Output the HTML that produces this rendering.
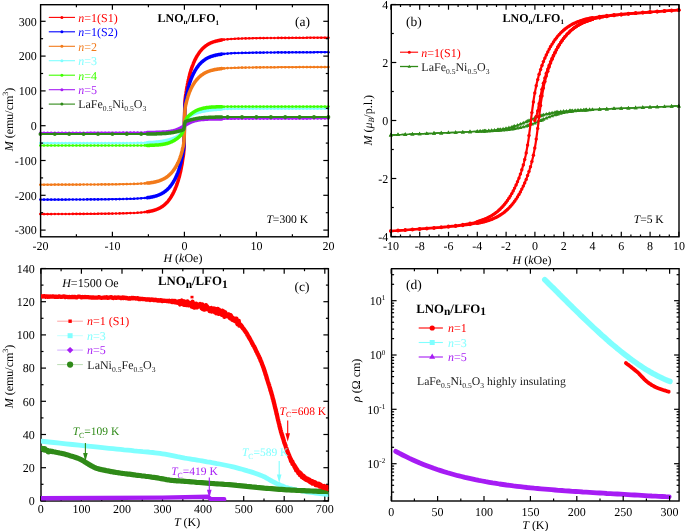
<!DOCTYPE html>
<html><head><meta charset="utf-8"><style>html,body{margin:0;padding:0;background:#fff;}svg text{font-family:"Liberation Serif",serif;text-rendering:geometricPrecision;}svg{display:block;filter:blur(0.3px);}</style></head>
<body>
<svg width="685" height="531" viewBox="0 0 685 531">
<rect width="685" height="531" fill="#fff"/>
<path d="M40.4,214.1 L42.2,214.1 L44,214.1 L45.8,214.1 L47.6,214.1 L49.4,214.1 L51.2,214.1 L53,214 L54.8,214 L56.6,214 L58.4,214 L60.2,214 L62,214 L63.8,214 L65.6,214 L67.4,214 L69.2,214 L71,214 L72.8,213.9 L74.6,213.9 L76.4,213.9 L78.2,213.9 L80,213.9 L81.8,213.9 L83.6,213.9 L85.4,213.9 L87.2,213.8 L89,213.8 L90.8,213.8 L92.6,213.8 L94.4,213.8 L96.2,213.8 L98,213.7 L99.8,213.7 L101.6,213.7 L103.4,213.7 L105.2,213.7 L107,213.6 L108.8,213.6 L110.6,213.6 L112.4,213.6 L114.2,213.5 L116,213.5 L117.8,213.5 L119.6,213.4 L121.4,213.4 L123.2,213.3 L125,213.3 L126.8,213.2 L128.6,213.2 L130.4,213.1 L132.2,213 L134,213 L135.8,212.9 L137.6,212.7 L139.4,212.6 L141.2,212.5 L141.5,212.5 L141.7,212.4 L141.9,212.4 L142.1,212.4 L142.3,212.4 L142.5,212.3 L142.8,212.3 L143,212.3 L143,212.3 L143.2,212.3 L143.4,212.3 L143.6,212.2 L143.8,212.2 L144.1,212.2 L144.3,212.2 L144.5,212.1 L144.7,212.1 L144.8,212.1 L144.9,212.1 L145.1,212.1 L145.4,212 L145.6,212 L145.8,212 L146,211.9 L146.2,211.9 L146.4,211.9 L146.6,211.9 L146.9,211.8 L147.1,211.8 L147.3,211.8 L147.5,211.7 L147.7,211.7 L147.9,211.7 L148.2,211.6 L148.4,211.6 L148.4,211.6 L148.6,211.5 L148.8,211.5 L149,211.5 L149.2,211.4 L149.5,211.4 L149.7,211.3 L149.9,211.3 L150.1,211.3 L150.2,211.2 L150.3,211.2 L150.5,211.2 L150.8,211.1 L151,211.1 L151.2,211 L151.4,211 L151.6,210.9 L151.8,210.9 L152,210.8 L152.3,210.8 L152.5,210.7 L152.7,210.7 L152.9,210.6 L153.1,210.6 L153.3,210.5 L153.6,210.4 L153.8,210.4 L153.8,210.3 L154,210.3 L154.2,210.2 L154.4,210.2 L154.6,210.1 L154.9,210 L155.1,210 L155.3,209.9 L155.5,209.8 L155.6,209.8 L155.7,209.7 L155.9,209.7 L156.2,209.6 L156.4,209.5 L156.6,209.4 L156.8,209.3 L157,209.3 L157.2,209.2 L157.4,209.1 L157.7,209 L157.9,208.9 L158.1,208.8 L158.3,208.7 L158.5,208.6 L158.7,208.5 L159,208.4 L159.2,208.3 L159.2,208.3 L159.4,208.2 L159.6,208.1 L159.8,208 L160,207.8 L160.3,207.7 L160.5,207.6 L160.7,207.5 L160.9,207.3 L161,207.3 L161.1,207.2 L161.3,207.1 L161.6,206.9 L161.8,206.8 L162,206.7 L162.2,206.5 L162.4,206.4 L162.6,206.2 L162.8,206.1 L163.1,205.9 L163.3,205.7 L163.5,205.6 L163.7,205.4 L163.9,205.2 L164.1,205.1 L164.4,204.9 L164.6,204.7 L164.6,204.6 L164.8,204.5 L165,204.3 L165.2,204.1 L165.4,203.9 L165.7,203.7 L165.9,203.5 L166.1,203.3 L166.3,203.1 L166.4,202.9 L166.5,202.9 L166.7,202.6 L167,202.4 L167.2,202.2 L167.4,201.9 L167.6,201.7 L167.8,201.4 L168,201.2 L168.2,200.9 L168.5,200.6 L168.7,200.4 L168.9,200.1 L169.1,199.8 L169.3,199.5 L169.5,199.2 L169.8,198.9 L170,198.6 L170,198.5 L170.2,198.3 L170.4,198 L170.6,197.6 L170.8,197.3 L171.1,197 L171.3,196.6 L171.5,196.3 L171.7,195.9 L171.8,195.6 L171.9,195.5 L172.1,195.1 L172.4,194.8 L172.6,194.4 L172.8,194 L173,193.6 L173.2,193.1 L173.4,192.7 L173.6,192.3 L173.9,191.8 L174.1,191.4 L174.3,190.9 L174.5,190.4 L174.7,190 L174.9,189.5 L175.2,189 L175.4,188.4 L175.4,188.3 L175.6,187.9 L175.8,187.4 L176,186.8 L176.2,186.3 L176.5,185.7 L176.7,185.1 L176.9,184.5 L177.1,183.9 L177.2,183.5 L177.3,183.3 L177.5,182.6 L177.8,181.9 L178,181.3 L178.2,180.6 L178.4,179.8 L178.6,179.1 L178.8,178.4 L179,177.6 L179.3,176.8 L179.5,175.9 L179.7,175.1 L179.9,174.2 L180.1,173.3 L180.3,172.4 L180.6,171.4 L180.8,170.4 L180.8,170 L181,169.3 L181.2,168.3 L181.4,167.2 L181.6,166 L181.9,164.8 L182.1,163.6 L182.3,162.3 L182.5,161 L182.6,160.1 L182.7,159.6 L182.9,158.2 L183.2,156.7 L183.4,155.2 L183.6,153.7 L183.8,151.7 L184,148.6 L184.2,141.1 L184.4,125.7 L184.7,110.3 L184.9,102.9 L185.1,99.8 L185.3,97.9 L185.5,96.3 L185.7,94.8 L186,93.3 L186.2,91.9 L186.2,91.5 L186.4,90.6 L186.6,89.3 L186.8,88 L187,86.8 L187.3,85.6 L187.5,84.4 L187.7,83.3 L187.9,82.2 L188,81.5 L188.1,81.2 L188.3,80.2 L188.6,79.2 L188.8,78.3 L189,77.4 L189.2,76.5 L189.4,75.7 L189.6,74.8 L189.8,74 L190.1,73.3 L190.3,72.5 L190.5,71.8 L190.7,71 L190.9,70.4 L191.1,69.7 L191.4,69 L191.6,68.4 L191.6,68.2 L191.8,67.7 L192,67.1 L192.2,66.5 L192.4,65.9 L192.7,65.4 L192.9,64.8 L193.1,64.3 L193.3,63.7 L193.4,63.4 L193.5,63.2 L193.7,62.7 L194,62.2 L194.2,61.7 L194.4,61.2 L194.6,60.7 L194.8,60.3 L195,59.8 L195.2,59.4 L195.5,59 L195.7,58.5 L195.9,58.1 L196.1,57.7 L196.3,57.3 L196.5,56.9 L196.8,56.5 L197,56.2 L197,56 L197.2,55.8 L197.4,55.4 L197.6,55.1 L197.8,54.7 L198.1,54.4 L198.3,54 L198.5,53.7 L198.7,53.4 L198.8,53.2 L198.9,53.1 L199.1,52.8 L199.4,52.5 L199.6,52.2 L199.8,51.9 L200,51.6 L200.2,51.3 L200.4,51.1 L200.6,50.8 L200.9,50.5 L201.1,50.3 L201.3,50 L201.5,49.8 L201.7,49.5 L201.9,49.3 L202.2,49.1 L202.4,48.8 L202.4,48.8 L202.6,48.6 L202.8,48.4 L203,48.2 L203.2,48 L203.5,47.8 L203.7,47.6 L203.9,47.4 L204.1,47.2 L204.2,47.1 L204.3,47 L204.5,46.8 L204.8,46.7 L205,46.5 L205.2,46.3 L205.4,46.1 L205.6,46 L205.8,45.8 L206,45.7 L206.3,45.5 L206.5,45.3 L206.7,45.2 L206.9,45.1 L207.1,44.9 L207.3,44.8 L207.6,44.6 L207.8,44.5 L207.8,44.5 L208,44.4 L208.2,44.3 L208.4,44.1 L208.6,44 L208.9,43.9 L209.1,43.8 L209.3,43.7 L209.5,43.5 L209.6,43.5 L209.7,43.4 L209.9,43.3 L210.2,43.2 L210.4,43.1 L210.6,43 L210.8,42.9 L211,42.8 L211.2,42.7 L211.4,42.6 L211.7,42.6 L211.9,42.5 L212.1,42.4 L212.3,42.3 L212.5,42.2 L212.7,42.1 L213,42.1 L213.2,42 L213.2,42 L213.4,41.9 L213.6,41.8 L213.8,41.8 L214,41.7 L214.3,41.6 L214.5,41.6 L214.7,41.5 L214.9,41.4 L215,41.4 L215.1,41.4 L215.3,41.3 L215.6,41.2 L215.8,41.2 L216,41.1 L216.2,41.1 L216.4,41 L216.6,41 L216.8,40.9 L217.1,40.9 L217.3,40.8 L217.5,40.8 L217.7,40.7 L217.9,40.7 L218.1,40.6 L218.4,40.6 L218.6,40.5 L218.6,40.5 L218.8,40.5 L219,40.4 L219.2,40.4 L219.4,40.3 L219.7,40.3 L219.9,40.3 L220.1,40.2 L220.3,40.2 L220.4,40.2 L220.5,40.2 L220.7,40.1 L221,40.1 L221.2,40 L221.4,40 L221.6,40 L221.8,39.9 L222,39.9 L222.2,39.9 L222.5,39.9 L222.7,39.8 L222.9,39.8 L223.1,39.8 L223.3,39.7 L223.5,39.7 L223.8,39.7 L224,39.7 L224,39.6 L224.2,39.6 L224.4,39.6 L224.6,39.6 L224.8,39.6 L225.1,39.5 L225.3,39.5 L225.5,39.5 L225.7,39.5 L225.8,39.4 L225.9,39.4 L226.1,39.4 L226.4,39.4 L226.6,39.4 L226.8,39.4 L227,39.3 L227.2,39.3 L227.4,39.3 L227.6,39.3 L229.4,39.1 L231.2,39 L233,38.9 L234.8,38.8 L236.6,38.7 L238.4,38.6 L240.2,38.6 L242,38.5 L243.8,38.4 L245.6,38.4 L247.4,38.4 L249.2,38.3 L251.1,38.3 L252.8,38.2 L254.6,38.2 L256.4,38.2 L258.2,38.2 L260.1,38.1 L261.9,38.1 L263.6,38.1 L265.4,38.1 L267.2,38 L269.1,38 L270.9,38 L272.6,38 L274.4,38 L276.2,38 L278.1,37.9 L279.9,37.9 L281.6,37.9 L283.4,37.9 L285.2,37.9 L287.1,37.9 L288.9,37.9 L290.6,37.8 L292.4,37.8 L294.2,37.8 L296.1,37.8 L297.9,37.8 L299.6,37.8 L301.4,37.8 L303.2,37.8 L305.1,37.8 L306.9,37.7 L308.6,37.7 L310.4,37.7 L312.2,37.7 L314,37.7 L315.9,37.7 L317.6,37.7 L319.4,37.7 L321.2,37.7 L323,37.7 L324.9,37.7 L326.6,37.7 L328.4,37.7" fill="none" stroke="#ff0000" stroke-width="1.7" stroke-linejoin="round" stroke-linecap="round"/>
<path d="M147.1,211.8 L147.3,211.8 L147.5,211.7 L147.7,211.7 L147.9,211.7 L148.2,211.6 L148.4,211.6 L148.4,211.6 L148.6,211.5 L148.8,211.5 L149,211.5 L149.2,211.4 L149.5,211.4 L149.7,211.3 L149.9,211.3 L150.1,211.3 L150.2,211.2 L150.3,211.2 L150.5,211.2 L150.8,211.1 L151,211.1 L151.2,211 L151.4,211 L151.6,210.9 L151.8,210.9 L152,210.8 L152.3,210.8 L152.5,210.7 L152.7,210.7 L152.9,210.6 L153.1,210.6 L153.3,210.5 L153.6,210.4 L153.8,210.4 L153.8,210.3 L154,210.3 L154.2,210.2 L154.4,210.2 L154.6,210.1 L154.9,210 L155.1,210 L155.3,209.9 L155.5,209.8 L155.6,209.8 L155.7,209.7 L155.9,209.7 L156.2,209.6 L156.4,209.5 L156.6,209.4 L156.8,209.3 L157,209.3 L157.2,209.2 L157.4,209.1 L157.7,209 L157.9,208.9 L158.1,208.8 L158.3,208.7 L158.5,208.6 L158.7,208.5 L159,208.4 L159.2,208.3 L159.2,208.3 L159.4,208.2 L159.6,208.1 L159.8,208 L160,207.8 L160.3,207.7 L160.5,207.6 L160.7,207.5 L160.9,207.3 L161,207.3 L161.1,207.2 L161.3,207.1 L161.6,206.9 L161.8,206.8 L162,206.7 L162.2,206.5 L162.4,206.4 L162.6,206.2 L162.8,206.1 L163.1,205.9 L163.3,205.7 L163.5,205.6 L163.7,205.4 L163.9,205.2 L164.1,205.1 L164.4,204.9 L164.6,204.7 L164.6,204.6 L164.8,204.5 L165,204.3 L165.2,204.1 L165.4,203.9 L165.7,203.7 L165.9,203.5 L166.1,203.3 L166.3,203.1 L166.4,202.9 L166.5,202.9 L166.7,202.6 L167,202.4 L167.2,202.2 L167.4,201.9 L167.6,201.7 L167.8,201.4 L168,201.2 L168.2,200.9 L168.5,200.6 L168.7,200.4 L168.9,200.1 L169.1,199.8 L169.3,199.5 L169.5,199.2 L169.8,198.9 L170,198.6 L170,198.5 L170.2,198.3 L170.4,198 L170.6,197.6 L170.8,197.3 L171.1,197 L171.3,196.6 L171.5,196.3 L171.7,195.9 L171.8,195.6 L171.9,195.5 L172.1,195.1 L172.4,194.8 L172.6,194.4 L172.8,194 L173,193.6 L173.2,193.1 L173.4,192.7 L173.6,192.3 L173.9,191.8 L174.1,191.4 L174.3,190.9 L174.5,190.4 L174.7,190 L174.9,189.5 L175.2,189 L175.4,188.4 L175.4,188.3 L175.6,187.9 L175.8,187.4 L176,186.8 L176.2,186.3 L176.5,185.7 L176.7,185.1 L176.9,184.5 L177.1,183.9 L177.2,183.5 L177.3,183.3 L177.5,182.6 L177.8,181.9 L178,181.3 L178.2,180.6 L178.4,179.8 L178.6,179.1 L178.8,178.4 L179,177.6 L179.3,176.8 L179.5,175.9 L179.7,175.1 L179.9,174.2 L180.1,173.3 L180.3,172.4 L180.6,171.4 L180.8,170.4 L180.8,170 L181,169.3 L181.2,168.3 L181.4,167.2 L181.6,166 L181.9,164.8 L182.1,163.6 L182.3,162.3 L182.5,161 L182.6,160.1 L182.7,159.6 L182.9,158.2 L183.2,156.7 L183.4,155.2 L183.6,153.7 L183.8,151.7 L184,148.6 L184.2,141.1 L184.4,125.7 L184.7,110.3 L184.9,102.9 L185.1,99.8 L185.3,97.9 L185.5,96.3 L185.7,94.8 L186,93.3 L186.2,91.9 L186.2,91.5 L186.4,90.6 L186.6,89.3 L186.8,88 L187,86.8 L187.3,85.6 L187.5,84.4 L187.7,83.3 L187.9,82.2 L188,81.5 L188.1,81.2 L188.3,80.2 L188.6,79.2 L188.8,78.3 L189,77.4 L189.2,76.5 L189.4,75.7 L189.6,74.8 L189.8,74 L190.1,73.3 L190.3,72.5 L190.5,71.8 L190.7,71 L190.9,70.4 L191.1,69.7 L191.4,69 L191.6,68.4 L191.6,68.2 L191.8,67.7 L192,67.1 L192.2,66.5 L192.4,65.9 L192.7,65.4 L192.9,64.8 L193.1,64.3 L193.3,63.7 L193.4,63.4 L193.5,63.2 L193.7,62.7 L194,62.2 L194.2,61.7 L194.4,61.2 L194.6,60.7 L194.8,60.3 L195,59.8 L195.2,59.4 L195.5,59 L195.7,58.5 L195.9,58.1 L196.1,57.7 L196.3,57.3 L196.5,56.9 L196.8,56.5 L197,56.2 L197,56 L197.2,55.8 L197.4,55.4 L197.6,55.1 L197.8,54.7 L198.1,54.4 L198.3,54 L198.5,53.7 L198.7,53.4 L198.8,53.2 L198.9,53.1 L199.1,52.8 L199.4,52.5 L199.6,52.2 L199.8,51.9 L200,51.6 L200.2,51.3 L200.4,51.1 L200.6,50.8 L200.9,50.5 L201.1,50.3 L201.3,50 L201.5,49.8 L201.7,49.5 L201.9,49.3 L202.2,49.1 L202.4,48.8 L202.4,48.8 L202.6,48.6 L202.8,48.4 L203,48.2 L203.2,48 L203.5,47.8 L203.7,47.6 L203.9,47.4 L204.1,47.2 L204.2,47.1 L204.3,47 L204.5,46.8 L204.8,46.7 L205,46.5 L205.2,46.3 L205.4,46.1 L205.6,46 L205.8,45.8 L206,45.7 L206.3,45.5 L206.5,45.3 L206.7,45.2 L206.9,45.1 L207.1,44.9 L207.3,44.8 L207.6,44.6 L207.8,44.5 L207.8,44.5 L208,44.4 L208.2,44.3 L208.4,44.1 L208.6,44 L208.9,43.9 L209.1,43.8 L209.3,43.7 L209.5,43.5 L209.6,43.5 L209.7,43.4 L209.9,43.3 L210.2,43.2 L210.4,43.1 L210.6,43 L210.8,42.9 L211,42.8 L211.2,42.7 L211.4,42.6 L211.7,42.6 L211.9,42.5 L212.1,42.4 L212.3,42.3 L212.5,42.2 L212.7,42.1 L213,42.1 L213.2,42 L213.2,42 L213.4,41.9 L213.6,41.8 L213.8,41.8 L214,41.7 L214.3,41.6 L214.5,41.6 L214.7,41.5 L214.9,41.4 L215,41.4 L215.1,41.4 L215.3,41.3 L215.6,41.2 L215.8,41.2 L216,41.1 L216.2,41.1 L216.4,41 L216.6,41 L216.8,40.9 L217.1,40.9 L217.3,40.8 L217.5,40.8 L217.7,40.7 L217.9,40.7 L218.1,40.6 L218.4,40.6 L218.6,40.5 L218.6,40.5 L218.8,40.5 L219,40.4 L219.2,40.4 L219.4,40.3 L219.7,40.3 L219.9,40.3 L220.1,40.2 L220.3,40.2 L220.4,40.2 L220.5,40.2 L220.7,40.1 L221,40.1 L221.2,40 L221.4,40 L221.6,40 L221.8,39.9" fill="none" stroke="#ff0000" stroke-width="3.5" stroke-linejoin="round" stroke-linecap="round"/>
<g fill="#ff0000"><circle cx="40.4" cy="214.1" r="1.3"/><circle cx="44" cy="214.1" r="1.3"/><circle cx="47.6" cy="214.1" r="1.3"/><circle cx="51.2" cy="214.1" r="1.3"/><circle cx="54.8" cy="214" r="1.3"/><circle cx="58.4" cy="214" r="1.3"/><circle cx="62" cy="214" r="1.3"/><circle cx="65.6" cy="214" r="1.3"/><circle cx="69.2" cy="214" r="1.3"/><circle cx="72.8" cy="213.9" r="1.3"/><circle cx="76.4" cy="213.9" r="1.3"/><circle cx="80" cy="213.9" r="1.3"/><circle cx="83.6" cy="213.9" r="1.3"/><circle cx="87.2" cy="213.8" r="1.3"/><circle cx="90.8" cy="213.8" r="1.3"/><circle cx="94.4" cy="213.8" r="1.3"/><circle cx="98" cy="213.7" r="1.3"/><circle cx="101.6" cy="213.7" r="1.3"/><circle cx="105.2" cy="213.7" r="1.3"/><circle cx="108.8" cy="213.6" r="1.3"/><circle cx="112.4" cy="213.6" r="1.3"/><circle cx="116" cy="213.5" r="1.3"/><circle cx="119.6" cy="213.4" r="1.3"/><circle cx="123.2" cy="213.3" r="1.3"/><circle cx="126.8" cy="213.2" r="1.3"/><circle cx="130.4" cy="213.1" r="1.3"/><circle cx="134" cy="213" r="1.3"/><circle cx="137.6" cy="212.7" r="1.3"/><circle cx="141.2" cy="212.5" r="1.3"/><circle cx="144.8" cy="212.1" r="1.3"/><circle cx="148.4" cy="211.6" r="1.3"/><circle cx="220.4" cy="40.2" r="1.3"/><circle cx="224" cy="39.6" r="1.3"/><circle cx="227.6" cy="39.3" r="1.3"/><circle cx="231.2" cy="39" r="1.3"/><circle cx="234.8" cy="38.8" r="1.3"/><circle cx="238.4" cy="38.6" r="1.3"/><circle cx="242" cy="38.5" r="1.3"/><circle cx="245.6" cy="38.4" r="1.3"/><circle cx="249.2" cy="38.3" r="1.3"/><circle cx="252.8" cy="38.2" r="1.3"/><circle cx="256.4" cy="38.2" r="1.3"/><circle cx="260.1" cy="38.1" r="1.3"/><circle cx="263.6" cy="38.1" r="1.3"/><circle cx="267.2" cy="38" r="1.3"/><circle cx="270.9" cy="38" r="1.3"/><circle cx="274.4" cy="38" r="1.3"/><circle cx="278.1" cy="37.9" r="1.3"/><circle cx="281.6" cy="37.9" r="1.3"/><circle cx="285.2" cy="37.9" r="1.3"/><circle cx="288.9" cy="37.9" r="1.3"/><circle cx="292.4" cy="37.8" r="1.3"/><circle cx="296.1" cy="37.8" r="1.3"/><circle cx="299.6" cy="37.8" r="1.3"/><circle cx="303.2" cy="37.8" r="1.3"/><circle cx="306.9" cy="37.7" r="1.3"/><circle cx="310.4" cy="37.7" r="1.3"/><circle cx="314" cy="37.7" r="1.3"/><circle cx="317.6" cy="37.7" r="1.3"/><circle cx="321.2" cy="37.7" r="1.3"/><circle cx="324.9" cy="37.7" r="1.3"/><circle cx="328.4" cy="37.7" r="1.3"/></g>
<path d="M40.4,199.6 L42.2,199.6 L44,199.6 L45.8,199.6 L47.6,199.6 L49.4,199.6 L51.2,199.6 L53,199.6 L54.8,199.6 L56.6,199.6 L58.4,199.6 L60.2,199.6 L62,199.6 L63.8,199.6 L65.6,199.6 L67.4,199.6 L69.2,199.5 L71,199.5 L72.8,199.5 L74.6,199.5 L76.4,199.5 L78.2,199.5 L80,199.5 L81.8,199.5 L83.6,199.5 L85.4,199.5 L87.2,199.4 L89,199.4 L90.8,199.4 L92.6,199.4 L94.4,199.4 L96.2,199.4 L98,199.4 L99.8,199.3 L101.6,199.3 L103.4,199.3 L105.2,199.3 L107,199.3 L108.8,199.3 L110.6,199.2 L112.4,199.2 L114.2,199.2 L116,199.2 L117.8,199.1 L119.6,199.1 L121.4,199.1 L123.2,199 L125,199 L126.8,198.9 L128.6,198.9 L130.4,198.8 L132.2,198.8 L134,198.7 L135.8,198.6 L137.6,198.5 L139.4,198.4 L141.2,198.3 L141.5,198.3 L141.7,198.3 L141.9,198.2 L142.1,198.2 L142.3,198.2 L142.5,198.2 L142.8,198.2 L143,198.2 L143,198.1 L143.2,198.1 L143.4,198.1 L143.6,198.1 L143.8,198.1 L144.1,198.1 L144.3,198 L144.5,198 L144.7,198 L144.8,198 L144.9,198 L145.1,197.9 L145.4,197.9 L145.6,197.9 L145.8,197.9 L146,197.9 L146.2,197.8 L146.4,197.8 L146.6,197.8 L146.9,197.8 L147.1,197.7 L147.3,197.7 L147.5,197.7 L147.7,197.6 L147.9,197.6 L148.2,197.6 L148.4,197.5 L148.4,197.5 L148.6,197.5 L148.8,197.5 L149,197.5 L149.2,197.4 L149.5,197.4 L149.7,197.4 L149.9,197.3 L150.1,197.3 L150.2,197.3 L150.3,197.2 L150.5,197.2 L150.8,197.2 L151,197.1 L151.2,197.1 L151.4,197 L151.6,197 L151.8,197 L152,196.9 L152.3,196.9 L152.5,196.8 L152.7,196.8 L152.9,196.7 L153.1,196.7 L153.3,196.6 L153.6,196.6 L153.8,196.5 L153.8,196.5 L154,196.5 L154.2,196.4 L154.4,196.4 L154.6,196.3 L154.9,196.3 L155.1,196.2 L155.3,196.1 L155.5,196.1 L155.6,196 L155.7,196 L155.9,195.9 L156.2,195.9 L156.4,195.8 L156.6,195.7 L156.8,195.7 L157,195.6 L157.2,195.5 L157.4,195.5 L157.7,195.4 L157.9,195.3 L158.1,195.2 L158.3,195.1 L158.5,195.1 L158.7,195 L159,194.9 L159.2,194.8 L159.2,194.8 L159.4,194.7 L159.6,194.6 L159.8,194.5 L160,194.4 L160.3,194.3 L160.5,194.2 L160.7,194.1 L160.9,194 L161,193.9 L161.1,193.9 L161.3,193.8 L161.6,193.7 L161.8,193.6 L162,193.4 L162.2,193.3 L162.4,193.2 L162.6,193.1 L162.8,192.9 L163.1,192.8 L163.3,192.7 L163.5,192.5 L163.7,192.4 L163.9,192.2 L164.1,192.1 L164.4,191.9 L164.6,191.8 L164.6,191.7 L164.8,191.6 L165,191.5 L165.2,191.3 L165.4,191.1 L165.7,191 L165.9,190.8 L166.1,190.6 L166.3,190.4 L166.4,190.3 L166.5,190.3 L166.7,190.1 L167,189.9 L167.2,189.7 L167.4,189.5 L167.6,189.3 L167.8,189.1 L168,188.8 L168.2,188.6 L168.5,188.4 L168.7,188.2 L168.9,187.9 L169.1,187.7 L169.3,187.5 L169.5,187.2 L169.8,187 L170,186.7 L170,186.6 L170.2,186.4 L170.4,186.2 L170.6,185.9 L170.8,185.6 L171.1,185.3 L171.3,185 L171.5,184.7 L171.7,184.4 L171.8,184.2 L171.9,184.1 L172.1,183.8 L172.4,183.5 L172.6,183.1 L172.8,182.8 L173,182.5 L173.2,182.1 L173.4,181.8 L173.6,181.4 L173.9,181 L174.1,180.6 L174.3,180.3 L174.5,179.9 L174.7,179.5 L174.9,179 L175.2,178.6 L175.4,178.2 L175.4,178 L175.6,177.8 L175.8,177.3 L176,176.8 L176.2,176.4 L176.5,175.9 L176.7,175.4 L176.9,174.9 L177.1,174.4 L177.2,174 L177.3,173.9 L177.5,173.3 L177.8,172.8 L178,172.2 L178.2,171.6 L178.4,171 L178.6,170.4 L178.8,169.8 L179,169.1 L179.3,168.4 L179.5,167.7 L179.7,167 L179.9,166.3 L180.1,165.5 L180.3,164.7 L180.6,163.9 L180.8,163.1 L180.8,162.8 L181,162.2 L181.2,161.3 L181.4,160.4 L181.6,159.4 L181.9,158.4 L182.1,157.4 L182.3,156.3 L182.5,155.2 L182.6,154.4 L182.7,154.1 L182.9,152.9 L183.2,151.7 L183.4,150.4 L183.6,149.1 L183.8,147.5 L184,144.9 L184.2,138.6 L184.4,125.7 L184.7,112.9 L184.9,106.7 L185.1,104 L185.3,102.5 L185.5,101.1 L185.7,99.9 L186,98.7 L186.2,97.5 L186.2,97.1 L186.4,96.4 L186.6,95.3 L186.8,94.2 L187,93.2 L187.3,92.2 L187.5,91.2 L187.7,90.3 L187.9,89.4 L188,88.8 L188.1,88.5 L188.3,87.7 L188.6,86.9 L188.8,86.1 L189,85.4 L189.2,84.6 L189.4,83.9 L189.6,83.2 L189.8,82.6 L190.1,81.9 L190.3,81.3 L190.5,80.7 L190.7,80.1 L190.9,79.5 L191.1,78.9 L191.4,78.4 L191.6,77.8 L191.6,77.7 L191.8,77.3 L192,76.8 L192.2,76.3 L192.4,75.8 L192.7,75.3 L192.9,74.9 L193.1,74.4 L193.3,74 L193.4,73.7 L193.5,73.5 L193.7,73.1 L194,72.7 L194.2,72.3 L194.4,71.9 L194.6,71.5 L194.8,71.1 L195,70.7 L195.2,70.3 L195.5,70 L195.7,69.6 L195.9,69.3 L196.1,68.9 L196.3,68.6 L196.5,68.3 L196.8,68 L197,67.6 L197,67.5 L197.2,67.3 L197.4,67 L197.6,66.7 L197.8,66.4 L198.1,66.2 L198.3,65.9 L198.5,65.6 L198.7,65.3 L198.8,65.2 L198.9,65.1 L199.1,64.8 L199.4,64.6 L199.6,64.3 L199.8,64.1 L200,63.8 L200.2,63.6 L200.4,63.4 L200.6,63.2 L200.9,62.9 L201.1,62.7 L201.3,62.5 L201.5,62.3 L201.7,62.1 L201.9,61.9 L202.2,61.7 L202.4,61.5 L202.4,61.5 L202.6,61.4 L202.8,61.2 L203,61 L203.2,60.8 L203.5,60.7 L203.7,60.5 L203.9,60.3 L204.1,60.2 L204.2,60.1 L204.3,60 L204.5,59.9 L204.8,59.7 L205,59.6 L205.2,59.4 L205.4,59.3 L205.6,59.1 L205.8,59 L206,58.9 L206.3,58.7 L206.5,58.6 L206.7,58.5 L206.9,58.4 L207.1,58.3 L207.3,58.1 L207.6,58 L207.8,57.9 L207.8,57.9 L208,57.8 L208.2,57.7 L208.4,57.6 L208.6,57.5 L208.9,57.4 L209.1,57.3 L209.3,57.2 L209.5,57.1 L209.6,57.1 L209.7,57 L209.9,56.9 L210.2,56.9 L210.4,56.8 L210.6,56.7 L210.8,56.6 L211,56.5 L211.2,56.4 L211.4,56.4 L211.7,56.3 L211.9,56.2 L212.1,56.2 L212.3,56.1 L212.5,56 L212.7,55.9 L213,55.9 L213.2,55.8 L213.2,55.8 L213.4,55.8 L213.6,55.7 L213.8,55.6 L214,55.6 L214.3,55.5 L214.5,55.5 L214.7,55.4 L214.9,55.4 L215,55.3 L215.1,55.3 L215.3,55.2 L215.6,55.2 L215.8,55.1 L216,55.1 L216.2,55.1 L216.4,55 L216.6,55 L216.8,54.9 L217.1,54.9 L217.3,54.8 L217.5,54.8 L217.7,54.7 L217.9,54.7 L218.1,54.7 L218.4,54.6 L218.6,54.6 L218.6,54.6 L218.8,54.6 L219,54.5 L219.2,54.5 L219.4,54.5 L219.7,54.4 L219.9,54.4 L220.1,54.4 L220.3,54.3 L220.4,54.3 L220.5,54.3 L220.7,54.3 L221,54.2 L221.2,54.2 L221.4,54.2 L221.6,54.1 L221.8,54.1 L222,54.1 L222.2,54.1 L222.5,54 L222.7,54 L222.9,54 L223.1,54 L223.3,53.9 L223.5,53.9 L223.8,53.9 L224,53.9 L224,53.9 L224.2,53.8 L224.4,53.8 L224.6,53.8 L224.8,53.8 L225.1,53.8 L225.3,53.7 L225.5,53.7 L225.7,53.7 L225.8,53.7 L225.9,53.7 L226.1,53.7 L226.4,53.7 L226.6,53.6 L226.8,53.6 L227,53.6 L227.2,53.6 L227.4,53.6 L227.6,53.6 L229.4,53.4 L231.2,53.3 L233,53.2 L234.8,53.1 L236.6,53.1 L238.4,53 L240.2,53 L242,52.9 L243.8,52.9 L245.6,52.8 L247.4,52.8 L249.2,52.8 L251.1,52.7 L252.8,52.7 L254.6,52.7 L256.4,52.6 L258.2,52.6 L260.1,52.6 L261.9,52.6 L263.6,52.6 L265.4,52.5 L267.2,52.5 L269.1,52.5 L270.9,52.5 L272.6,52.5 L274.4,52.5 L276.2,52.4 L278.1,52.4 L279.9,52.4 L281.6,52.4 L283.4,52.4 L285.2,52.4 L287.1,52.4 L288.9,52.4 L290.6,52.4 L292.4,52.3 L294.2,52.3 L296.1,52.3 L297.9,52.3 L299.6,52.3 L301.4,52.3 L303.2,52.3 L305.1,52.3 L306.9,52.3 L308.6,52.3 L310.4,52.3 L312.2,52.3 L314,52.3 L315.9,52.2 L317.6,52.2 L319.4,52.2 L321.2,52.2 L323,52.2 L324.9,52.2 L326.6,52.2 L328.4,52.2" fill="none" stroke="#0000ff" stroke-width="1.7" stroke-linejoin="round" stroke-linecap="round"/>
<path d="M147.1,197.7 L147.3,197.7 L147.5,197.7 L147.7,197.6 L147.9,197.6 L148.2,197.6 L148.4,197.5 L148.4,197.5 L148.6,197.5 L148.8,197.5 L149,197.5 L149.2,197.4 L149.5,197.4 L149.7,197.4 L149.9,197.3 L150.1,197.3 L150.2,197.3 L150.3,197.2 L150.5,197.2 L150.8,197.2 L151,197.1 L151.2,197.1 L151.4,197 L151.6,197 L151.8,197 L152,196.9 L152.3,196.9 L152.5,196.8 L152.7,196.8 L152.9,196.7 L153.1,196.7 L153.3,196.6 L153.6,196.6 L153.8,196.5 L153.8,196.5 L154,196.5 L154.2,196.4 L154.4,196.4 L154.6,196.3 L154.9,196.3 L155.1,196.2 L155.3,196.1 L155.5,196.1 L155.6,196 L155.7,196 L155.9,195.9 L156.2,195.9 L156.4,195.8 L156.6,195.7 L156.8,195.7 L157,195.6 L157.2,195.5 L157.4,195.5 L157.7,195.4 L157.9,195.3 L158.1,195.2 L158.3,195.1 L158.5,195.1 L158.7,195 L159,194.9 L159.2,194.8 L159.2,194.8 L159.4,194.7 L159.6,194.6 L159.8,194.5 L160,194.4 L160.3,194.3 L160.5,194.2 L160.7,194.1 L160.9,194 L161,193.9 L161.1,193.9 L161.3,193.8 L161.6,193.7 L161.8,193.6 L162,193.4 L162.2,193.3 L162.4,193.2 L162.6,193.1 L162.8,192.9 L163.1,192.8 L163.3,192.7 L163.5,192.5 L163.7,192.4 L163.9,192.2 L164.1,192.1 L164.4,191.9 L164.6,191.8 L164.6,191.7 L164.8,191.6 L165,191.5 L165.2,191.3 L165.4,191.1 L165.7,191 L165.9,190.8 L166.1,190.6 L166.3,190.4 L166.4,190.3 L166.5,190.3 L166.7,190.1 L167,189.9 L167.2,189.7 L167.4,189.5 L167.6,189.3 L167.8,189.1 L168,188.8 L168.2,188.6 L168.5,188.4 L168.7,188.2 L168.9,187.9 L169.1,187.7 L169.3,187.5 L169.5,187.2 L169.8,187 L170,186.7 L170,186.6 L170.2,186.4 L170.4,186.2 L170.6,185.9 L170.8,185.6 L171.1,185.3 L171.3,185 L171.5,184.7 L171.7,184.4 L171.8,184.2 L171.9,184.1 L172.1,183.8 L172.4,183.5 L172.6,183.1 L172.8,182.8 L173,182.5 L173.2,182.1 L173.4,181.8 L173.6,181.4 L173.9,181 L174.1,180.6 L174.3,180.3 L174.5,179.9 L174.7,179.5 L174.9,179 L175.2,178.6 L175.4,178.2 L175.4,178 L175.6,177.8 L175.8,177.3 L176,176.8 L176.2,176.4 L176.5,175.9 L176.7,175.4 L176.9,174.9 L177.1,174.4 L177.2,174 L177.3,173.9 L177.5,173.3 L177.8,172.8 L178,172.2 L178.2,171.6 L178.4,171 L178.6,170.4 L178.8,169.8 L179,169.1 L179.3,168.4 L179.5,167.7 L179.7,167 L179.9,166.3 L180.1,165.5 L180.3,164.7 L180.6,163.9 L180.8,163.1 L180.8,162.8 L181,162.2 L181.2,161.3 L181.4,160.4 L181.6,159.4 L181.9,158.4 L182.1,157.4 L182.3,156.3 L182.5,155.2 L182.6,154.4 L182.7,154.1 L182.9,152.9 L183.2,151.7 L183.4,150.4 L183.6,149.1 L183.8,147.5 L184,144.9 L184.2,138.6 L184.4,125.7 L184.7,112.9 L184.9,106.7 L185.1,104 L185.3,102.5 L185.5,101.1 L185.7,99.9 L186,98.7 L186.2,97.5 L186.2,97.1 L186.4,96.4 L186.6,95.3 L186.8,94.2 L187,93.2 L187.3,92.2 L187.5,91.2 L187.7,90.3 L187.9,89.4 L188,88.8 L188.1,88.5 L188.3,87.7 L188.6,86.9 L188.8,86.1 L189,85.4 L189.2,84.6 L189.4,83.9 L189.6,83.2 L189.8,82.6 L190.1,81.9 L190.3,81.3 L190.5,80.7 L190.7,80.1 L190.9,79.5 L191.1,78.9 L191.4,78.4 L191.6,77.8 L191.6,77.7 L191.8,77.3 L192,76.8 L192.2,76.3 L192.4,75.8 L192.7,75.3 L192.9,74.9 L193.1,74.4 L193.3,74 L193.4,73.7 L193.5,73.5 L193.7,73.1 L194,72.7 L194.2,72.3 L194.4,71.9 L194.6,71.5 L194.8,71.1 L195,70.7 L195.2,70.3 L195.5,70 L195.7,69.6 L195.9,69.3 L196.1,68.9 L196.3,68.6 L196.5,68.3 L196.8,68 L197,67.6 L197,67.5 L197.2,67.3 L197.4,67 L197.6,66.7 L197.8,66.4 L198.1,66.2 L198.3,65.9 L198.5,65.6 L198.7,65.3 L198.8,65.2 L198.9,65.1 L199.1,64.8 L199.4,64.6 L199.6,64.3 L199.8,64.1 L200,63.8 L200.2,63.6 L200.4,63.4 L200.6,63.2 L200.9,62.9 L201.1,62.7 L201.3,62.5 L201.5,62.3 L201.7,62.1 L201.9,61.9 L202.2,61.7 L202.4,61.5 L202.4,61.5 L202.6,61.4 L202.8,61.2 L203,61 L203.2,60.8 L203.5,60.7 L203.7,60.5 L203.9,60.3 L204.1,60.2 L204.2,60.1 L204.3,60 L204.5,59.9 L204.8,59.7 L205,59.6 L205.2,59.4 L205.4,59.3 L205.6,59.1 L205.8,59 L206,58.9 L206.3,58.7 L206.5,58.6 L206.7,58.5 L206.9,58.4 L207.1,58.3 L207.3,58.1 L207.6,58 L207.8,57.9 L207.8,57.9 L208,57.8 L208.2,57.7 L208.4,57.6 L208.6,57.5 L208.9,57.4 L209.1,57.3 L209.3,57.2 L209.5,57.1 L209.6,57.1 L209.7,57 L209.9,56.9 L210.2,56.9 L210.4,56.8 L210.6,56.7 L210.8,56.6 L211,56.5 L211.2,56.4 L211.4,56.4 L211.7,56.3 L211.9,56.2 L212.1,56.2 L212.3,56.1 L212.5,56 L212.7,55.9 L213,55.9 L213.2,55.8 L213.2,55.8 L213.4,55.8 L213.6,55.7 L213.8,55.6 L214,55.6 L214.3,55.5 L214.5,55.5 L214.7,55.4 L214.9,55.4 L215,55.3 L215.1,55.3 L215.3,55.2 L215.6,55.2 L215.8,55.1 L216,55.1 L216.2,55.1 L216.4,55 L216.6,55 L216.8,54.9 L217.1,54.9 L217.3,54.8 L217.5,54.8 L217.7,54.7 L217.9,54.7 L218.1,54.7 L218.4,54.6 L218.6,54.6 L218.6,54.6 L218.8,54.6 L219,54.5 L219.2,54.5 L219.4,54.5 L219.7,54.4 L219.9,54.4 L220.1,54.4 L220.3,54.3 L220.4,54.3 L220.5,54.3 L220.7,54.3 L221,54.2 L221.2,54.2 L221.4,54.2 L221.6,54.1 L221.8,54.1" fill="none" stroke="#0000ff" stroke-width="3.5" stroke-linejoin="round" stroke-linecap="round"/>
<g fill="#0000ff"><circle cx="40.4" cy="199.6" r="1.3"/><circle cx="44" cy="199.6" r="1.3"/><circle cx="47.6" cy="199.6" r="1.3"/><circle cx="51.2" cy="199.6" r="1.3"/><circle cx="54.8" cy="199.6" r="1.3"/><circle cx="58.4" cy="199.6" r="1.3"/><circle cx="62" cy="199.6" r="1.3"/><circle cx="65.6" cy="199.6" r="1.3"/><circle cx="69.2" cy="199.5" r="1.3"/><circle cx="72.8" cy="199.5" r="1.3"/><circle cx="76.4" cy="199.5" r="1.3"/><circle cx="80" cy="199.5" r="1.3"/><circle cx="83.6" cy="199.5" r="1.3"/><circle cx="87.2" cy="199.4" r="1.3"/><circle cx="90.8" cy="199.4" r="1.3"/><circle cx="94.4" cy="199.4" r="1.3"/><circle cx="98" cy="199.4" r="1.3"/><circle cx="101.6" cy="199.3" r="1.3"/><circle cx="105.2" cy="199.3" r="1.3"/><circle cx="108.8" cy="199.3" r="1.3"/><circle cx="112.4" cy="199.2" r="1.3"/><circle cx="116" cy="199.2" r="1.3"/><circle cx="119.6" cy="199.1" r="1.3"/><circle cx="123.2" cy="199" r="1.3"/><circle cx="126.8" cy="198.9" r="1.3"/><circle cx="130.4" cy="198.8" r="1.3"/><circle cx="134" cy="198.7" r="1.3"/><circle cx="137.6" cy="198.5" r="1.3"/><circle cx="141.2" cy="198.3" r="1.3"/><circle cx="144.8" cy="198" r="1.3"/><circle cx="148.4" cy="197.5" r="1.3"/><circle cx="220.4" cy="54.3" r="1.3"/><circle cx="224" cy="53.9" r="1.3"/><circle cx="227.6" cy="53.6" r="1.3"/><circle cx="231.2" cy="53.3" r="1.3"/><circle cx="234.8" cy="53.1" r="1.3"/><circle cx="238.4" cy="53" r="1.3"/><circle cx="242" cy="52.9" r="1.3"/><circle cx="245.6" cy="52.8" r="1.3"/><circle cx="249.2" cy="52.8" r="1.3"/><circle cx="252.8" cy="52.7" r="1.3"/><circle cx="256.4" cy="52.6" r="1.3"/><circle cx="260.1" cy="52.6" r="1.3"/><circle cx="263.6" cy="52.6" r="1.3"/><circle cx="267.2" cy="52.5" r="1.3"/><circle cx="270.9" cy="52.5" r="1.3"/><circle cx="274.4" cy="52.5" r="1.3"/><circle cx="278.1" cy="52.4" r="1.3"/><circle cx="281.6" cy="52.4" r="1.3"/><circle cx="285.2" cy="52.4" r="1.3"/><circle cx="288.9" cy="52.4" r="1.3"/><circle cx="292.4" cy="52.3" r="1.3"/><circle cx="296.1" cy="52.3" r="1.3"/><circle cx="299.6" cy="52.3" r="1.3"/><circle cx="303.2" cy="52.3" r="1.3"/><circle cx="306.9" cy="52.3" r="1.3"/><circle cx="310.4" cy="52.3" r="1.3"/><circle cx="314" cy="52.3" r="1.3"/><circle cx="317.6" cy="52.2" r="1.3"/><circle cx="321.2" cy="52.2" r="1.3"/><circle cx="324.9" cy="52.2" r="1.3"/><circle cx="328.4" cy="52.2" r="1.3"/></g>
<path d="M40.4,184.7 L42.2,184.7 L44,184.7 L45.8,184.7 L47.6,184.7 L49.4,184.7 L51.2,184.7 L53,184.7 L54.8,184.6 L56.6,184.6 L58.4,184.6 L60.2,184.6 L62,184.6 L63.8,184.6 L65.6,184.6 L67.4,184.6 L69.2,184.6 L71,184.6 L72.8,184.6 L74.6,184.6 L76.4,184.6 L78.2,184.6 L80,184.6 L81.8,184.5 L83.6,184.5 L85.4,184.5 L87.2,184.5 L89,184.5 L90.8,184.5 L92.6,184.5 L94.4,184.5 L96.2,184.5 L98,184.5 L99.8,184.4 L101.6,184.4 L103.4,184.4 L105.2,184.4 L107,184.4 L108.8,184.4 L110.6,184.4 L112.4,184.3 L114.2,184.3 L116,184.3 L117.8,184.3 L119.6,184.2 L121.4,184.2 L123.2,184.2 L125,184.2 L126.8,184.1 L128.6,184.1 L130.4,184 L132.2,184 L134,183.9 L135.8,183.9 L137.6,183.8 L139.4,183.7 L141.2,183.6 L141.5,183.6 L141.7,183.6 L141.9,183.6 L142.1,183.6 L142.3,183.5 L142.5,183.5 L142.8,183.5 L143,183.5 L143,183.5 L143.2,183.5 L143.4,183.5 L143.6,183.4 L143.8,183.4 L144.1,183.4 L144.3,183.4 L144.5,183.4 L144.7,183.4 L144.8,183.4 L144.9,183.3 L145.1,183.3 L145.4,183.3 L145.6,183.3 L145.8,183.3 L146,183.3 L146.2,183.2 L146.4,183.2 L146.6,183.2 L146.9,183.2 L147.1,183.1 L147.3,183.1 L147.5,183.1 L147.7,183.1 L147.9,183.1 L148.2,183 L148.4,183 L148.4,183 L148.6,183 L148.8,183 L149,182.9 L149.2,182.9 L149.5,182.9 L149.7,182.9 L149.9,182.8 L150.1,182.8 L150.2,182.8 L150.3,182.8 L150.5,182.7 L150.8,182.7 L151,182.7 L151.2,182.6 L151.4,182.6 L151.6,182.6 L151.8,182.5 L152,182.5 L152.3,182.5 L152.5,182.4 L152.7,182.4 L152.9,182.4 L153.1,182.3 L153.3,182.3 L153.6,182.2 L153.8,182.2 L153.8,182.2 L154,182.2 L154.2,182.1 L154.4,182.1 L154.6,182 L154.9,182 L155.1,181.9 L155.3,181.9 L155.5,181.8 L155.6,181.8 L155.7,181.8 L155.9,181.7 L156.2,181.7 L156.4,181.6 L156.6,181.6 L156.8,181.5 L157,181.5 L157.2,181.4 L157.4,181.3 L157.7,181.3 L157.9,181.2 L158.1,181.2 L158.3,181.1 L158.5,181 L158.7,181 L159,180.9 L159.2,180.8 L159.2,180.8 L159.4,180.7 L159.6,180.7 L159.8,180.6 L160,180.5 L160.3,180.4 L160.5,180.3 L160.7,180.3 L160.9,180.2 L161,180.1 L161.1,180.1 L161.3,180 L161.6,179.9 L161.8,179.8 L162,179.7 L162.2,179.6 L162.4,179.5 L162.6,179.4 L162.8,179.3 L163.1,179.2 L163.3,179.1 L163.5,179 L163.7,178.9 L163.9,178.8 L164.1,178.7 L164.4,178.5 L164.6,178.4 L164.6,178.4 L164.8,178.3 L165,178.2 L165.2,178 L165.4,177.9 L165.7,177.8 L165.9,177.6 L166.1,177.5 L166.3,177.3 L166.4,177.2 L166.5,177.2 L166.7,177 L167,176.9 L167.2,176.7 L167.4,176.6 L167.6,176.4 L167.8,176.2 L168,176.1 L168.2,175.9 L168.5,175.7 L168.7,175.5 L168.9,175.3 L169.1,175.1 L169.3,175 L169.5,174.8 L169.8,174.6 L170,174.3 L170,174.3 L170.2,174.1 L170.4,173.9 L170.6,173.7 L170.8,173.5 L171.1,173.3 L171.3,173 L171.5,172.8 L171.7,172.5 L171.8,172.4 L171.9,172.3 L172.1,172 L172.4,171.8 L172.6,171.5 L172.8,171.3 L173,171 L173.2,170.7 L173.4,170.4 L173.6,170.1 L173.9,169.8 L174.1,169.5 L174.3,169.2 L174.5,168.9 L174.7,168.6 L174.9,168.3 L175.2,167.9 L175.4,167.6 L175.4,167.5 L175.6,167.2 L175.8,166.9 L176,166.5 L176.2,166.1 L176.5,165.7 L176.7,165.3 L176.9,164.9 L177.1,164.5 L177.2,164.3 L177.3,164.1 L177.5,163.7 L177.8,163.2 L178,162.8 L178.2,162.3 L178.4,161.8 L178.6,161.3 L178.8,160.8 L179,160.3 L179.3,159.8 L179.5,159.2 L179.7,158.7 L179.9,158.1 L180.1,157.5 L180.3,156.8 L180.6,156.2 L180.8,155.5 L180.8,155.3 L181,154.8 L181.2,154.1 L181.4,153.4 L181.6,152.6 L181.9,151.8 L182.1,151 L182.3,150.1 L182.5,149.2 L182.6,148.6 L182.7,148.3 L182.9,147.4 L183.2,146.4 L183.4,145.4 L183.6,144.4 L183.8,143.1 L184,141 L184.2,136 L184.4,125.7 L184.7,115.5 L184.9,110.5 L185.1,108.4 L185.3,107.2 L185.5,106.1 L185.7,105.1 L186,104.1 L186.2,103.2 L186.2,102.9 L186.4,102.3 L186.6,101.4 L186.8,100.6 L187,99.8 L187.3,99 L187.5,98.2 L187.7,97.5 L187.9,96.7 L188,96.3 L188.1,96.1 L188.3,95.4 L188.6,94.7 L188.8,94.1 L189,93.5 L189.2,92.9 L189.4,92.4 L189.6,91.8 L189.8,91.3 L190.1,90.8 L190.3,90.3 L190.5,89.8 L190.7,89.3 L190.9,88.8 L191.1,88.4 L191.4,87.9 L191.6,87.5 L191.6,87.4 L191.8,87.1 L192,86.7 L192.2,86.3 L192.4,85.9 L192.7,85.5 L192.9,85.1 L193.1,84.8 L193.3,84.4 L193.4,84.2 L193.5,84.1 L193.7,83.7 L194,83.4 L194.2,83.1 L194.4,82.8 L194.6,82.4 L194.8,82.1 L195,81.8 L195.2,81.5 L195.5,81.2 L195.7,81 L195.9,80.7 L196.1,80.4 L196.3,80.1 L196.5,79.9 L196.8,79.6 L197,79.4 L197,79.3 L197.2,79.1 L197.4,78.9 L197.6,78.7 L197.8,78.4 L198.1,78.2 L198.3,78 L198.5,77.8 L198.7,77.5 L198.8,77.4 L198.9,77.3 L199.1,77.1 L199.4,76.9 L199.6,76.7 L199.8,76.5 L200,76.4 L200.2,76.2 L200.4,76 L200.6,75.8 L200.9,75.6 L201.1,75.5 L201.3,75.3 L201.5,75.1 L201.7,75 L201.9,74.8 L202.2,74.7 L202.4,74.5 L202.4,74.5 L202.6,74.4 L202.8,74.2 L203,74.1 L203.2,73.9 L203.5,73.8 L203.7,73.7 L203.9,73.5 L204.1,73.4 L204.2,73.3 L204.3,73.3 L204.5,73.2 L204.8,73.1 L205,72.9 L205.2,72.8 L205.4,72.7 L205.6,72.6 L205.8,72.5 L206,72.4 L206.3,72.3 L206.5,72.2 L206.7,72.1 L206.9,72 L207.1,71.9 L207.3,71.8 L207.6,71.7 L207.8,71.6 L207.8,71.6 L208,71.5 L208.2,71.5 L208.4,71.4 L208.6,71.3 L208.9,71.2 L209.1,71.1 L209.3,71.1 L209.5,71 L209.6,70.9 L209.7,70.9 L209.9,70.8 L210.2,70.8 L210.4,70.7 L210.6,70.6 L210.8,70.6 L211,70.5 L211.2,70.4 L211.4,70.4 L211.7,70.3 L211.9,70.3 L212.1,70.2 L212.3,70.2 L212.5,70.1 L212.7,70 L213,70 L213.2,69.9 L213.2,69.9 L213.4,69.9 L213.6,69.8 L213.8,69.8 L214,69.8 L214.3,69.7 L214.5,69.7 L214.7,69.6 L214.9,69.6 L215,69.5 L215.1,69.5 L215.3,69.5 L215.6,69.5 L215.8,69.4 L216,69.4 L216.2,69.3 L216.4,69.3 L216.6,69.3 L216.8,69.2 L217.1,69.2 L217.3,69.2 L217.5,69.1 L217.7,69.1 L217.9,69.1 L218.1,69 L218.4,69 L218.6,69 L218.6,69 L218.8,68.9 L219,68.9 L219.2,68.9 L219.4,68.9 L219.7,68.8 L219.9,68.8 L220.1,68.8 L220.3,68.8 L220.4,68.7 L220.5,68.7 L220.7,68.7 L221,68.7 L221.2,68.7 L221.4,68.6 L221.6,68.6 L221.8,68.6 L222,68.6 L222.2,68.5 L222.5,68.5 L222.7,68.5 L222.9,68.5 L223.1,68.5 L223.3,68.4 L223.5,68.4 L223.8,68.4 L224,68.4 L224,68.4 L224.2,68.4 L224.4,68.4 L224.6,68.3 L224.8,68.3 L225.1,68.3 L225.3,68.3 L225.5,68.3 L225.7,68.3 L225.8,68.3 L225.9,68.2 L226.1,68.2 L226.4,68.2 L226.6,68.2 L226.8,68.2 L227,68.2 L227.2,68.2 L227.4,68.2 L227.6,68.1 L229.4,68 L231.2,68 L233,67.9 L234.8,67.8 L236.6,67.8 L238.4,67.7 L240.2,67.7 L242,67.6 L243.8,67.6 L245.6,67.6 L247.4,67.5 L249.2,67.5 L251.1,67.5 L252.8,67.5 L254.6,67.4 L256.4,67.4 L258.2,67.4 L260.1,67.4 L261.9,67.4 L263.6,67.3 L265.4,67.3 L267.2,67.3 L269.1,67.3 L270.9,67.3 L272.6,67.3 L274.4,67.3 L276.2,67.3 L278.1,67.2 L279.9,67.2 L281.6,67.2 L283.4,67.2 L285.2,67.2 L287.1,67.2 L288.9,67.2 L290.6,67.2 L292.4,67.2 L294.2,67.2 L296.1,67.2 L297.9,67.2 L299.6,67.1 L301.4,67.1 L303.2,67.1 L305.1,67.1 L306.9,67.1 L308.6,67.1 L310.4,67.1 L312.2,67.1 L314,67.1 L315.9,67.1 L317.6,67.1 L319.4,67.1 L321.2,67.1 L323,67.1 L324.9,67.1 L326.6,67.1 L328.4,67.1" fill="none" stroke="#f27a1a" stroke-width="1.7" stroke-linejoin="round" stroke-linecap="round"/>
<path d="M147.1,183.1 L147.3,183.1 L147.5,183.1 L147.7,183.1 L147.9,183.1 L148.2,183 L148.4,183 L148.4,183 L148.6,183 L148.8,183 L149,182.9 L149.2,182.9 L149.5,182.9 L149.7,182.9 L149.9,182.8 L150.1,182.8 L150.2,182.8 L150.3,182.8 L150.5,182.7 L150.8,182.7 L151,182.7 L151.2,182.6 L151.4,182.6 L151.6,182.6 L151.8,182.5 L152,182.5 L152.3,182.5 L152.5,182.4 L152.7,182.4 L152.9,182.4 L153.1,182.3 L153.3,182.3 L153.6,182.2 L153.8,182.2 L153.8,182.2 L154,182.2 L154.2,182.1 L154.4,182.1 L154.6,182 L154.9,182 L155.1,181.9 L155.3,181.9 L155.5,181.8 L155.6,181.8 L155.7,181.8 L155.9,181.7 L156.2,181.7 L156.4,181.6 L156.6,181.6 L156.8,181.5 L157,181.5 L157.2,181.4 L157.4,181.3 L157.7,181.3 L157.9,181.2 L158.1,181.2 L158.3,181.1 L158.5,181 L158.7,181 L159,180.9 L159.2,180.8 L159.2,180.8 L159.4,180.7 L159.6,180.7 L159.8,180.6 L160,180.5 L160.3,180.4 L160.5,180.3 L160.7,180.3 L160.9,180.2 L161,180.1 L161.1,180.1 L161.3,180 L161.6,179.9 L161.8,179.8 L162,179.7 L162.2,179.6 L162.4,179.5 L162.6,179.4 L162.8,179.3 L163.1,179.2 L163.3,179.1 L163.5,179 L163.7,178.9 L163.9,178.8 L164.1,178.7 L164.4,178.5 L164.6,178.4 L164.6,178.4 L164.8,178.3 L165,178.2 L165.2,178 L165.4,177.9 L165.7,177.8 L165.9,177.6 L166.1,177.5 L166.3,177.3 L166.4,177.2 L166.5,177.2 L166.7,177 L167,176.9 L167.2,176.7 L167.4,176.6 L167.6,176.4 L167.8,176.2 L168,176.1 L168.2,175.9 L168.5,175.7 L168.7,175.5 L168.9,175.3 L169.1,175.1 L169.3,175 L169.5,174.8 L169.8,174.6 L170,174.3 L170,174.3 L170.2,174.1 L170.4,173.9 L170.6,173.7 L170.8,173.5 L171.1,173.3 L171.3,173 L171.5,172.8 L171.7,172.5 L171.8,172.4 L171.9,172.3 L172.1,172 L172.4,171.8 L172.6,171.5 L172.8,171.3 L173,171 L173.2,170.7 L173.4,170.4 L173.6,170.1 L173.9,169.8 L174.1,169.5 L174.3,169.2 L174.5,168.9 L174.7,168.6 L174.9,168.3 L175.2,167.9 L175.4,167.6 L175.4,167.5 L175.6,167.2 L175.8,166.9 L176,166.5 L176.2,166.1 L176.5,165.7 L176.7,165.3 L176.9,164.9 L177.1,164.5 L177.2,164.3 L177.3,164.1 L177.5,163.7 L177.8,163.2 L178,162.8 L178.2,162.3 L178.4,161.8 L178.6,161.3 L178.8,160.8 L179,160.3 L179.3,159.8 L179.5,159.2 L179.7,158.7 L179.9,158.1 L180.1,157.5 L180.3,156.8 L180.6,156.2 L180.8,155.5 L180.8,155.3 L181,154.8 L181.2,154.1 L181.4,153.4 L181.6,152.6 L181.9,151.8 L182.1,151 L182.3,150.1 L182.5,149.2 L182.6,148.6 L182.7,148.3 L182.9,147.4 L183.2,146.4 L183.4,145.4 L183.6,144.4 L183.8,143.1 L184,141 L184.2,136 L184.4,125.7 L184.7,115.5 L184.9,110.5 L185.1,108.4 L185.3,107.2 L185.5,106.1 L185.7,105.1 L186,104.1 L186.2,103.2 L186.2,102.9 L186.4,102.3 L186.6,101.4 L186.8,100.6 L187,99.8 L187.3,99 L187.5,98.2 L187.7,97.5 L187.9,96.7 L188,96.3 L188.1,96.1 L188.3,95.4 L188.6,94.7 L188.8,94.1 L189,93.5 L189.2,92.9 L189.4,92.4 L189.6,91.8 L189.8,91.3 L190.1,90.8 L190.3,90.3 L190.5,89.8 L190.7,89.3 L190.9,88.8 L191.1,88.4 L191.4,87.9 L191.6,87.5 L191.6,87.4 L191.8,87.1 L192,86.7 L192.2,86.3 L192.4,85.9 L192.7,85.5 L192.9,85.1 L193.1,84.8 L193.3,84.4 L193.4,84.2 L193.5,84.1 L193.7,83.7 L194,83.4 L194.2,83.1 L194.4,82.8 L194.6,82.4 L194.8,82.1 L195,81.8 L195.2,81.5 L195.5,81.2 L195.7,81 L195.9,80.7 L196.1,80.4 L196.3,80.1 L196.5,79.9 L196.8,79.6 L197,79.4 L197,79.3 L197.2,79.1 L197.4,78.9 L197.6,78.7 L197.8,78.4 L198.1,78.2 L198.3,78 L198.5,77.8 L198.7,77.5 L198.8,77.4 L198.9,77.3 L199.1,77.1 L199.4,76.9 L199.6,76.7 L199.8,76.5 L200,76.4 L200.2,76.2 L200.4,76 L200.6,75.8 L200.9,75.6 L201.1,75.5 L201.3,75.3 L201.5,75.1 L201.7,75 L201.9,74.8 L202.2,74.7 L202.4,74.5 L202.4,74.5 L202.6,74.4 L202.8,74.2 L203,74.1 L203.2,73.9 L203.5,73.8 L203.7,73.7 L203.9,73.5 L204.1,73.4 L204.2,73.3 L204.3,73.3 L204.5,73.2 L204.8,73.1 L205,72.9 L205.2,72.8 L205.4,72.7 L205.6,72.6 L205.8,72.5 L206,72.4 L206.3,72.3 L206.5,72.2 L206.7,72.1 L206.9,72 L207.1,71.9 L207.3,71.8 L207.6,71.7 L207.8,71.6 L207.8,71.6 L208,71.5 L208.2,71.5 L208.4,71.4 L208.6,71.3 L208.9,71.2 L209.1,71.1 L209.3,71.1 L209.5,71 L209.6,70.9 L209.7,70.9 L209.9,70.8 L210.2,70.8 L210.4,70.7 L210.6,70.6 L210.8,70.6 L211,70.5 L211.2,70.4 L211.4,70.4 L211.7,70.3 L211.9,70.3 L212.1,70.2 L212.3,70.2 L212.5,70.1 L212.7,70 L213,70 L213.2,69.9 L213.2,69.9 L213.4,69.9 L213.6,69.8 L213.8,69.8 L214,69.8 L214.3,69.7 L214.5,69.7 L214.7,69.6 L214.9,69.6 L215,69.5 L215.1,69.5 L215.3,69.5 L215.6,69.5 L215.8,69.4 L216,69.4 L216.2,69.3 L216.4,69.3 L216.6,69.3 L216.8,69.2 L217.1,69.2 L217.3,69.2 L217.5,69.1 L217.7,69.1 L217.9,69.1 L218.1,69 L218.4,69 L218.6,69 L218.6,69 L218.8,68.9 L219,68.9 L219.2,68.9 L219.4,68.9 L219.7,68.8 L219.9,68.8 L220.1,68.8 L220.3,68.8 L220.4,68.7 L220.5,68.7 L220.7,68.7 L221,68.7 L221.2,68.7 L221.4,68.6 L221.6,68.6 L221.8,68.6" fill="none" stroke="#f27a1a" stroke-width="3.5" stroke-linejoin="round" stroke-linecap="round"/>
<g fill="#f27a1a"><circle cx="40.4" cy="184.7" r="1.3"/><circle cx="44" cy="184.7" r="1.3"/><circle cx="47.6" cy="184.7" r="1.3"/><circle cx="51.2" cy="184.7" r="1.3"/><circle cx="54.8" cy="184.6" r="1.3"/><circle cx="58.4" cy="184.6" r="1.3"/><circle cx="62" cy="184.6" r="1.3"/><circle cx="65.6" cy="184.6" r="1.3"/><circle cx="69.2" cy="184.6" r="1.3"/><circle cx="72.8" cy="184.6" r="1.3"/><circle cx="76.4" cy="184.6" r="1.3"/><circle cx="80" cy="184.6" r="1.3"/><circle cx="83.6" cy="184.5" r="1.3"/><circle cx="87.2" cy="184.5" r="1.3"/><circle cx="90.8" cy="184.5" r="1.3"/><circle cx="94.4" cy="184.5" r="1.3"/><circle cx="98" cy="184.5" r="1.3"/><circle cx="101.6" cy="184.4" r="1.3"/><circle cx="105.2" cy="184.4" r="1.3"/><circle cx="108.8" cy="184.4" r="1.3"/><circle cx="112.4" cy="184.3" r="1.3"/><circle cx="116" cy="184.3" r="1.3"/><circle cx="119.6" cy="184.2" r="1.3"/><circle cx="123.2" cy="184.2" r="1.3"/><circle cx="126.8" cy="184.1" r="1.3"/><circle cx="130.4" cy="184" r="1.3"/><circle cx="134" cy="183.9" r="1.3"/><circle cx="137.6" cy="183.8" r="1.3"/><circle cx="141.2" cy="183.6" r="1.3"/><circle cx="144.8" cy="183.4" r="1.3"/><circle cx="148.4" cy="183" r="1.3"/><circle cx="220.4" cy="68.7" r="1.3"/><circle cx="224" cy="68.4" r="1.3"/><circle cx="227.6" cy="68.1" r="1.3"/><circle cx="231.2" cy="68" r="1.3"/><circle cx="234.8" cy="67.8" r="1.3"/><circle cx="238.4" cy="67.7" r="1.3"/><circle cx="242" cy="67.6" r="1.3"/><circle cx="245.6" cy="67.6" r="1.3"/><circle cx="249.2" cy="67.5" r="1.3"/><circle cx="252.8" cy="67.5" r="1.3"/><circle cx="256.4" cy="67.4" r="1.3"/><circle cx="260.1" cy="67.4" r="1.3"/><circle cx="263.6" cy="67.3" r="1.3"/><circle cx="267.2" cy="67.3" r="1.3"/><circle cx="270.9" cy="67.3" r="1.3"/><circle cx="274.4" cy="67.3" r="1.3"/><circle cx="278.1" cy="67.2" r="1.3"/><circle cx="281.6" cy="67.2" r="1.3"/><circle cx="285.2" cy="67.2" r="1.3"/><circle cx="288.9" cy="67.2" r="1.3"/><circle cx="292.4" cy="67.2" r="1.3"/><circle cx="296.1" cy="67.2" r="1.3"/><circle cx="299.6" cy="67.1" r="1.3"/><circle cx="303.2" cy="67.1" r="1.3"/><circle cx="306.9" cy="67.1" r="1.3"/><circle cx="310.4" cy="67.1" r="1.3"/><circle cx="314" cy="67.1" r="1.3"/><circle cx="317.6" cy="67.1" r="1.3"/><circle cx="321.2" cy="67.1" r="1.3"/><circle cx="324.9" cy="67.1" r="1.3"/><circle cx="328.4" cy="67.1" r="1.3"/></g>
<path d="M40.4,143.1 L42.2,143.1 L44,143.1 L45.8,143.1 L47.6,143.1 L49.4,143.1 L51.2,143.1 L53,143.1 L54.8,143.1 L56.6,143.1 L58.4,143.1 L60.2,143.1 L62,143.1 L63.8,143.1 L65.6,143.1 L67.4,143.1 L69.2,143.1 L71,143.1 L72.8,143.1 L74.6,143.1 L76.4,143.1 L78.2,143.1 L80,143.1 L81.8,143.1 L83.6,143.1 L85.4,143.1 L87.2,143.1 L89,143.1 L90.8,143.1 L92.6,143.1 L94.4,143.1 L96.2,143.1 L98,143.1 L99.8,143.1 L101.6,143.1 L103.4,143.1 L105.2,143.1 L107,143.1 L108.8,143.1 L110.6,143.1 L112.4,143.1 L114.2,143.1 L116,143.1 L117.8,143.1 L119.6,143.1 L121.4,143.1 L123.2,143.1 L125,143.1 L126.8,143 L128.6,143 L130.4,143 L132.2,143 L134,143 L135.8,143 L137.6,142.9 L139.4,142.9 L141.2,142.9 L141.5,142.9 L141.7,142.9 L141.9,142.9 L142.1,142.9 L142.3,142.9 L142.5,142.8 L142.8,142.8 L143,142.8 L143,142.8 L143.2,142.8 L143.4,142.8 L143.6,142.8 L143.8,142.8 L144.1,142.8 L144.3,142.8 L144.5,142.8 L144.7,142.8 L144.8,142.8 L144.9,142.8 L145.1,142.8 L145.4,142.8 L145.6,142.8 L145.8,142.7 L146,142.7 L146.2,142.7 L146.4,142.7 L146.6,142.7 L146.9,142.7 L147.1,142.7 L147.3,142.7 L147.5,142.7 L147.7,142.7 L147.9,142.7 L148.2,142.7 L148.4,142.6 L148.4,142.6 L148.6,142.6 L148.8,142.6 L149,142.6 L149.2,142.6 L149.5,142.6 L149.7,142.6 L149.9,142.6 L150.1,142.6 L150.2,142.6 L150.3,142.5 L150.5,142.5 L150.8,142.5 L151,142.5 L151.2,142.5 L151.4,142.5 L151.6,142.5 L151.8,142.5 L152,142.4 L152.3,142.4 L152.5,142.4 L152.7,142.4 L152.9,142.4 L153.1,142.4 L153.3,142.4 L153.6,142.3 L153.8,142.3 L153.8,142.3 L154,142.3 L154.2,142.3 L154.4,142.3 L154.6,142.3 L154.9,142.2 L155.1,142.2 L155.3,142.2 L155.5,142.2 L155.6,142.2 L155.7,142.2 L155.9,142.1 L156.2,142.1 L156.4,142.1 L156.6,142.1 L156.8,142.1 L157,142 L157.2,142 L157.4,142 L157.7,142 L157.9,141.9 L158.1,141.9 L158.3,141.9 L158.5,141.9 L158.7,141.8 L159,141.8 L159.2,141.8 L159.2,141.8 L159.4,141.8 L159.6,141.7 L159.8,141.7 L160,141.7 L160.3,141.6 L160.5,141.6 L160.7,141.6 L160.9,141.5 L161,141.5 L161.1,141.5 L161.3,141.5 L161.6,141.4 L161.8,141.4 L162,141.4 L162.2,141.3 L162.4,141.3 L162.6,141.3 L162.8,141.2 L163.1,141.2 L163.3,141.2 L163.5,141.1 L163.7,141.1 L163.9,141 L164.1,141 L164.4,141 L164.6,140.9 L164.6,140.9 L164.8,140.9 L165,140.8 L165.2,140.8 L165.4,140.7 L165.7,140.7 L165.9,140.6 L166.1,140.6 L166.3,140.5 L166.4,140.5 L166.5,140.5 L166.7,140.4 L167,140.4 L167.2,140.3 L167.4,140.3 L167.6,140.2 L167.8,140.2 L168,140.1 L168.2,140.1 L168.5,140 L168.7,139.9 L168.9,139.9 L169.1,139.8 L169.3,139.8 L169.5,139.7 L169.8,139.6 L170,139.6 L170,139.6 L170.2,139.5 L170.4,139.4 L170.6,139.4 L170.8,139.3 L171.1,139.2 L171.3,139.2 L171.5,139.1 L171.7,139 L171.8,139 L171.9,139 L172.1,138.9 L172.4,138.8 L172.6,138.7 L172.8,138.7 L173,138.6 L173.2,138.5 L173.4,138.4 L173.6,138.3 L173.9,138.2 L174.1,138.2 L174.3,138.1 L174.5,138 L174.7,137.9 L174.9,137.8 L175.2,137.7 L175.4,137.6 L175.4,137.6 L175.6,137.5 L175.8,137.4 L176,137.3 L176.2,137.2 L176.5,137.1 L176.7,137 L176.9,136.9 L177.1,136.8 L177.2,136.7 L177.3,136.7 L177.5,136.5 L177.8,136.4 L178,136.3 L178.2,136.1 L178.4,136 L178.6,135.8 L178.8,135.7 L179,135.5 L179.3,135.3 L179.5,135.1 L179.7,134.9 L179.9,134.7 L180.1,134.5 L180.3,134.2 L180.6,134 L180.8,133.7 L180.8,133.6 L181,133.4 L181.2,133.1 L181.4,132.7 L181.6,132.4 L181.9,132 L182.1,131.6 L182.3,131.2 L182.5,130.7 L182.6,130.4 L182.7,130.2 L182.9,129.7 L183.2,129.2 L183.4,128.6 L183.6,128.1 L183.8,127.5 L184,126.9 L184.2,126.3 L184.4,125.7 L184.7,125.1 L184.9,124.5 L185.1,123.9 L185.3,123.4 L185.5,122.8 L185.7,122.3 L186,121.8 L186.2,121.3 L186.2,121.1 L186.4,120.8 L186.6,120.4 L186.8,119.9 L187,119.6 L187.3,119.2 L187.5,118.8 L187.7,118.5 L187.9,118.2 L188,118 L188.1,117.9 L188.3,117.6 L188.6,117.4 L188.8,117.1 L189,116.9 L189.2,116.7 L189.4,116.5 L189.6,116.3 L189.8,116.1 L190.1,116 L190.3,115.8 L190.5,115.7 L190.7,115.5 L190.9,115.4 L191.1,115.3 L191.4,115.1 L191.6,115 L191.6,115 L191.8,114.9 L192,114.8 L192.2,114.7 L192.4,114.6 L192.7,114.5 L192.9,114.4 L193.1,114.3 L193.3,114.2 L193.4,114.1 L193.5,114.1 L193.7,114 L194,113.9 L194.2,113.8 L194.4,113.7 L194.6,113.6 L194.8,113.5 L195,113.5 L195.2,113.4 L195.5,113.3 L195.7,113.2 L195.9,113.1 L196.1,113.1 L196.3,113 L196.5,112.9 L196.8,112.8 L197,112.8 L197,112.7 L197.2,112.7 L197.4,112.6 L197.6,112.6 L197.8,112.5 L198.1,112.4 L198.3,112.4 L198.5,112.3 L198.7,112.2 L198.8,112.2 L198.9,112.2 L199.1,112.1 L199.4,112 L199.6,112 L199.8,111.9 L200,111.9 L200.2,111.8 L200.4,111.7 L200.6,111.7 L200.9,111.6 L201.1,111.6 L201.3,111.5 L201.5,111.5 L201.7,111.4 L201.9,111.4 L202.2,111.3 L202.4,111.3 L202.4,111.3 L202.6,111.2 L202.8,111.2 L203,111.1 L203.2,111.1 L203.5,111 L203.7,111 L203.9,110.9 L204.1,110.9 L204.2,110.9 L204.3,110.9 L204.5,110.8 L204.8,110.8 L205,110.7 L205.2,110.7 L205.4,110.7 L205.6,110.6 L205.8,110.6 L206,110.5 L206.3,110.5 L206.5,110.5 L206.7,110.4 L206.9,110.4 L207.1,110.4 L207.3,110.3 L207.6,110.3 L207.8,110.3 L207.8,110.3 L208,110.2 L208.2,110.2 L208.4,110.2 L208.6,110.1 L208.9,110.1 L209.1,110.1 L209.3,110.1 L209.5,110 L209.6,110 L209.7,110 L209.9,110 L210.2,110 L210.4,109.9 L210.6,109.9 L210.8,109.9 L211,109.9 L211.2,109.8 L211.4,109.8 L211.7,109.8 L211.9,109.8 L212.1,109.7 L212.3,109.7 L212.5,109.7 L212.7,109.7 L213,109.7 L213.2,109.6 L213.2,109.6 L213.4,109.6 L213.6,109.6 L213.8,109.6 L214,109.6 L214.3,109.5 L214.5,109.5 L214.7,109.5 L214.9,109.5 L215,109.5 L215.1,109.5 L215.3,109.5 L215.6,109.4 L215.8,109.4 L216,109.4 L216.2,109.4 L216.4,109.4 L216.6,109.4 L216.8,109.4 L217.1,109.3 L217.3,109.3 L217.5,109.3 L217.7,109.3 L217.9,109.3 L218.1,109.3 L218.4,109.3 L218.6,109.3 L218.6,109.3 L218.8,109.2 L219,109.2 L219.2,109.2 L219.4,109.2 L219.7,109.2 L219.9,109.2 L220.1,109.2 L220.3,109.2 L220.4,109.2 L220.5,109.2 L220.7,109.2 L221,109.1 L221.2,109.1 L221.4,109.1 L221.6,109.1 L221.8,109.1 L222,109.1 L222.2,109.1 L222.5,109.1 L222.7,109.1 L222.9,109.1 L223.1,109.1 L223.3,109.1 L223.5,109 L223.8,109 L224,109 L224,109 L224.2,109 L224.4,109 L224.6,109 L224.8,109 L225.1,109 L225.3,109 L225.5,109 L225.7,109 L225.8,109 L225.9,109 L226.1,109 L226.4,109 L226.6,109 L226.8,109 L227,108.9 L227.2,108.9 L227.4,108.9 L227.6,108.9 L229.4,108.9 L231.2,108.9 L233,108.8 L234.8,108.8 L236.6,108.8 L238.4,108.8 L240.2,108.8 L242,108.8 L243.8,108.8 L245.6,108.8 L247.4,108.7 L249.2,108.7 L251.1,108.7 L252.8,108.7 L254.6,108.7 L256.4,108.7 L258.2,108.7 L260.1,108.7 L261.9,108.7 L263.6,108.7 L265.4,108.7 L267.2,108.7 L269.1,108.7 L270.9,108.7 L272.6,108.7 L274.4,108.7 L276.2,108.7 L278.1,108.7 L279.9,108.7 L281.6,108.7 L283.4,108.7 L285.2,108.7 L287.1,108.7 L288.9,108.7 L290.6,108.7 L292.4,108.7 L294.2,108.7 L296.1,108.7 L297.9,108.7 L299.6,108.7 L301.4,108.7 L303.2,108.7 L305.1,108.7 L306.9,108.7 L308.6,108.7 L310.4,108.7 L312.2,108.7 L314,108.7 L315.9,108.7 L317.6,108.7 L319.4,108.7 L321.2,108.7 L323,108.7 L324.9,108.7 L326.6,108.7 L328.4,108.7" fill="none" stroke="#80ffff" stroke-width="1.7" stroke-linejoin="round" stroke-linecap="round"/>
<path d="M147.1,142.7 L147.3,142.7 L147.5,142.7 L147.7,142.7 L147.9,142.7 L148.2,142.7 L148.4,142.6 L148.4,142.6 L148.6,142.6 L148.8,142.6 L149,142.6 L149.2,142.6 L149.5,142.6 L149.7,142.6 L149.9,142.6 L150.1,142.6 L150.2,142.6 L150.3,142.5 L150.5,142.5 L150.8,142.5 L151,142.5 L151.2,142.5 L151.4,142.5 L151.6,142.5 L151.8,142.5 L152,142.4 L152.3,142.4 L152.5,142.4 L152.7,142.4 L152.9,142.4 L153.1,142.4 L153.3,142.4 L153.6,142.3 L153.8,142.3 L153.8,142.3 L154,142.3 L154.2,142.3 L154.4,142.3 L154.6,142.3 L154.9,142.2 L155.1,142.2 L155.3,142.2 L155.5,142.2 L155.6,142.2 L155.7,142.2 L155.9,142.1 L156.2,142.1 L156.4,142.1 L156.6,142.1 L156.8,142.1 L157,142 L157.2,142 L157.4,142 L157.7,142 L157.9,141.9 L158.1,141.9 L158.3,141.9 L158.5,141.9 L158.7,141.8 L159,141.8 L159.2,141.8 L159.2,141.8 L159.4,141.8 L159.6,141.7 L159.8,141.7 L160,141.7 L160.3,141.6 L160.5,141.6 L160.7,141.6 L160.9,141.5 L161,141.5 L161.1,141.5 L161.3,141.5 L161.6,141.4 L161.8,141.4 L162,141.4 L162.2,141.3 L162.4,141.3 L162.6,141.3 L162.8,141.2 L163.1,141.2 L163.3,141.2 L163.5,141.1 L163.7,141.1 L163.9,141 L164.1,141 L164.4,141 L164.6,140.9 L164.6,140.9 L164.8,140.9 L165,140.8 L165.2,140.8 L165.4,140.7 L165.7,140.7 L165.9,140.6 L166.1,140.6 L166.3,140.5 L166.4,140.5 L166.5,140.5 L166.7,140.4 L167,140.4 L167.2,140.3 L167.4,140.3 L167.6,140.2 L167.8,140.2 L168,140.1 L168.2,140.1 L168.5,140 L168.7,139.9 L168.9,139.9 L169.1,139.8 L169.3,139.8 L169.5,139.7 L169.8,139.6 L170,139.6 L170,139.6 L170.2,139.5 L170.4,139.4 L170.6,139.4 L170.8,139.3 L171.1,139.2 L171.3,139.2 L171.5,139.1 L171.7,139 L171.8,139 L171.9,139 L172.1,138.9 L172.4,138.8 L172.6,138.7 L172.8,138.7 L173,138.6 L173.2,138.5 L173.4,138.4 L173.6,138.3 L173.9,138.2 L174.1,138.2 L174.3,138.1 L174.5,138 L174.7,137.9 L174.9,137.8 L175.2,137.7 L175.4,137.6 L175.4,137.6 L175.6,137.5 L175.8,137.4 L176,137.3 L176.2,137.2 L176.5,137.1 L176.7,137 L176.9,136.9 L177.1,136.8 L177.2,136.7 L177.3,136.7 L177.5,136.5 L177.8,136.4 L178,136.3 L178.2,136.1 L178.4,136 L178.6,135.8 L178.8,135.7 L179,135.5 L179.3,135.3 L179.5,135.1 L179.7,134.9 L179.9,134.7 L180.1,134.5 L180.3,134.2 L180.6,134 L180.8,133.7 L180.8,133.6 L181,133.4 L181.2,133.1 L181.4,132.7 L181.6,132.4 L181.9,132 L182.1,131.6 L182.3,131.2 L182.5,130.7 L182.6,130.4 L182.7,130.2 L182.9,129.7 L183.2,129.2 L183.4,128.6 L183.6,128.1 L183.8,127.5 L184,126.9 L184.2,126.3 L184.4,125.7 L184.7,125.1 L184.9,124.5 L185.1,123.9 L185.3,123.4 L185.5,122.8 L185.7,122.3 L186,121.8 L186.2,121.3 L186.2,121.1 L186.4,120.8 L186.6,120.4 L186.8,119.9 L187,119.6 L187.3,119.2 L187.5,118.8 L187.7,118.5 L187.9,118.2 L188,118 L188.1,117.9 L188.3,117.6 L188.6,117.4 L188.8,117.1 L189,116.9 L189.2,116.7 L189.4,116.5 L189.6,116.3 L189.8,116.1 L190.1,116 L190.3,115.8 L190.5,115.7 L190.7,115.5 L190.9,115.4 L191.1,115.3 L191.4,115.1 L191.6,115 L191.6,115 L191.8,114.9 L192,114.8 L192.2,114.7 L192.4,114.6 L192.7,114.5 L192.9,114.4 L193.1,114.3 L193.3,114.2 L193.4,114.1 L193.5,114.1 L193.7,114 L194,113.9 L194.2,113.8 L194.4,113.7 L194.6,113.6 L194.8,113.5 L195,113.5 L195.2,113.4 L195.5,113.3 L195.7,113.2 L195.9,113.1 L196.1,113.1 L196.3,113 L196.5,112.9 L196.8,112.8 L197,112.8 L197,112.7 L197.2,112.7 L197.4,112.6 L197.6,112.6 L197.8,112.5 L198.1,112.4 L198.3,112.4 L198.5,112.3 L198.7,112.2 L198.8,112.2 L198.9,112.2 L199.1,112.1 L199.4,112 L199.6,112 L199.8,111.9 L200,111.9 L200.2,111.8 L200.4,111.7 L200.6,111.7 L200.9,111.6 L201.1,111.6 L201.3,111.5 L201.5,111.5 L201.7,111.4 L201.9,111.4 L202.2,111.3 L202.4,111.3 L202.4,111.3 L202.6,111.2 L202.8,111.2 L203,111.1 L203.2,111.1 L203.5,111 L203.7,111 L203.9,110.9 L204.1,110.9 L204.2,110.9 L204.3,110.9 L204.5,110.8 L204.8,110.8 L205,110.7 L205.2,110.7 L205.4,110.7 L205.6,110.6 L205.8,110.6 L206,110.5 L206.3,110.5 L206.5,110.5 L206.7,110.4 L206.9,110.4 L207.1,110.4 L207.3,110.3 L207.6,110.3 L207.8,110.3 L207.8,110.3 L208,110.2 L208.2,110.2 L208.4,110.2 L208.6,110.1 L208.9,110.1 L209.1,110.1 L209.3,110.1 L209.5,110 L209.6,110 L209.7,110 L209.9,110 L210.2,110 L210.4,109.9 L210.6,109.9 L210.8,109.9 L211,109.9 L211.2,109.8 L211.4,109.8 L211.7,109.8 L211.9,109.8 L212.1,109.7 L212.3,109.7 L212.5,109.7 L212.7,109.7 L213,109.7 L213.2,109.6 L213.2,109.6 L213.4,109.6 L213.6,109.6 L213.8,109.6 L214,109.6 L214.3,109.5 L214.5,109.5 L214.7,109.5 L214.9,109.5 L215,109.5 L215.1,109.5 L215.3,109.5 L215.6,109.4 L215.8,109.4 L216,109.4 L216.2,109.4 L216.4,109.4 L216.6,109.4 L216.8,109.4 L217.1,109.3 L217.3,109.3 L217.5,109.3 L217.7,109.3 L217.9,109.3 L218.1,109.3 L218.4,109.3 L218.6,109.3 L218.6,109.3 L218.8,109.2 L219,109.2 L219.2,109.2 L219.4,109.2 L219.7,109.2 L219.9,109.2 L220.1,109.2 L220.3,109.2 L220.4,109.2 L220.5,109.2 L220.7,109.2 L221,109.1 L221.2,109.1 L221.4,109.1 L221.6,109.1 L221.8,109.1" fill="none" stroke="#80ffff" stroke-width="3.5" stroke-linejoin="round" stroke-linecap="round"/>
<g fill="#80ffff"><circle cx="40.4" cy="143.1" r="1.3"/><circle cx="44" cy="143.1" r="1.3"/><circle cx="47.6" cy="143.1" r="1.3"/><circle cx="51.2" cy="143.1" r="1.3"/><circle cx="54.8" cy="143.1" r="1.3"/><circle cx="58.4" cy="143.1" r="1.3"/><circle cx="62" cy="143.1" r="1.3"/><circle cx="65.6" cy="143.1" r="1.3"/><circle cx="69.2" cy="143.1" r="1.3"/><circle cx="72.8" cy="143.1" r="1.3"/><circle cx="76.4" cy="143.1" r="1.3"/><circle cx="80" cy="143.1" r="1.3"/><circle cx="83.6" cy="143.1" r="1.3"/><circle cx="87.2" cy="143.1" r="1.3"/><circle cx="90.8" cy="143.1" r="1.3"/><circle cx="94.4" cy="143.1" r="1.3"/><circle cx="98" cy="143.1" r="1.3"/><circle cx="101.6" cy="143.1" r="1.3"/><circle cx="105.2" cy="143.1" r="1.3"/><circle cx="108.8" cy="143.1" r="1.3"/><circle cx="112.4" cy="143.1" r="1.3"/><circle cx="116" cy="143.1" r="1.3"/><circle cx="119.6" cy="143.1" r="1.3"/><circle cx="123.2" cy="143.1" r="1.3"/><circle cx="126.8" cy="143" r="1.3"/><circle cx="130.4" cy="143" r="1.3"/><circle cx="134" cy="143" r="1.3"/><circle cx="137.6" cy="142.9" r="1.3"/><circle cx="141.2" cy="142.9" r="1.3"/><circle cx="144.8" cy="142.8" r="1.3"/><circle cx="148.4" cy="142.6" r="1.3"/><circle cx="220.4" cy="109.2" r="1.3"/><circle cx="224" cy="109" r="1.3"/><circle cx="227.6" cy="108.9" r="1.3"/><circle cx="231.2" cy="108.9" r="1.3"/><circle cx="234.8" cy="108.8" r="1.3"/><circle cx="238.4" cy="108.8" r="1.3"/><circle cx="242" cy="108.8" r="1.3"/><circle cx="245.6" cy="108.8" r="1.3"/><circle cx="249.2" cy="108.7" r="1.3"/><circle cx="252.8" cy="108.7" r="1.3"/><circle cx="256.4" cy="108.7" r="1.3"/><circle cx="260.1" cy="108.7" r="1.3"/><circle cx="263.6" cy="108.7" r="1.3"/><circle cx="267.2" cy="108.7" r="1.3"/><circle cx="270.9" cy="108.7" r="1.3"/><circle cx="274.4" cy="108.7" r="1.3"/><circle cx="278.1" cy="108.7" r="1.3"/><circle cx="281.6" cy="108.7" r="1.3"/><circle cx="285.2" cy="108.7" r="1.3"/><circle cx="288.9" cy="108.7" r="1.3"/><circle cx="292.4" cy="108.7" r="1.3"/><circle cx="296.1" cy="108.7" r="1.3"/><circle cx="299.6" cy="108.7" r="1.3"/><circle cx="303.2" cy="108.7" r="1.3"/><circle cx="306.9" cy="108.7" r="1.3"/><circle cx="310.4" cy="108.7" r="1.3"/><circle cx="314" cy="108.7" r="1.3"/><circle cx="317.6" cy="108.7" r="1.3"/><circle cx="321.2" cy="108.7" r="1.3"/><circle cx="324.9" cy="108.7" r="1.3"/><circle cx="328.4" cy="108.7" r="1.3"/></g>
<path d="M40.4,145.5 L42.2,145.5 L44,145.5 L45.8,145.5 L47.6,145.5 L49.4,145.5 L51.2,145.5 L53,145.5 L54.8,145.5 L56.6,145.5 L58.4,145.5 L60.2,145.5 L62,145.5 L63.8,145.5 L65.6,145.5 L67.4,145.5 L69.2,145.5 L71,145.5 L72.8,145.5 L74.6,145.5 L76.4,145.5 L78.2,145.5 L80,145.5 L81.8,145.5 L83.6,145.5 L85.4,145.5 L87.2,145.5 L89,145.5 L90.8,145.5 L92.6,145.5 L94.4,145.5 L96.2,145.5 L98,145.5 L99.8,145.5 L101.6,145.5 L103.4,145.5 L105.2,145.5 L107,145.5 L108.8,145.5 L110.6,145.5 L112.4,145.5 L114.2,145.5 L116,145.5 L117.8,145.5 L119.6,145.5 L121.4,145.5 L123.2,145.5 L125,145.5 L126.8,145.5 L128.6,145.5 L130.4,145.5 L132.2,145.5 L134,145.5 L135.8,145.5 L137.6,145.5 L139.4,145.5 L141.2,145.5 L141.5,145.5 L141.7,145.5 L141.9,145.5 L142.1,145.5 L142.3,145.5 L142.5,145.5 L142.8,145.5 L143,145.5 L143,145.5 L143.2,145.5 L143.4,145.5 L143.6,145.5 L143.8,145.5 L144.1,145.5 L144.3,145.4 L144.5,145.4 L144.7,145.4 L144.8,145.4 L144.9,145.4 L145.1,145.4 L145.4,145.4 L145.6,145.4 L145.8,145.4 L146,145.4 L146.2,145.4 L146.4,145.4 L146.6,145.4 L146.9,145.4 L147.1,145.4 L147.3,145.4 L147.5,145.4 L147.7,145.4 L147.9,145.4 L148.2,145.4 L148.4,145.4 L148.4,145.4 L148.6,145.4 L148.8,145.4 L149,145.4 L149.2,145.4 L149.5,145.4 L149.7,145.3 L149.9,145.3 L150.1,145.3 L150.2,145.3 L150.3,145.3 L150.5,145.3 L150.8,145.3 L151,145.3 L151.2,145.3 L151.4,145.3 L151.6,145.3 L151.8,145.3 L152,145.3 L152.3,145.3 L152.5,145.3 L152.7,145.2 L152.9,145.2 L153.1,145.2 L153.3,145.2 L153.6,145.2 L153.8,145.2 L153.8,145.2 L154,145.2 L154.2,145.2 L154.4,145.2 L154.6,145.2 L154.9,145.1 L155.1,145.1 L155.3,145.1 L155.5,145.1 L155.6,145.1 L155.7,145.1 L155.9,145.1 L156.2,145.1 L156.4,145.1 L156.6,145 L156.8,145 L157,145 L157.2,145 L157.4,145 L157.7,145 L157.9,144.9 L158.1,144.9 L158.3,144.9 L158.5,144.9 L158.7,144.9 L159,144.8 L159.2,144.8 L159.2,144.8 L159.4,144.8 L159.6,144.8 L159.8,144.8 L160,144.7 L160.3,144.7 L160.5,144.7 L160.7,144.7 L160.9,144.6 L161,144.6 L161.1,144.6 L161.3,144.6 L161.6,144.5 L161.8,144.5 L162,144.5 L162.2,144.4 L162.4,144.4 L162.6,144.4 L162.8,144.3 L163.1,144.3 L163.3,144.3 L163.5,144.2 L163.7,144.2 L163.9,144.2 L164.1,144.1 L164.4,144.1 L164.6,144 L164.6,144 L164.8,144 L165,143.9 L165.2,143.9 L165.4,143.8 L165.7,143.8 L165.9,143.7 L166.1,143.7 L166.3,143.6 L166.4,143.6 L166.5,143.6 L166.7,143.5 L167,143.5 L167.2,143.4 L167.4,143.4 L167.6,143.3 L167.8,143.2 L168,143.2 L168.2,143.1 L168.5,143 L168.7,142.9 L168.9,142.9 L169.1,142.8 L169.3,142.7 L169.5,142.6 L169.8,142.6 L170,142.5 L170,142.5 L170.2,142.4 L170.4,142.3 L170.6,142.2 L170.8,142.1 L171.1,142 L171.3,141.9 L171.5,141.8 L171.7,141.7 L171.8,141.7 L171.9,141.6 L172.1,141.5 L172.4,141.4 L172.6,141.3 L172.8,141.2 L173,141.1 L173.2,141 L173.4,140.9 L173.6,140.7 L173.9,140.6 L174.1,140.5 L174.3,140.4 L174.5,140.2 L174.7,140.1 L174.9,140 L175.2,139.8 L175.4,139.7 L175.4,139.6 L175.6,139.6 L175.8,139.4 L176,139.3 L176.2,139.1 L176.5,139 L176.7,138.8 L176.9,138.6 L177.1,138.5 L177.2,138.4 L177.3,138.3 L177.5,138.2 L177.8,138 L178,137.8 L178.2,137.6 L178.4,137.5 L178.6,137.3 L178.8,137.1 L179,136.9 L179.3,136.7 L179.5,136.5 L179.7,136.3 L179.9,136.1 L180.1,135.9 L180.3,135.7 L180.6,135.4 L180.8,135.2 L180.8,135.1 L181,134.9 L181.2,134.7 L181.4,134.4 L181.6,134.1 L181.9,133.7 L182.1,133.3 L182.3,132.9 L182.5,132.4 L182.6,132.1 L182.7,131.9 L182.9,131.3 L183.2,130.7 L183.4,130 L183.6,129.2 L183.8,128.4 L184,127.5 L184.2,126.6 L184.4,125.7 L184.7,124.8 L184.9,123.9 L185.1,123.1 L185.3,122.3 L185.5,121.5 L185.7,120.9 L186,120.3 L186.2,119.7 L186.2,119.5 L186.4,119.2 L186.6,118.7 L186.8,118.3 L187,118 L187.3,117.6 L187.5,117.3 L187.7,117.1 L187.9,116.8 L188,116.6 L188.1,116.5 L188.3,116.3 L188.6,116.1 L188.8,115.9 L189,115.7 L189.2,115.5 L189.4,115.3 L189.6,115.1 L189.8,114.9 L190.1,114.7 L190.3,114.5 L190.5,114.4 L190.7,114.2 L190.9,114 L191.1,113.8 L191.4,113.7 L191.6,113.5 L191.6,113.5 L191.8,113.4 L192,113.2 L192.2,113.1 L192.4,112.9 L192.7,112.8 L192.9,112.6 L193.1,112.5 L193.3,112.3 L193.4,112.2 L193.5,112.2 L193.7,112.1 L194,111.9 L194.2,111.8 L194.4,111.7 L194.6,111.5 L194.8,111.4 L195,111.3 L195.2,111.2 L195.5,111.1 L195.7,110.9 L195.9,110.8 L196.1,110.7 L196.3,110.6 L196.5,110.5 L196.8,110.4 L197,110.3 L197,110.3 L197.2,110.2 L197.4,110.1 L197.6,110 L197.8,109.9 L198.1,109.8 L198.3,109.8 L198.5,109.7 L198.7,109.6 L198.8,109.5 L198.9,109.5 L199.1,109.4 L199.4,109.3 L199.6,109.3 L199.8,109.2 L200,109.1 L200.2,109.1 L200.4,109 L200.6,108.9 L200.9,108.9 L201.1,108.8 L201.3,108.7 L201.5,108.7 L201.7,108.6 L201.9,108.6 L202.2,108.5 L202.4,108.4 L202.4,108.4 L202.6,108.4 L202.8,108.3 L203,108.3 L203.2,108.2 L203.5,108.2 L203.7,108.1 L203.9,108.1 L204.1,108.1 L204.2,108 L204.3,108 L204.5,108 L204.8,107.9 L205,107.9 L205.2,107.9 L205.4,107.8 L205.6,107.8 L205.8,107.7 L206,107.7 L206.3,107.7 L206.5,107.6 L206.7,107.6 L206.9,107.6 L207.1,107.5 L207.3,107.5 L207.6,107.5 L207.8,107.5 L207.8,107.5 L208,107.4 L208.2,107.4 L208.4,107.4 L208.6,107.4 L208.9,107.3 L209.1,107.3 L209.3,107.3 L209.5,107.3 L209.6,107.3 L209.7,107.3 L209.9,107.2 L210.2,107.2 L210.4,107.2 L210.6,107.2 L210.8,107.2 L211,107.1 L211.2,107.1 L211.4,107.1 L211.7,107.1 L211.9,107.1 L212.1,107.1 L212.3,107 L212.5,107 L212.7,107 L213,107 L213.2,107 L213.2,107 L213.4,107 L213.6,107 L213.8,106.9 L214,106.9 L214.3,106.9 L214.5,106.9 L214.7,106.9 L214.9,106.9 L215,106.9 L215.1,106.9 L215.3,106.9 L215.6,106.9 L215.8,106.9 L216,106.8 L216.2,106.8 L216.4,106.8 L216.6,106.8 L216.8,106.8 L217.1,106.8 L217.3,106.8 L217.5,106.8 L217.7,106.8 L217.9,106.8 L218.1,106.8 L218.4,106.8 L218.6,106.8 L218.6,106.8 L218.8,106.8 L219,106.7 L219.2,106.7 L219.4,106.7 L219.7,106.7 L219.9,106.7 L220.1,106.7 L220.3,106.7 L220.4,106.7 L220.5,106.7 L220.7,106.7 L221,106.7 L221.2,106.7 L221.4,106.7 L221.6,106.7 L221.8,106.7 L222,106.7 L222.2,106.7 L222.5,106.7 L222.7,106.7 L222.9,106.7 L223.1,106.7 L223.3,106.7 L223.5,106.7 L223.8,106.7 L224,106.7 L224,106.7 L224.2,106.6 L224.4,106.6 L224.6,106.6 L224.8,106.6 L225.1,106.6 L225.3,106.6 L225.5,106.6 L225.7,106.6 L225.8,106.6 L225.9,106.6 L226.1,106.6 L226.4,106.6 L226.6,106.6 L226.8,106.6 L227,106.6 L227.2,106.6 L227.4,106.6 L227.6,106.6 L229.4,106.6 L231.2,106.6 L233,106.6 L234.8,106.6 L236.6,106.6 L238.4,106.6 L240.2,106.6 L242,106.6 L243.8,106.6 L245.6,106.6 L247.4,106.6 L249.2,106.6 L251.1,106.6 L252.8,106.6 L254.6,106.6 L256.4,106.6 L258.2,106.6 L260.1,106.6 L261.9,106.6 L263.6,106.6 L265.4,106.6 L267.2,106.6 L269.1,106.6 L270.9,106.6 L272.6,106.6 L274.4,106.6 L276.2,106.6 L278.1,106.6 L279.9,106.6 L281.6,106.6 L283.4,106.6 L285.2,106.6 L287.1,106.6 L288.9,106.6 L290.6,106.6 L292.4,106.6 L294.2,106.6 L296.1,106.6 L297.9,106.6 L299.6,106.6 L301.4,106.6 L303.2,106.6 L305.1,106.6 L306.9,106.6 L308.6,106.6 L310.4,106.6 L312.2,106.6 L314,106.6 L315.9,106.6 L317.6,106.6 L319.4,106.6 L321.2,106.6 L323,106.6 L324.9,106.6 L326.6,106.6 L328.4,106.6" fill="none" stroke="#40ff00" stroke-width="1.7" stroke-linejoin="round" stroke-linecap="round"/>
<path d="M147.1,145.4 L147.3,145.4 L147.5,145.4 L147.7,145.4 L147.9,145.4 L148.2,145.4 L148.4,145.4 L148.4,145.4 L148.6,145.4 L148.8,145.4 L149,145.4 L149.2,145.4 L149.5,145.4 L149.7,145.3 L149.9,145.3 L150.1,145.3 L150.2,145.3 L150.3,145.3 L150.5,145.3 L150.8,145.3 L151,145.3 L151.2,145.3 L151.4,145.3 L151.6,145.3 L151.8,145.3 L152,145.3 L152.3,145.3 L152.5,145.3 L152.7,145.2 L152.9,145.2 L153.1,145.2 L153.3,145.2 L153.6,145.2 L153.8,145.2 L153.8,145.2 L154,145.2 L154.2,145.2 L154.4,145.2 L154.6,145.2 L154.9,145.1 L155.1,145.1 L155.3,145.1 L155.5,145.1 L155.6,145.1 L155.7,145.1 L155.9,145.1 L156.2,145.1 L156.4,145.1 L156.6,145 L156.8,145 L157,145 L157.2,145 L157.4,145 L157.7,145 L157.9,144.9 L158.1,144.9 L158.3,144.9 L158.5,144.9 L158.7,144.9 L159,144.8 L159.2,144.8 L159.2,144.8 L159.4,144.8 L159.6,144.8 L159.8,144.8 L160,144.7 L160.3,144.7 L160.5,144.7 L160.7,144.7 L160.9,144.6 L161,144.6 L161.1,144.6 L161.3,144.6 L161.6,144.5 L161.8,144.5 L162,144.5 L162.2,144.4 L162.4,144.4 L162.6,144.4 L162.8,144.3 L163.1,144.3 L163.3,144.3 L163.5,144.2 L163.7,144.2 L163.9,144.2 L164.1,144.1 L164.4,144.1 L164.6,144 L164.6,144 L164.8,144 L165,143.9 L165.2,143.9 L165.4,143.8 L165.7,143.8 L165.9,143.7 L166.1,143.7 L166.3,143.6 L166.4,143.6 L166.5,143.6 L166.7,143.5 L167,143.5 L167.2,143.4 L167.4,143.4 L167.6,143.3 L167.8,143.2 L168,143.2 L168.2,143.1 L168.5,143 L168.7,142.9 L168.9,142.9 L169.1,142.8 L169.3,142.7 L169.5,142.6 L169.8,142.6 L170,142.5 L170,142.5 L170.2,142.4 L170.4,142.3 L170.6,142.2 L170.8,142.1 L171.1,142 L171.3,141.9 L171.5,141.8 L171.7,141.7 L171.8,141.7 L171.9,141.6 L172.1,141.5 L172.4,141.4 L172.6,141.3 L172.8,141.2 L173,141.1 L173.2,141 L173.4,140.9 L173.6,140.7 L173.9,140.6 L174.1,140.5 L174.3,140.4 L174.5,140.2 L174.7,140.1 L174.9,140 L175.2,139.8 L175.4,139.7 L175.4,139.6 L175.6,139.6 L175.8,139.4 L176,139.3 L176.2,139.1 L176.5,139 L176.7,138.8 L176.9,138.6 L177.1,138.5 L177.2,138.4 L177.3,138.3 L177.5,138.2 L177.8,138 L178,137.8 L178.2,137.6 L178.4,137.5 L178.6,137.3 L178.8,137.1 L179,136.9 L179.3,136.7 L179.5,136.5 L179.7,136.3 L179.9,136.1 L180.1,135.9 L180.3,135.7 L180.6,135.4 L180.8,135.2 L180.8,135.1 L181,134.9 L181.2,134.7 L181.4,134.4 L181.6,134.1 L181.9,133.7 L182.1,133.3 L182.3,132.9 L182.5,132.4 L182.6,132.1 L182.7,131.9 L182.9,131.3 L183.2,130.7 L183.4,130 L183.6,129.2 L183.8,128.4 L184,127.5 L184.2,126.6 L184.4,125.7 L184.7,124.8 L184.9,123.9 L185.1,123.1 L185.3,122.3 L185.5,121.5 L185.7,120.9 L186,120.3 L186.2,119.7 L186.2,119.5 L186.4,119.2 L186.6,118.7 L186.8,118.3 L187,118 L187.3,117.6 L187.5,117.3 L187.7,117.1 L187.9,116.8 L188,116.6 L188.1,116.5 L188.3,116.3 L188.6,116.1 L188.8,115.9 L189,115.7 L189.2,115.5 L189.4,115.3 L189.6,115.1 L189.8,114.9 L190.1,114.7 L190.3,114.5 L190.5,114.4 L190.7,114.2 L190.9,114 L191.1,113.8 L191.4,113.7 L191.6,113.5 L191.6,113.5 L191.8,113.4 L192,113.2 L192.2,113.1 L192.4,112.9 L192.7,112.8 L192.9,112.6 L193.1,112.5 L193.3,112.3 L193.4,112.2 L193.5,112.2 L193.7,112.1 L194,111.9 L194.2,111.8 L194.4,111.7 L194.6,111.5 L194.8,111.4 L195,111.3 L195.2,111.2 L195.5,111.1 L195.7,110.9 L195.9,110.8 L196.1,110.7 L196.3,110.6 L196.5,110.5 L196.8,110.4 L197,110.3 L197,110.3 L197.2,110.2 L197.4,110.1 L197.6,110 L197.8,109.9 L198.1,109.8 L198.3,109.8 L198.5,109.7 L198.7,109.6 L198.8,109.5 L198.9,109.5 L199.1,109.4 L199.4,109.3 L199.6,109.3 L199.8,109.2 L200,109.1 L200.2,109.1 L200.4,109 L200.6,108.9 L200.9,108.9 L201.1,108.8 L201.3,108.7 L201.5,108.7 L201.7,108.6 L201.9,108.6 L202.2,108.5 L202.4,108.4 L202.4,108.4 L202.6,108.4 L202.8,108.3 L203,108.3 L203.2,108.2 L203.5,108.2 L203.7,108.1 L203.9,108.1 L204.1,108.1 L204.2,108 L204.3,108 L204.5,108 L204.8,107.9 L205,107.9 L205.2,107.9 L205.4,107.8 L205.6,107.8 L205.8,107.7 L206,107.7 L206.3,107.7 L206.5,107.6 L206.7,107.6 L206.9,107.6 L207.1,107.5 L207.3,107.5 L207.6,107.5 L207.8,107.5 L207.8,107.5 L208,107.4 L208.2,107.4 L208.4,107.4 L208.6,107.4 L208.9,107.3 L209.1,107.3 L209.3,107.3 L209.5,107.3 L209.6,107.3 L209.7,107.3 L209.9,107.2 L210.2,107.2 L210.4,107.2 L210.6,107.2 L210.8,107.2 L211,107.1 L211.2,107.1 L211.4,107.1 L211.7,107.1 L211.9,107.1 L212.1,107.1 L212.3,107 L212.5,107 L212.7,107 L213,107 L213.2,107 L213.2,107 L213.4,107 L213.6,107 L213.8,106.9 L214,106.9 L214.3,106.9 L214.5,106.9 L214.7,106.9 L214.9,106.9 L215,106.9 L215.1,106.9 L215.3,106.9 L215.6,106.9 L215.8,106.9 L216,106.8 L216.2,106.8 L216.4,106.8 L216.6,106.8 L216.8,106.8 L217.1,106.8 L217.3,106.8 L217.5,106.8 L217.7,106.8 L217.9,106.8 L218.1,106.8 L218.4,106.8 L218.6,106.8 L218.6,106.8 L218.8,106.8 L219,106.7 L219.2,106.7 L219.4,106.7 L219.7,106.7 L219.9,106.7 L220.1,106.7 L220.3,106.7 L220.4,106.7 L220.5,106.7 L220.7,106.7 L221,106.7 L221.2,106.7 L221.4,106.7 L221.6,106.7 L221.8,106.7" fill="none" stroke="#40ff00" stroke-width="3.5" stroke-linejoin="round" stroke-linecap="round"/>
<g fill="#40ff00"><circle cx="40.4" cy="145.5" r="1.3"/><circle cx="44" cy="145.5" r="1.3"/><circle cx="47.6" cy="145.5" r="1.3"/><circle cx="51.2" cy="145.5" r="1.3"/><circle cx="54.8" cy="145.5" r="1.3"/><circle cx="58.4" cy="145.5" r="1.3"/><circle cx="62" cy="145.5" r="1.3"/><circle cx="65.6" cy="145.5" r="1.3"/><circle cx="69.2" cy="145.5" r="1.3"/><circle cx="72.8" cy="145.5" r="1.3"/><circle cx="76.4" cy="145.5" r="1.3"/><circle cx="80" cy="145.5" r="1.3"/><circle cx="83.6" cy="145.5" r="1.3"/><circle cx="87.2" cy="145.5" r="1.3"/><circle cx="90.8" cy="145.5" r="1.3"/><circle cx="94.4" cy="145.5" r="1.3"/><circle cx="98" cy="145.5" r="1.3"/><circle cx="101.6" cy="145.5" r="1.3"/><circle cx="105.2" cy="145.5" r="1.3"/><circle cx="108.8" cy="145.5" r="1.3"/><circle cx="112.4" cy="145.5" r="1.3"/><circle cx="116" cy="145.5" r="1.3"/><circle cx="119.6" cy="145.5" r="1.3"/><circle cx="123.2" cy="145.5" r="1.3"/><circle cx="126.8" cy="145.5" r="1.3"/><circle cx="130.4" cy="145.5" r="1.3"/><circle cx="134" cy="145.5" r="1.3"/><circle cx="137.6" cy="145.5" r="1.3"/><circle cx="141.2" cy="145.5" r="1.3"/><circle cx="144.8" cy="145.4" r="1.3"/><circle cx="148.4" cy="145.4" r="1.3"/><circle cx="220.4" cy="106.7" r="1.3"/><circle cx="224" cy="106.7" r="1.3"/><circle cx="227.6" cy="106.6" r="1.3"/><circle cx="231.2" cy="106.6" r="1.3"/><circle cx="234.8" cy="106.6" r="1.3"/><circle cx="238.4" cy="106.6" r="1.3"/><circle cx="242" cy="106.6" r="1.3"/><circle cx="245.6" cy="106.6" r="1.3"/><circle cx="249.2" cy="106.6" r="1.3"/><circle cx="252.8" cy="106.6" r="1.3"/><circle cx="256.4" cy="106.6" r="1.3"/><circle cx="260.1" cy="106.6" r="1.3"/><circle cx="263.6" cy="106.6" r="1.3"/><circle cx="267.2" cy="106.6" r="1.3"/><circle cx="270.9" cy="106.6" r="1.3"/><circle cx="274.4" cy="106.6" r="1.3"/><circle cx="278.1" cy="106.6" r="1.3"/><circle cx="281.6" cy="106.6" r="1.3"/><circle cx="285.2" cy="106.6" r="1.3"/><circle cx="288.9" cy="106.6" r="1.3"/><circle cx="292.4" cy="106.6" r="1.3"/><circle cx="296.1" cy="106.6" r="1.3"/><circle cx="299.6" cy="106.6" r="1.3"/><circle cx="303.2" cy="106.6" r="1.3"/><circle cx="306.9" cy="106.6" r="1.3"/><circle cx="310.4" cy="106.6" r="1.3"/><circle cx="314" cy="106.6" r="1.3"/><circle cx="317.6" cy="106.6" r="1.3"/><circle cx="321.2" cy="106.6" r="1.3"/><circle cx="324.9" cy="106.6" r="1.3"/><circle cx="328.4" cy="106.6" r="1.3"/></g>
<path d="M40.4,132.8 L42.2,132.8 L44,132.8 L45.8,132.8 L47.6,132.8 L49.4,132.8 L51.2,132.8 L53,132.8 L54.8,132.8 L56.6,132.8 L58.4,132.8 L60.2,132.8 L62,132.8 L63.8,132.8 L65.6,132.8 L67.4,132.8 L69.2,132.8 L71,132.8 L72.8,132.8 L74.6,132.8 L76.4,132.8 L78.2,132.8 L80,132.8 L81.8,132.8 L83.6,132.8 L85.4,132.8 L87.2,132.8 L89,132.7 L90.8,132.7 L92.6,132.7 L94.4,132.7 L96.2,132.7 L98,132.7 L99.8,132.7 L101.6,132.7 L103.4,132.7 L105.2,132.7 L107,132.7 L108.8,132.7 L110.6,132.7 L112.4,132.7 L114.2,132.7 L116,132.7 L117.8,132.7 L119.6,132.7 L121.4,132.7 L123.2,132.6 L125,132.6 L126.8,132.6 L128.6,132.6 L130.4,132.6 L132.2,132.6 L134,132.6 L135.8,132.6 L137.6,132.6 L139.4,132.6 L141.2,132.5 L141.5,132.5 L141.7,132.5 L141.9,132.5 L142.1,132.5 L142.3,132.5 L142.5,132.5 L142.8,132.5 L143,132.5 L143,132.5 L143.2,132.5 L143.4,132.5 L143.6,132.5 L143.8,132.5 L144.1,132.5 L144.3,132.5 L144.5,132.5 L144.7,132.5 L144.8,132.5 L144.9,132.5 L145.1,132.5 L145.4,132.5 L145.6,132.5 L145.8,132.5 L146,132.5 L146.2,132.5 L146.4,132.5 L146.6,132.5 L146.9,132.5 L147.1,132.5 L147.3,132.5 L147.5,132.5 L147.7,132.5 L147.9,132.5 L148.2,132.5 L148.4,132.5 L148.4,132.5 L148.6,132.5 L148.8,132.5 L149,132.5 L149.2,132.5 L149.5,132.5 L149.7,132.5 L149.9,132.4 L150.1,132.4 L150.2,132.4 L150.3,132.4 L150.5,132.4 L150.8,132.4 L151,132.4 L151.2,132.4 L151.4,132.4 L151.6,132.4 L151.8,132.4 L152,132.4 L152.3,132.4 L152.5,132.4 L152.7,132.4 L152.9,132.4 L153.1,132.4 L153.3,132.4 L153.6,132.4 L153.8,132.4 L153.8,132.4 L154,132.4 L154.2,132.4 L154.4,132.4 L154.6,132.4 L154.9,132.4 L155.1,132.4 L155.3,132.4 L155.5,132.4 L155.6,132.4 L155.7,132.4 L155.9,132.3 L156.2,132.3 L156.4,132.3 L156.6,132.3 L156.8,132.3 L157,132.3 L157.2,132.3 L157.4,132.3 L157.7,132.3 L157.9,132.3 L158.1,132.3 L158.3,132.3 L158.5,132.3 L158.7,132.3 L159,132.3 L159.2,132.3 L159.2,132.3 L159.4,132.3 L159.6,132.3 L159.8,132.2 L160,132.2 L160.3,132.2 L160.5,132.2 L160.7,132.2 L160.9,132.2 L161,132.2 L161.1,132.2 L161.3,132.2 L161.6,132.2 L161.8,132.2 L162,132.2 L162.2,132.1 L162.4,132.1 L162.6,132.1 L162.8,132.1 L163.1,132.1 L163.3,132.1 L163.5,132.1 L163.7,132.1 L163.9,132.1 L164.1,132 L164.4,132 L164.6,132 L164.6,132 L164.8,132 L165,132 L165.2,132 L165.4,131.9 L165.7,131.9 L165.9,131.9 L166.1,131.9 L166.3,131.9 L166.4,131.9 L166.5,131.9 L166.7,131.8 L167,131.8 L167.2,131.8 L167.4,131.8 L167.6,131.8 L167.8,131.7 L168,131.7 L168.2,131.7 L168.5,131.7 L168.7,131.6 L168.9,131.6 L169.1,131.6 L169.3,131.5 L169.5,131.5 L169.8,131.5 L170,131.4 L170,131.4 L170.2,131.4 L170.4,131.4 L170.6,131.3 L170.8,131.3 L171.1,131.3 L171.3,131.2 L171.5,131.2 L171.7,131.1 L171.8,131.1 L171.9,131.1 L172.1,131.1 L172.4,131 L172.6,131 L172.8,130.9 L173,130.9 L173.2,130.8 L173.4,130.8 L173.6,130.7 L173.9,130.6 L174.1,130.6 L174.3,130.5 L174.5,130.5 L174.7,130.4 L174.9,130.3 L175.2,130.3 L175.4,130.2 L175.4,130.2 L175.6,130.1 L175.8,130 L176,130 L176.2,129.9 L176.5,129.8 L176.7,129.7 L176.9,129.7 L177.1,129.6 L177.2,129.5 L177.3,129.5 L177.5,129.4 L177.8,129.3 L178,129.2 L178.2,129.1 L178.4,129 L178.6,128.9 L178.8,128.8 L179,128.7 L179.3,128.6 L179.5,128.5 L179.7,128.4 L179.9,128.3 L180.1,128.2 L180.3,128.1 L180.6,128 L180.8,127.8 L180.8,127.8 L181,127.7 L181.2,127.6 L181.4,127.5 L181.6,127.4 L181.9,127.2 L182.1,127.1 L182.3,127 L182.5,126.9 L182.6,126.8 L182.7,126.7 L182.9,126.6 L183.2,126.5 L183.4,126.4 L183.6,126.2 L183.8,126.1 L184,126 L184.2,125.8 L184.4,125.7 L184.7,125.6 L184.9,125.4 L185.1,125.3 L185.3,125.2 L185.5,125 L185.7,124.9 L186,124.8 L186.2,124.7 L186.2,124.6 L186.4,124.5 L186.6,124.4 L186.8,124.3 L187,124.1 L187.3,124 L187.5,123.9 L187.7,123.8 L187.9,123.7 L188,123.6 L188.1,123.5 L188.3,123.4 L188.6,123.3 L188.8,123.2 L189,123.1 L189.2,123 L189.4,122.9 L189.6,122.8 L189.8,122.7 L190.1,122.5 L190.3,122.4 L190.5,122.3 L190.7,122.3 L190.9,122.2 L191.1,122.1 L191.4,122 L191.6,121.9 L191.6,121.9 L191.8,121.8 L192,121.7 L192.2,121.6 L192.4,121.5 L192.7,121.5 L192.9,121.4 L193.1,121.3 L193.3,121.2 L193.4,121.2 L193.5,121.2 L193.7,121.1 L194,121 L194.2,121 L194.4,120.9 L194.6,120.8 L194.8,120.8 L195,120.7 L195.2,120.7 L195.5,120.6 L195.7,120.5 L195.9,120.5 L196.1,120.4 L196.3,120.4 L196.5,120.3 L196.8,120.3 L197,120.2 L197,120.2 L197.2,120.2 L197.4,120.2 L197.6,120.1 L197.8,120.1 L198.1,120 L198.3,120 L198.5,120 L198.7,119.9 L198.8,119.9 L198.9,119.9 L199.1,119.9 L199.4,119.8 L199.6,119.8 L199.8,119.8 L200,119.7 L200.2,119.7 L200.4,119.7 L200.6,119.7 L200.9,119.6 L201.1,119.6 L201.3,119.6 L201.5,119.6 L201.7,119.5 L201.9,119.5 L202.2,119.5 L202.4,119.5 L202.4,119.5 L202.6,119.5 L202.8,119.4 L203,119.4 L203.2,119.4 L203.5,119.4 L203.7,119.4 L203.9,119.4 L204.1,119.3 L204.2,119.3 L204.3,119.3 L204.5,119.3 L204.8,119.3 L205,119.3 L205.2,119.3 L205.4,119.3 L205.6,119.2 L205.8,119.2 L206,119.2 L206.3,119.2 L206.5,119.2 L206.7,119.2 L206.9,119.2 L207.1,119.2 L207.3,119.2 L207.6,119.2 L207.8,119.1 L207.8,119.1 L208,119.1 L208.2,119.1 L208.4,119.1 L208.6,119.1 L208.9,119.1 L209.1,119.1 L209.3,119.1 L209.5,119.1 L209.6,119.1 L209.7,119.1 L209.9,119.1 L210.2,119.1 L210.4,119.1 L210.6,119 L210.8,119 L211,119 L211.2,119 L211.4,119 L211.7,119 L211.9,119 L212.1,119 L212.3,119 L212.5,119 L212.7,119 L213,119 L213.2,119 L213.2,119 L213.4,119 L213.6,119 L213.8,119 L214,119 L214.3,119 L214.5,119 L214.7,119 L214.9,118.9 L215,118.9 L215.1,118.9 L215.3,118.9 L215.6,118.9 L215.8,118.9 L216,118.9 L216.2,118.9 L216.4,118.9 L216.6,118.9 L216.8,118.9 L217.1,118.9 L217.3,118.9 L217.5,118.9 L217.7,118.9 L217.9,118.9 L218.1,118.9 L218.4,118.9 L218.6,118.9 L218.6,118.9 L218.8,118.9 L219,118.9 L219.2,118.9 L219.4,118.9 L219.7,118.9 L219.9,118.9 L220.1,118.9 L220.3,118.9 L220.4,118.9 L220.5,118.9 L220.7,118.9 L221,118.9 L221.2,118.9 L221.4,118.9 L221.6,118.9 L221.8,118.9 L222,118.8 L222.2,118.8 L222.5,118.8 L222.7,118.8 L222.9,118.8 L223.1,118.8 L223.3,118.8 L223.5,118.8 L223.8,118.8 L224,118.8 L224,118.8 L224.2,118.8 L224.4,118.8 L224.6,118.8 L224.8,118.8 L225.1,118.8 L225.3,118.8 L225.5,118.8 L225.7,118.8 L225.8,118.8 L225.9,118.8 L226.1,118.8 L226.4,118.8 L226.6,118.8 L226.8,118.8 L227,118.8 L227.2,118.8 L227.4,118.8 L227.6,118.8 L229.4,118.8 L231.2,118.8 L233,118.8 L234.8,118.7 L236.6,118.7 L238.4,118.7 L240.2,118.7 L242,118.7 L243.8,118.7 L245.6,118.7 L247.4,118.7 L249.2,118.7 L251.1,118.7 L252.8,118.7 L254.6,118.6 L256.4,118.6 L258.2,118.6 L260.1,118.6 L261.9,118.6 L263.6,118.6 L265.4,118.6 L267.2,118.6 L269.1,118.6 L270.9,118.6 L272.6,118.6 L274.4,118.6 L276.2,118.6 L278.1,118.6 L279.9,118.6 L281.6,118.6 L283.4,118.6 L285.2,118.6 L287.1,118.6 L288.9,118.6 L290.6,118.6 L292.4,118.6 L294.2,118.6 L296.1,118.6 L297.9,118.6 L299.6,118.6 L301.4,118.6 L303.2,118.6 L305.1,118.6 L306.9,118.6 L308.6,118.6 L310.4,118.5 L312.2,118.5 L314,118.5 L315.9,118.5 L317.6,118.5 L319.4,118.5 L321.2,118.5 L323,118.5 L324.9,118.5 L326.6,118.5 L328.4,118.5" fill="none" stroke="#a61cf4" stroke-width="1.7" stroke-linejoin="round" stroke-linecap="round"/>
<path d="M147.1,132.5 L147.3,132.5 L147.5,132.5 L147.7,132.5 L147.9,132.5 L148.2,132.5 L148.4,132.5 L148.4,132.5 L148.6,132.5 L148.8,132.5 L149,132.5 L149.2,132.5 L149.5,132.5 L149.7,132.5 L149.9,132.4 L150.1,132.4 L150.2,132.4 L150.3,132.4 L150.5,132.4 L150.8,132.4 L151,132.4 L151.2,132.4 L151.4,132.4 L151.6,132.4 L151.8,132.4 L152,132.4 L152.3,132.4 L152.5,132.4 L152.7,132.4 L152.9,132.4 L153.1,132.4 L153.3,132.4 L153.6,132.4 L153.8,132.4 L153.8,132.4 L154,132.4 L154.2,132.4 L154.4,132.4 L154.6,132.4 L154.9,132.4 L155.1,132.4 L155.3,132.4 L155.5,132.4 L155.6,132.4 L155.7,132.4 L155.9,132.3 L156.2,132.3 L156.4,132.3 L156.6,132.3 L156.8,132.3 L157,132.3 L157.2,132.3 L157.4,132.3 L157.7,132.3 L157.9,132.3 L158.1,132.3 L158.3,132.3 L158.5,132.3 L158.7,132.3 L159,132.3 L159.2,132.3 L159.2,132.3 L159.4,132.3 L159.6,132.3 L159.8,132.2 L160,132.2 L160.3,132.2 L160.5,132.2 L160.7,132.2 L160.9,132.2 L161,132.2 L161.1,132.2 L161.3,132.2 L161.6,132.2 L161.8,132.2 L162,132.2 L162.2,132.1 L162.4,132.1 L162.6,132.1 L162.8,132.1 L163.1,132.1 L163.3,132.1 L163.5,132.1 L163.7,132.1 L163.9,132.1 L164.1,132 L164.4,132 L164.6,132 L164.6,132 L164.8,132 L165,132 L165.2,132 L165.4,131.9 L165.7,131.9 L165.9,131.9 L166.1,131.9 L166.3,131.9 L166.4,131.9 L166.5,131.9 L166.7,131.8 L167,131.8 L167.2,131.8 L167.4,131.8 L167.6,131.8 L167.8,131.7 L168,131.7 L168.2,131.7 L168.5,131.7 L168.7,131.6 L168.9,131.6 L169.1,131.6 L169.3,131.5 L169.5,131.5 L169.8,131.5 L170,131.4 L170,131.4 L170.2,131.4 L170.4,131.4 L170.6,131.3 L170.8,131.3 L171.1,131.3 L171.3,131.2 L171.5,131.2 L171.7,131.1 L171.8,131.1 L171.9,131.1 L172.1,131.1 L172.4,131 L172.6,131 L172.8,130.9 L173,130.9 L173.2,130.8 L173.4,130.8 L173.6,130.7 L173.9,130.6 L174.1,130.6 L174.3,130.5 L174.5,130.5 L174.7,130.4 L174.9,130.3 L175.2,130.3 L175.4,130.2 L175.4,130.2 L175.6,130.1 L175.8,130 L176,130 L176.2,129.9 L176.5,129.8 L176.7,129.7 L176.9,129.7 L177.1,129.6 L177.2,129.5 L177.3,129.5 L177.5,129.4 L177.8,129.3 L178,129.2 L178.2,129.1 L178.4,129 L178.6,128.9 L178.8,128.8 L179,128.7 L179.3,128.6 L179.5,128.5 L179.7,128.4 L179.9,128.3 L180.1,128.2 L180.3,128.1 L180.6,128 L180.8,127.8 L180.8,127.8 L181,127.7 L181.2,127.6 L181.4,127.5 L181.6,127.4 L181.9,127.2 L182.1,127.1 L182.3,127 L182.5,126.9 L182.6,126.8 L182.7,126.7 L182.9,126.6 L183.2,126.5 L183.4,126.4 L183.6,126.2 L183.8,126.1 L184,126 L184.2,125.8 L184.4,125.7 L184.7,125.6 L184.9,125.4 L185.1,125.3 L185.3,125.2 L185.5,125 L185.7,124.9 L186,124.8 L186.2,124.7 L186.2,124.6 L186.4,124.5 L186.6,124.4 L186.8,124.3 L187,124.1 L187.3,124 L187.5,123.9 L187.7,123.8 L187.9,123.7 L188,123.6 L188.1,123.5 L188.3,123.4 L188.6,123.3 L188.8,123.2 L189,123.1 L189.2,123 L189.4,122.9 L189.6,122.8 L189.8,122.7 L190.1,122.5 L190.3,122.4 L190.5,122.3 L190.7,122.3 L190.9,122.2 L191.1,122.1 L191.4,122 L191.6,121.9 L191.6,121.9 L191.8,121.8 L192,121.7 L192.2,121.6 L192.4,121.5 L192.7,121.5 L192.9,121.4 L193.1,121.3 L193.3,121.2 L193.4,121.2 L193.5,121.2 L193.7,121.1 L194,121 L194.2,121 L194.4,120.9 L194.6,120.8 L194.8,120.8 L195,120.7 L195.2,120.7 L195.5,120.6 L195.7,120.5 L195.9,120.5 L196.1,120.4 L196.3,120.4 L196.5,120.3 L196.8,120.3 L197,120.2 L197,120.2 L197.2,120.2 L197.4,120.2 L197.6,120.1 L197.8,120.1 L198.1,120 L198.3,120 L198.5,120 L198.7,119.9 L198.8,119.9 L198.9,119.9 L199.1,119.9 L199.4,119.8 L199.6,119.8 L199.8,119.8 L200,119.7 L200.2,119.7 L200.4,119.7 L200.6,119.7 L200.9,119.6 L201.1,119.6 L201.3,119.6 L201.5,119.6 L201.7,119.5 L201.9,119.5 L202.2,119.5 L202.4,119.5 L202.4,119.5 L202.6,119.5 L202.8,119.4 L203,119.4 L203.2,119.4 L203.5,119.4 L203.7,119.4 L203.9,119.4 L204.1,119.3 L204.2,119.3 L204.3,119.3 L204.5,119.3 L204.8,119.3 L205,119.3 L205.2,119.3 L205.4,119.3 L205.6,119.2 L205.8,119.2 L206,119.2 L206.3,119.2 L206.5,119.2 L206.7,119.2 L206.9,119.2 L207.1,119.2 L207.3,119.2 L207.6,119.2 L207.8,119.1 L207.8,119.1 L208,119.1 L208.2,119.1 L208.4,119.1 L208.6,119.1 L208.9,119.1 L209.1,119.1 L209.3,119.1 L209.5,119.1 L209.6,119.1 L209.7,119.1 L209.9,119.1 L210.2,119.1 L210.4,119.1 L210.6,119 L210.8,119 L211,119 L211.2,119 L211.4,119 L211.7,119 L211.9,119 L212.1,119 L212.3,119 L212.5,119 L212.7,119 L213,119 L213.2,119 L213.2,119 L213.4,119 L213.6,119 L213.8,119 L214,119 L214.3,119 L214.5,119 L214.7,119 L214.9,118.9 L215,118.9 L215.1,118.9 L215.3,118.9 L215.6,118.9 L215.8,118.9 L216,118.9 L216.2,118.9 L216.4,118.9 L216.6,118.9 L216.8,118.9 L217.1,118.9 L217.3,118.9 L217.5,118.9 L217.7,118.9 L217.9,118.9 L218.1,118.9 L218.4,118.9 L218.6,118.9 L218.6,118.9 L218.8,118.9 L219,118.9 L219.2,118.9 L219.4,118.9 L219.7,118.9 L219.9,118.9 L220.1,118.9 L220.3,118.9 L220.4,118.9 L220.5,118.9 L220.7,118.9 L221,118.9 L221.2,118.9 L221.4,118.9 L221.6,118.9 L221.8,118.9" fill="none" stroke="#a61cf4" stroke-width="3.5" stroke-linejoin="round" stroke-linecap="round"/>
<g fill="#a61cf4"><circle cx="40.4" cy="132.8" r="1.3"/><circle cx="44" cy="132.8" r="1.3"/><circle cx="47.6" cy="132.8" r="1.3"/><circle cx="51.2" cy="132.8" r="1.3"/><circle cx="54.8" cy="132.8" r="1.3"/><circle cx="58.4" cy="132.8" r="1.3"/><circle cx="62" cy="132.8" r="1.3"/><circle cx="65.6" cy="132.8" r="1.3"/><circle cx="69.2" cy="132.8" r="1.3"/><circle cx="72.8" cy="132.8" r="1.3"/><circle cx="76.4" cy="132.8" r="1.3"/><circle cx="80" cy="132.8" r="1.3"/><circle cx="83.6" cy="132.8" r="1.3"/><circle cx="87.2" cy="132.8" r="1.3"/><circle cx="90.8" cy="132.7" r="1.3"/><circle cx="94.4" cy="132.7" r="1.3"/><circle cx="98" cy="132.7" r="1.3"/><circle cx="101.6" cy="132.7" r="1.3"/><circle cx="105.2" cy="132.7" r="1.3"/><circle cx="108.8" cy="132.7" r="1.3"/><circle cx="112.4" cy="132.7" r="1.3"/><circle cx="116" cy="132.7" r="1.3"/><circle cx="119.6" cy="132.7" r="1.3"/><circle cx="123.2" cy="132.6" r="1.3"/><circle cx="126.8" cy="132.6" r="1.3"/><circle cx="130.4" cy="132.6" r="1.3"/><circle cx="134" cy="132.6" r="1.3"/><circle cx="137.6" cy="132.6" r="1.3"/><circle cx="141.2" cy="132.5" r="1.3"/><circle cx="144.8" cy="132.5" r="1.3"/><circle cx="148.4" cy="132.5" r="1.3"/><circle cx="220.4" cy="118.9" r="1.3"/><circle cx="224" cy="118.8" r="1.3"/><circle cx="227.6" cy="118.8" r="1.3"/><circle cx="231.2" cy="118.8" r="1.3"/><circle cx="234.8" cy="118.7" r="1.3"/><circle cx="238.4" cy="118.7" r="1.3"/><circle cx="242" cy="118.7" r="1.3"/><circle cx="245.6" cy="118.7" r="1.3"/><circle cx="249.2" cy="118.7" r="1.3"/><circle cx="252.8" cy="118.7" r="1.3"/><circle cx="256.4" cy="118.6" r="1.3"/><circle cx="260.1" cy="118.6" r="1.3"/><circle cx="263.6" cy="118.6" r="1.3"/><circle cx="267.2" cy="118.6" r="1.3"/><circle cx="270.9" cy="118.6" r="1.3"/><circle cx="274.4" cy="118.6" r="1.3"/><circle cx="278.1" cy="118.6" r="1.3"/><circle cx="281.6" cy="118.6" r="1.3"/><circle cx="285.2" cy="118.6" r="1.3"/><circle cx="288.9" cy="118.6" r="1.3"/><circle cx="292.4" cy="118.6" r="1.3"/><circle cx="296.1" cy="118.6" r="1.3"/><circle cx="299.6" cy="118.6" r="1.3"/><circle cx="303.2" cy="118.6" r="1.3"/><circle cx="306.9" cy="118.6" r="1.3"/><circle cx="310.4" cy="118.5" r="1.3"/><circle cx="314" cy="118.5" r="1.3"/><circle cx="317.6" cy="118.5" r="1.3"/><circle cx="321.2" cy="118.5" r="1.3"/><circle cx="324.9" cy="118.5" r="1.3"/><circle cx="328.4" cy="118.5" r="1.3"/></g>
<path d="M40.4,134.1 L42.2,134.1 L44,134.1 L45.8,134.1 L47.6,134.1 L49.4,134.1 L51.2,134.1 L53,134.1 L54.8,134.1 L56.6,134.1 L58.4,134.1 L60.2,134.1 L62,134.1 L63.8,134.1 L65.6,134.1 L67.4,134.1 L69.2,134.1 L71,134.1 L72.8,134.1 L74.6,134.1 L76.4,134.1 L78.2,134.1 L80,134.1 L81.8,134.1 L83.6,134.1 L85.4,134.1 L87.2,134.1 L89,134.1 L90.8,134.1 L92.6,134.1 L94.4,134.1 L96.2,134.1 L98,134.1 L99.8,134.1 L101.6,134.1 L103.4,134.1 L105.2,134.1 L107,134.1 L108.8,134.1 L110.6,134.1 L112.4,134.1 L114.2,134.1 L116,134.1 L117.8,134.1 L119.6,134.1 L121.4,134.1 L123.2,134 L125,134 L126.8,134 L128.6,134 L130.4,134 L132.2,134 L134,134 L135.8,134 L137.6,134 L139.4,134 L141.2,134 L141.5,134 L141.7,134 L141.9,134 L142.1,134 L142.3,134 L142.5,134 L142.8,134 L143,134 L143,134 L143.2,134 L143.4,134 L143.6,134 L143.8,134 L144.1,134 L144.3,134 L144.5,134 L144.7,134 L144.8,134 L144.9,134 L145.1,134 L145.4,134 L145.6,134 L145.8,134 L146,134 L146.2,134 L146.4,134 L146.6,134 L146.9,134 L147.1,134 L147.3,134 L147.5,134 L147.7,134 L147.9,134 L148.2,134 L148.4,134 L148.4,134 L148.6,134 L148.8,134 L149,134 L149.2,134 L149.5,134 L149.7,134 L149.9,134 L150.1,134 L150.2,134 L150.3,134 L150.5,134 L150.8,134 L151,134 L151.2,134 L151.4,133.9 L151.6,133.9 L151.8,133.9 L152,133.9 L152.3,133.9 L152.5,133.9 L152.7,133.9 L152.9,133.9 L153.1,133.9 L153.3,133.9 L153.6,133.9 L153.8,133.9 L153.8,133.9 L154,133.9 L154.2,133.9 L154.4,133.9 L154.6,133.9 L154.9,133.9 L155.1,133.9 L155.3,133.9 L155.5,133.9 L155.6,133.9 L155.7,133.9 L155.9,133.9 L156.2,133.9 L156.4,133.9 L156.6,133.8 L156.8,133.8 L157,133.8 L157.2,133.8 L157.4,133.8 L157.7,133.8 L157.9,133.8 L158.1,133.8 L158.3,133.8 L158.5,133.8 L158.7,133.8 L159,133.8 L159.2,133.8 L159.2,133.8 L159.4,133.8 L159.6,133.7 L159.8,133.7 L160,133.7 L160.3,133.7 L160.5,133.7 L160.7,133.7 L160.9,133.7 L161,133.7 L161.1,133.7 L161.3,133.7 L161.6,133.7 L161.8,133.6 L162,133.6 L162.2,133.6 L162.4,133.6 L162.6,133.6 L162.8,133.6 L163.1,133.6 L163.3,133.6 L163.5,133.5 L163.7,133.5 L163.9,133.5 L164.1,133.5 L164.4,133.5 L164.6,133.5 L164.6,133.5 L164.8,133.5 L165,133.4 L165.2,133.4 L165.4,133.4 L165.7,133.4 L165.9,133.4 L166.1,133.3 L166.3,133.3 L166.4,133.3 L166.5,133.3 L166.7,133.3 L167,133.3 L167.2,133.2 L167.4,133.2 L167.6,133.2 L167.8,133.2 L168,133.2 L168.2,133.1 L168.5,133.1 L168.7,133.1 L168.9,133.1 L169.1,133 L169.3,133 L169.5,133 L169.8,132.9 L170,132.9 L170,132.9 L170.2,132.9 L170.4,132.9 L170.6,132.8 L170.8,132.8 L171.1,132.8 L171.3,132.7 L171.5,132.7 L171.7,132.7 L171.8,132.6 L171.9,132.6 L172.1,132.6 L172.4,132.6 L172.6,132.5 L172.8,132.5 L173,132.5 L173.2,132.4 L173.4,132.4 L173.6,132.3 L173.9,132.3 L174.1,132.3 L174.3,132.2 L174.5,132.2 L174.7,132.1 L174.9,132.1 L175.2,132 L175.4,132 L175.4,132 L175.6,131.9 L175.8,131.9 L176,131.8 L176.2,131.8 L176.5,131.7 L176.7,131.7 L176.9,131.6 L177.1,131.6 L177.2,131.6 L177.3,131.5 L177.5,131.5 L177.8,131.4 L178,131.4 L178.2,131.3 L178.4,131.3 L178.6,131.2 L178.8,131.2 L179,131.1 L179.3,131 L179.5,131 L179.7,130.9 L179.9,130.9 L180.1,130.8 L180.3,130.7 L180.6,130.7 L180.8,130.6 L180.8,130.6 L181,130.5 L181.2,130.5 L181.4,130.4 L181.6,130.4 L181.9,130.3 L182.1,130.2 L182.3,130.2 L182.5,130.1 L182.6,130 L182.7,130 L182.9,129.9 L183.2,129.8 L183.4,129.7 L183.6,129.4 L183.8,129 L184,128.3 L184.2,127.1 L184.4,125.7 L184.7,124.2 L184.9,123 L185.1,122.3 L185.3,121.8 L185.5,121.6 L185.7,121.4 L186,121.3 L186.2,121.2 L186.2,121.2 L186.4,121.1 L186.6,121.1 L186.8,121 L187,120.9 L187.3,120.8 L187.5,120.8 L187.7,120.7 L187.9,120.7 L188,120.6 L188.1,120.6 L188.3,120.5 L188.6,120.5 L188.8,120.4 L189,120.3 L189.2,120.3 L189.4,120.2 L189.6,120.1 L189.8,120.1 L190.1,120 L190.3,120 L190.5,119.9 L190.7,119.8 L190.9,119.8 L191.1,119.7 L191.4,119.7 L191.6,119.6 L191.6,119.6 L191.8,119.6 L192,119.5 L192.2,119.5 L192.4,119.4 L192.7,119.4 L192.9,119.3 L193.1,119.3 L193.3,119.2 L193.4,119.2 L193.5,119.2 L193.7,119.1 L194,119.1 L194.2,119 L194.4,119 L194.6,118.9 L194.8,118.9 L195,118.8 L195.2,118.8 L195.5,118.7 L195.7,118.7 L195.9,118.7 L196.1,118.6 L196.3,118.6 L196.5,118.6 L196.8,118.5 L197,118.5 L197,118.5 L197.2,118.4 L197.4,118.4 L197.6,118.4 L197.8,118.3 L198.1,118.3 L198.3,118.3 L198.5,118.2 L198.7,118.2 L198.8,118.2 L198.9,118.2 L199.1,118.1 L199.4,118.1 L199.6,118.1 L199.8,118.1 L200,118 L200.2,118 L200.4,118 L200.6,118 L200.9,117.9 L201.1,117.9 L201.3,117.9 L201.5,117.9 L201.7,117.8 L201.9,117.8 L202.2,117.8 L202.4,117.8 L202.4,117.8 L202.6,117.8 L202.8,117.7 L203,117.7 L203.2,117.7 L203.5,117.7 L203.7,117.7 L203.9,117.6 L204.1,117.6 L204.2,117.6 L204.3,117.6 L204.5,117.6 L204.8,117.6 L205,117.6 L205.2,117.5 L205.4,117.5 L205.6,117.5 L205.8,117.5 L206,117.5 L206.3,117.5 L206.5,117.5 L206.7,117.4 L206.9,117.4 L207.1,117.4 L207.3,117.4 L207.6,117.4 L207.8,117.4 L207.8,117.4 L208,117.4 L208.2,117.4 L208.4,117.4 L208.6,117.3 L208.9,117.3 L209.1,117.3 L209.3,117.3 L209.5,117.3 L209.6,117.3 L209.7,117.3 L209.9,117.3 L210.2,117.3 L210.4,117.3 L210.6,117.3 L210.8,117.3 L211,117.3 L211.2,117.2 L211.4,117.2 L211.7,117.2 L211.9,117.2 L212.1,117.2 L212.3,117.2 L212.5,117.2 L212.7,117.2 L213,117.2 L213.2,117.2 L213.2,117.2 L213.4,117.2 L213.6,117.2 L213.8,117.2 L214,117.2 L214.3,117.2 L214.5,117.2 L214.7,117.2 L214.9,117.2 L215,117.2 L215.1,117.1 L215.3,117.1 L215.6,117.1 L215.8,117.1 L216,117.1 L216.2,117.1 L216.4,117.1 L216.6,117.1 L216.8,117.1 L217.1,117.1 L217.3,117.1 L217.5,117.1 L217.7,117.1 L217.9,117.1 L218.1,117.1 L218.4,117.1 L218.6,117.1 L218.6,117.1 L218.8,117.1 L219,117.1 L219.2,117.1 L219.4,117.1 L219.7,117.1 L219.9,117.1 L220.1,117.1 L220.3,117.1 L220.4,117.1 L220.5,117.1 L220.7,117.1 L221,117.1 L221.2,117.1 L221.4,117.1 L221.6,117.1 L221.8,117.1 L222,117.1 L222.2,117.1 L222.5,117.1 L222.7,117.1 L222.9,117.1 L223.1,117.1 L223.3,117 L223.5,117 L223.8,117 L224,117 L224,117 L224.2,117 L224.4,117 L224.6,117 L224.8,117 L225.1,117 L225.3,117 L225.5,117 L225.7,117 L225.8,117 L225.9,117 L226.1,117 L226.4,117 L226.6,117 L226.8,117 L227,117 L227.2,117 L227.4,117 L227.6,117 L229.4,117 L231.2,117 L233,117 L234.8,117 L236.6,117 L238.4,117 L240.2,117 L242,117 L243.8,117 L245.6,117 L247.4,117 L249.2,117 L251.1,117 L252.8,117 L254.6,117 L256.4,117 L258.2,117 L260.1,117 L261.9,117 L263.6,117 L265.4,117 L267.2,117 L269.1,117 L270.9,117 L272.6,117 L274.4,117 L276.2,117 L278.1,117 L279.9,117 L281.6,117 L283.4,117 L285.2,117 L287.1,117 L288.9,117 L290.6,117 L292.4,117 L294.2,117 L296.1,117 L297.9,117 L299.6,117 L301.4,117 L303.2,117 L305.1,117 L306.9,117 L308.6,117 L310.4,117 L312.2,117 L314,117 L315.9,117 L317.6,117 L319.4,117 L321.2,117 L323,117 L324.9,117 L326.6,117 L328.4,117" fill="none" stroke="#2f8a18" stroke-width="2.0" stroke-linejoin="round" stroke-linecap="round"/>
<path d="M147.1,134 L147.3,134 L147.5,134 L147.7,134 L147.9,134 L148.2,134 L148.4,134 L148.4,134 L148.6,134 L148.8,134 L149,134 L149.2,134 L149.5,134 L149.7,134 L149.9,134 L150.1,134 L150.2,134 L150.3,134 L150.5,134 L150.8,134 L151,134 L151.2,134 L151.4,133.9 L151.6,133.9 L151.8,133.9 L152,133.9 L152.3,133.9 L152.5,133.9 L152.7,133.9 L152.9,133.9 L153.1,133.9 L153.3,133.9 L153.6,133.9 L153.8,133.9 L153.8,133.9 L154,133.9 L154.2,133.9 L154.4,133.9 L154.6,133.9 L154.9,133.9 L155.1,133.9 L155.3,133.9 L155.5,133.9 L155.6,133.9 L155.7,133.9 L155.9,133.9 L156.2,133.9 L156.4,133.9 L156.6,133.8 L156.8,133.8 L157,133.8 L157.2,133.8 L157.4,133.8 L157.7,133.8 L157.9,133.8 L158.1,133.8 L158.3,133.8 L158.5,133.8 L158.7,133.8 L159,133.8 L159.2,133.8 L159.2,133.8 L159.4,133.8 L159.6,133.7 L159.8,133.7 L160,133.7 L160.3,133.7 L160.5,133.7 L160.7,133.7 L160.9,133.7 L161,133.7 L161.1,133.7 L161.3,133.7 L161.6,133.7 L161.8,133.6 L162,133.6 L162.2,133.6 L162.4,133.6 L162.6,133.6 L162.8,133.6 L163.1,133.6 L163.3,133.6 L163.5,133.5 L163.7,133.5 L163.9,133.5 L164.1,133.5 L164.4,133.5 L164.6,133.5 L164.6,133.5 L164.8,133.5 L165,133.4 L165.2,133.4 L165.4,133.4 L165.7,133.4 L165.9,133.4 L166.1,133.3 L166.3,133.3 L166.4,133.3 L166.5,133.3 L166.7,133.3 L167,133.3 L167.2,133.2 L167.4,133.2 L167.6,133.2 L167.8,133.2 L168,133.2 L168.2,133.1 L168.5,133.1 L168.7,133.1 L168.9,133.1 L169.1,133 L169.3,133 L169.5,133 L169.8,132.9 L170,132.9 L170,132.9 L170.2,132.9 L170.4,132.9 L170.6,132.8 L170.8,132.8 L171.1,132.8 L171.3,132.7 L171.5,132.7 L171.7,132.7 L171.8,132.6 L171.9,132.6 L172.1,132.6 L172.4,132.6 L172.6,132.5 L172.8,132.5 L173,132.5 L173.2,132.4 L173.4,132.4 L173.6,132.3 L173.9,132.3 L174.1,132.3 L174.3,132.2 L174.5,132.2 L174.7,132.1 L174.9,132.1 L175.2,132 L175.4,132 L175.4,132 L175.6,131.9 L175.8,131.9 L176,131.8 L176.2,131.8 L176.5,131.7 L176.7,131.7 L176.9,131.6 L177.1,131.6 L177.2,131.6 L177.3,131.5 L177.5,131.5 L177.8,131.4 L178,131.4 L178.2,131.3 L178.4,131.3 L178.6,131.2 L178.8,131.2 L179,131.1 L179.3,131 L179.5,131 L179.7,130.9 L179.9,130.9 L180.1,130.8 L180.3,130.7 L180.6,130.7 L180.8,130.6 L180.8,130.6 L181,130.5 L181.2,130.5 L181.4,130.4 L181.6,130.4 L181.9,130.3 L182.1,130.2 L182.3,130.2 L182.5,130.1 L182.6,130 L182.7,130 L182.9,129.9 L183.2,129.8 L183.4,129.7 L183.6,129.4 L183.8,129 L184,128.3 L184.2,127.1 L184.4,125.7 L184.7,124.2 L184.9,123 L185.1,122.3 L185.3,121.8 L185.5,121.6 L185.7,121.4 L186,121.3 L186.2,121.2 L186.2,121.2 L186.4,121.1 L186.6,121.1 L186.8,121 L187,120.9 L187.3,120.8 L187.5,120.8 L187.7,120.7 L187.9,120.7 L188,120.6 L188.1,120.6 L188.3,120.5 L188.6,120.5 L188.8,120.4 L189,120.3 L189.2,120.3 L189.4,120.2 L189.6,120.1 L189.8,120.1 L190.1,120 L190.3,120 L190.5,119.9 L190.7,119.8 L190.9,119.8 L191.1,119.7 L191.4,119.7 L191.6,119.6 L191.6,119.6 L191.8,119.6 L192,119.5 L192.2,119.5 L192.4,119.4 L192.7,119.4 L192.9,119.3 L193.1,119.3 L193.3,119.2 L193.4,119.2 L193.5,119.2 L193.7,119.1 L194,119.1 L194.2,119 L194.4,119 L194.6,118.9 L194.8,118.9 L195,118.8 L195.2,118.8 L195.5,118.7 L195.7,118.7 L195.9,118.7 L196.1,118.6 L196.3,118.6 L196.5,118.6 L196.8,118.5 L197,118.5 L197,118.5 L197.2,118.4 L197.4,118.4 L197.6,118.4 L197.8,118.3 L198.1,118.3 L198.3,118.3 L198.5,118.2 L198.7,118.2 L198.8,118.2 L198.9,118.2 L199.1,118.1 L199.4,118.1 L199.6,118.1 L199.8,118.1 L200,118 L200.2,118 L200.4,118 L200.6,118 L200.9,117.9 L201.1,117.9 L201.3,117.9 L201.5,117.9 L201.7,117.8 L201.9,117.8 L202.2,117.8 L202.4,117.8 L202.4,117.8 L202.6,117.8 L202.8,117.7 L203,117.7 L203.2,117.7 L203.5,117.7 L203.7,117.7 L203.9,117.6 L204.1,117.6 L204.2,117.6 L204.3,117.6 L204.5,117.6 L204.8,117.6 L205,117.6 L205.2,117.5 L205.4,117.5 L205.6,117.5 L205.8,117.5 L206,117.5 L206.3,117.5 L206.5,117.5 L206.7,117.4 L206.9,117.4 L207.1,117.4 L207.3,117.4 L207.6,117.4 L207.8,117.4 L207.8,117.4 L208,117.4 L208.2,117.4 L208.4,117.4 L208.6,117.3 L208.9,117.3 L209.1,117.3 L209.3,117.3 L209.5,117.3 L209.6,117.3 L209.7,117.3 L209.9,117.3 L210.2,117.3 L210.4,117.3 L210.6,117.3 L210.8,117.3 L211,117.3 L211.2,117.2 L211.4,117.2 L211.7,117.2 L211.9,117.2 L212.1,117.2 L212.3,117.2 L212.5,117.2 L212.7,117.2 L213,117.2 L213.2,117.2 L213.2,117.2 L213.4,117.2 L213.6,117.2 L213.8,117.2 L214,117.2 L214.3,117.2 L214.5,117.2 L214.7,117.2 L214.9,117.2 L215,117.2 L215.1,117.1 L215.3,117.1 L215.6,117.1 L215.8,117.1 L216,117.1 L216.2,117.1 L216.4,117.1 L216.6,117.1 L216.8,117.1 L217.1,117.1 L217.3,117.1 L217.5,117.1 L217.7,117.1 L217.9,117.1 L218.1,117.1 L218.4,117.1 L218.6,117.1 L218.6,117.1 L218.8,117.1 L219,117.1 L219.2,117.1 L219.4,117.1 L219.7,117.1 L219.9,117.1 L220.1,117.1 L220.3,117.1 L220.4,117.1 L220.5,117.1 L220.7,117.1 L221,117.1 L221.2,117.1 L221.4,117.1 L221.6,117.1 L221.8,117.1" fill="none" stroke="#2f8a18" stroke-width="3.5" stroke-linejoin="round" stroke-linecap="round"/>
<g fill="#2f8a18"><circle cx="40.4" cy="134.1" r="1.9"/><circle cx="54.8" cy="134.1" r="1.9"/><circle cx="69.2" cy="134.1" r="1.9"/><circle cx="83.6" cy="134.1" r="1.9"/><circle cx="98" cy="134.1" r="1.9"/><circle cx="112.4" cy="134.1" r="1.9"/><circle cx="126.8" cy="134" r="1.9"/><circle cx="141.2" cy="134" r="1.9"/><circle cx="227.6" cy="117" r="1.9"/><circle cx="242" cy="117" r="1.9"/><circle cx="256.4" cy="117" r="1.9"/><circle cx="270.9" cy="117" r="1.9"/><circle cx="285.2" cy="117" r="1.9"/><circle cx="299.6" cy="117" r="1.9"/><circle cx="314" cy="117" r="1.9"/><circle cx="328.4" cy="117" r="1.9"/></g>
<rect x="40.6" y="4.7" width="287.7" height="232.1" fill="none" stroke="#000" stroke-width="1.4"/>
<line x1="112.4" y1="236.8" x2="112.4" y2="231.8" stroke="#000" stroke-width="1.2"/>
<line x1="112.4" y1="4.7" x2="112.4" y2="9.7" stroke="#000" stroke-width="1.2"/>
<line x1="184.4" y1="236.8" x2="184.4" y2="231.8" stroke="#000" stroke-width="1.2"/>
<line x1="184.4" y1="4.7" x2="184.4" y2="9.7" stroke="#000" stroke-width="1.2"/>
<line x1="256.4" y1="236.8" x2="256.4" y2="231.8" stroke="#000" stroke-width="1.2"/>
<line x1="256.4" y1="4.7" x2="256.4" y2="9.7" stroke="#000" stroke-width="1.2"/>
<line x1="76.4" y1="236.8" x2="76.4" y2="234.3" stroke="#000" stroke-width="1.2"/>
<line x1="76.4" y1="4.7" x2="76.4" y2="7.2" stroke="#000" stroke-width="1.2"/>
<line x1="148.4" y1="236.8" x2="148.4" y2="234.3" stroke="#000" stroke-width="1.2"/>
<line x1="148.4" y1="4.7" x2="148.4" y2="7.2" stroke="#000" stroke-width="1.2"/>
<line x1="220.4" y1="236.8" x2="220.4" y2="234.3" stroke="#000" stroke-width="1.2"/>
<line x1="220.4" y1="4.7" x2="220.4" y2="7.2" stroke="#000" stroke-width="1.2"/>
<line x1="292.4" y1="236.8" x2="292.4" y2="234.3" stroke="#000" stroke-width="1.2"/>
<line x1="292.4" y1="4.7" x2="292.4" y2="7.2" stroke="#000" stroke-width="1.2"/>
<line x1="40.6" y1="230.1" x2="45.6" y2="230.1" stroke="#000" stroke-width="1.2"/>
<line x1="328.3" y1="230.1" x2="323.3" y2="230.1" stroke="#000" stroke-width="1.2"/>
<line x1="40.6" y1="195.3" x2="45.6" y2="195.3" stroke="#000" stroke-width="1.2"/>
<line x1="328.3" y1="195.3" x2="323.3" y2="195.3" stroke="#000" stroke-width="1.2"/>
<line x1="40.6" y1="160.5" x2="45.6" y2="160.5" stroke="#000" stroke-width="1.2"/>
<line x1="328.3" y1="160.5" x2="323.3" y2="160.5" stroke="#000" stroke-width="1.2"/>
<line x1="40.6" y1="125.7" x2="45.6" y2="125.7" stroke="#000" stroke-width="1.2"/>
<line x1="328.3" y1="125.7" x2="323.3" y2="125.7" stroke="#000" stroke-width="1.2"/>
<line x1="40.6" y1="90.9" x2="45.6" y2="90.9" stroke="#000" stroke-width="1.2"/>
<line x1="328.3" y1="90.9" x2="323.3" y2="90.9" stroke="#000" stroke-width="1.2"/>
<line x1="40.6" y1="56.1" x2="45.6" y2="56.1" stroke="#000" stroke-width="1.2"/>
<line x1="328.3" y1="56.1" x2="323.3" y2="56.1" stroke="#000" stroke-width="1.2"/>
<line x1="40.6" y1="21.3" x2="45.6" y2="21.3" stroke="#000" stroke-width="1.2"/>
<line x1="328.3" y1="21.3" x2="323.3" y2="21.3" stroke="#000" stroke-width="1.2"/>
<line x1="40.6" y1="212.7" x2="43.1" y2="212.7" stroke="#000" stroke-width="1.2"/>
<line x1="328.3" y1="212.7" x2="325.8" y2="212.7" stroke="#000" stroke-width="1.2"/>
<line x1="40.6" y1="177.9" x2="43.1" y2="177.9" stroke="#000" stroke-width="1.2"/>
<line x1="328.3" y1="177.9" x2="325.8" y2="177.9" stroke="#000" stroke-width="1.2"/>
<line x1="40.6" y1="143.1" x2="43.1" y2="143.1" stroke="#000" stroke-width="1.2"/>
<line x1="328.3" y1="143.1" x2="325.8" y2="143.1" stroke="#000" stroke-width="1.2"/>
<line x1="40.6" y1="108.3" x2="43.1" y2="108.3" stroke="#000" stroke-width="1.2"/>
<line x1="328.3" y1="108.3" x2="325.8" y2="108.3" stroke="#000" stroke-width="1.2"/>
<line x1="40.6" y1="73.5" x2="43.1" y2="73.5" stroke="#000" stroke-width="1.2"/>
<line x1="328.3" y1="73.5" x2="325.8" y2="73.5" stroke="#000" stroke-width="1.2"/>
<line x1="40.6" y1="38.7" x2="43.1" y2="38.7" stroke="#000" stroke-width="1.2"/>
<line x1="328.3" y1="38.7" x2="325.8" y2="38.7" stroke="#000" stroke-width="1.2"/>
<text x="40.4" y="249.7" font-size="12" text-anchor="middle">-20</text>
<text x="112.4" y="249.7" font-size="12" text-anchor="middle">-10</text>
<text x="184.4" y="249.7" font-size="12" text-anchor="middle">0</text>
<text x="256.4" y="249.7" font-size="12" text-anchor="middle">10</text>
<text x="328.4" y="249.7" font-size="12" text-anchor="middle">20</text>
<text x="36.8" y="234.3" font-size="12" text-anchor="end">-300</text>
<text x="36.8" y="199.5" font-size="12" text-anchor="end">-200</text>
<text x="36.8" y="164.7" font-size="12" text-anchor="end">-100</text>
<text x="36.8" y="129.9" font-size="12" text-anchor="end">0</text>
<text x="36.8" y="95.1" font-size="12" text-anchor="end">100</text>
<text x="36.8" y="60.3" font-size="12" text-anchor="end">200</text>
<text x="36.8" y="25.5" font-size="12" text-anchor="end">300</text>
<text x="163.4" y="261.6" font-size="12"><tspan font-style="italic">H</tspan> (<tspan font-style="italic">k</tspan>Oe)</text>
<text x="12.7" y="119.5" font-size="12" text-anchor="middle" transform="rotate(-90 12.7 119.5)"><tspan font-style="italic">M</tspan> (emu/cm<tspan font-size="8" dy="-5">3</tspan><tspan dy="5">)</tspan></text>
<line x1="48.8" y1="17.4" x2="75" y2="17.4" stroke="#ff0000" stroke-width="1.1"/>
<circle cx="61.9" cy="17.4" r="1.5" fill="#ff0000"/>
<text x="78.2" y="21.7" font-size="12" fill="#ff0000"><tspan font-style="italic">n</tspan>=1(S1)</text>
<line x1="48.8" y1="31.8" x2="75" y2="31.8" stroke="#0000ff" stroke-width="1.1"/>
<circle cx="61.9" cy="31.8" r="1.5" fill="#0000ff"/>
<text x="78.2" y="36.1" font-size="12" fill="#0000ff"><tspan font-style="italic">n</tspan>=1(S2)</text>
<line x1="48.8" y1="46.3" x2="75" y2="46.3" stroke="#f27a1a" stroke-width="1.1"/>
<circle cx="61.9" cy="46.3" r="1.5" fill="#f27a1a"/>
<text x="78.2" y="50.6" font-size="12" fill="#f27a1a"><tspan font-style="italic">n</tspan>=2</text>
<line x1="48.8" y1="60.7" x2="75" y2="60.7" stroke="#80ffff" stroke-width="1.1"/>
<circle cx="61.9" cy="60.7" r="1.5" fill="#80ffff"/>
<text x="78.2" y="65" font-size="12" fill="#80ffff"><tspan font-style="italic">n</tspan>=3</text>
<line x1="48.8" y1="75.2" x2="75" y2="75.2" stroke="#40ff00" stroke-width="1.1"/>
<circle cx="61.9" cy="75.2" r="1.5" fill="#40ff00"/>
<text x="78.2" y="79.5" font-size="12" fill="#40ff00"><tspan font-style="italic">n</tspan>=4</text>
<line x1="48.8" y1="89.7" x2="75" y2="89.7" stroke="#a61cf4" stroke-width="1.1"/>
<circle cx="61.9" cy="89.7" r="1.5" fill="#a61cf4"/>
<text x="78.2" y="94" font-size="12" fill="#a61cf4"><tspan font-style="italic">n</tspan>=5</text>
<line x1="48.8" y1="104.1" x2="75" y2="104.1" stroke="#2f8a18" stroke-width="1.1"/>
<circle cx="61.9" cy="104.1" r="1.5" fill="#2f8a18"/>
<text x="78.2" y="108.4" font-size="12" fill="#222">LaFe<tspan font-size="7.6" dy="3">0.5</tspan><tspan dy="-3">Ni</tspan><tspan font-size="7.6" dy="3">0.5</tspan><tspan dy="-3">O</tspan><tspan font-size="7.6" dy="3">3</tspan></text>
<text x="157.6" y="22.2" font-size="12" font-weight="bold">LNO<tspan font-size="7" dy="2">n</tspan><tspan dy="-2">/LFO</tspan><tspan font-size="7" dy="2.5">1</tspan></text>
<text x="295.1" y="25.9" font-size="13.5">(a)</text>
<text x="266.4" y="222.5" font-size="11.6"><tspan font-style="italic">T</tspan>=300 K</text>
<path d="M678.8,106 L675.2,106.1 L671.6,106.3 L668,106.4 L664.4,106.6 L660.8,106.7 L657.2,106.9 L653.6,107 L650,107.2 L646.4,107.3 L642.8,107.5 L639.2,107.6 L635.6,107.7 L632,107.9 L628.4,108 L624.8,108.2 L621.2,108.3 L617.6,108.5 L614,108.6 L610.4,108.8 L606.8,108.9 L603.2,109.1 L599.6,109.2 L596,109.4 L592.4,109.5 L592.1,109.5 L591.8,109.6 L591.5,109.6 L591.2,109.6 L591,109.6 L590.7,109.6 L590.4,109.6 L590.1,109.6 L589.8,109.6 L589.5,109.7 L589.2,109.7 L588.9,109.7 L588.8,109.7 L588.7,109.7 L588.4,109.7 L588.1,109.7 L587.8,109.7 L587.5,109.7 L587.2,109.8 L586.9,109.8 L586.6,109.8 L586.4,109.8 L586.1,109.8 L585.8,109.8 L585.5,109.8 L585.2,109.9 L584.9,109.9 L584.6,109.9 L584.3,109.9 L584,109.9 L583.8,109.9 L583.5,109.9 L583.2,110 L582.9,110 L582.6,110 L582.3,110 L582,110 L581.7,110 L581.6,110 L581.5,110 L581.2,110.1 L580.9,110.1 L580.6,110.1 L580.3,110.1 L580,110.1 L579.7,110.1 L579.4,110.2 L579.2,110.2 L578.9,110.2 L578.6,110.2 L578.3,110.2 L578,110.2 L577.7,110.2 L577.4,110.3 L577.1,110.3 L576.8,110.3 L576.6,110.3 L576.3,110.3 L576,110.3 L575.7,110.4 L575.4,110.4 L575.1,110.4 L574.8,110.4 L574.5,110.4 L574.4,110.4 L574.3,110.5 L574,110.5 L573.7,110.5 L573.4,110.5 L573.1,110.5 L572.8,110.5 L572.5,110.6 L572.2,110.6 L572,110.6 L571.7,110.6 L571.4,110.6 L571.1,110.7 L570.8,110.7 L570.5,110.7 L570.2,110.7 L569.9,110.7 L569.6,110.8 L569.4,110.8 L569.1,110.8 L568.8,110.8 L568.5,110.9 L568.2,110.9 L567.9,110.9 L567.6,110.9 L567.3,110.9 L567.2,111 L567.1,111 L566.8,111 L566.5,111 L566.2,111 L565.9,111.1 L565.6,111.1 L565.3,111.1 L565,111.1 L564.8,111.2 L564.5,111.2 L564.2,111.2 L563.9,111.3 L563.6,111.3 L563.3,111.3 L563,111.3 L562.7,111.4 L562.4,111.4 L562.2,111.4 L561.9,111.5 L561.6,111.5 L561.3,111.5 L561,111.5 L560.7,111.6 L560.4,111.6 L560.1,111.6 L560,111.7 L559.9,111.7 L559.6,111.7 L559.3,111.8 L559,111.8 L558.7,111.8 L558.4,111.9 L558.1,111.9 L557.8,111.9 L557.6,112 L557.3,112 L557,112.1 L556.7,112.1 L556.4,112.1 L556.1,112.2 L555.8,112.2 L555.5,112.3 L555.2,112.3 L555,112.3 L554.7,112.4 L554.4,112.4 L554.1,112.5 L553.8,112.5 L553.5,112.6 L553.2,112.6 L552.9,112.7 L552.8,112.7 L552.7,112.7 L552.4,112.8 L552.1,112.8 L551.8,112.9 L551.5,112.9 L551.2,113 L550.9,113.1 L550.6,113.1 L550.4,113.2 L550.1,113.2 L549.8,113.3 L549.5,113.4 L549.2,113.4 L548.9,113.5 L548.6,113.5 L548.3,113.6 L548,113.7 L547.8,113.7 L547.5,113.8 L547.2,113.9 L546.9,114 L546.6,114 L546.3,114.1 L546,114.2 L545.7,114.2 L545.6,114.3 L545.5,114.3 L545.2,114.4 L544.9,114.5 L544.6,114.6 L544.3,114.6 L544,114.7 L543.7,114.8 L543.4,114.9 L543.2,115 L542.9,115.1 L542.6,115.2 L542.3,115.2 L542,115.3 L541.7,115.4 L541.4,115.5 L541.1,115.6 L540.8,115.7 L540.6,115.8 L540.3,115.9 L540,116 L539.7,116.1 L539.4,116.2 L539.1,116.3 L538.8,116.4 L538.5,116.5 L538.4,116.6 L538.3,116.6 L538,116.7 L537.7,116.8 L537.4,116.9 L537.1,117.1 L536.8,117.2 L536.5,117.3 L536.2,117.4 L536,117.5 L535.7,117.6 L535.4,117.7 L535.1,117.8 L534.8,118 L534.5,118.1 L534.2,118.2 L533.9,118.3 L533.6,118.4 L533.4,118.6 L533.1,118.7 L532.8,118.8 L532.5,118.9 L532.2,119.1 L531.9,119.2 L531.6,119.3 L531.3,119.4 L531.2,119.5 L531.1,119.6 L530.8,119.7 L530.5,119.8 L530.2,119.9 L529.9,120.1 L529.6,120.2 L529.3,120.3 L529,120.4 L528.8,120.6 L528.5,120.7 L528.2,120.8 L527.9,121 L527.6,121.1 L527.3,121.2 L527,121.3 L526.7,121.5 L526.4,121.6 L526.2,121.7 L525.9,121.8 L525.6,122 L525.3,122.1 L525,122.2 L524.7,122.3 L524.4,122.5 L524.1,122.6 L524,122.7 L523.9,122.7 L523.6,122.8 L523.3,123 L523,123.1 L522.7,123.2 L522.4,123.3 L522.1,123.4 L521.8,123.6 L521.6,123.7 L521.3,123.8 L521,123.9 L520.7,124 L520.4,124.1 L520.1,124.2 L519.8,124.4 L519.5,124.5 L519.2,124.6 L519,124.7 L518.7,124.8 L518.4,124.9 L518.1,125 L517.8,125.1 L517.5,125.2 L517.2,125.3 L516.9,125.4 L516.8,125.5 L516.7,125.5 L516.4,125.6 L516.1,125.7 L515.8,125.8 L515.5,125.9 L515.2,126 L514.9,126.1 L514.6,126.2 L514.4,126.3 L514.1,126.4 L513.8,126.5 L513.5,126.5 L513.2,126.6 L512.9,126.7 L512.6,126.8 L512.3,126.9 L512,127 L511.8,127 L511.5,127.1 L511.2,127.2 L510.9,127.3 L510.6,127.3 L510.3,127.4 L510,127.5 L509.7,127.6 L509.6,127.6 L509.5,127.6 L509.2,127.7 L508.9,127.8 L508.6,127.8 L508.3,127.9 L508,128 L507.7,128 L507.4,128.1 L507.2,128.2 L506.9,128.2 L506.6,128.3 L506.3,128.3 L506,128.4 L505.7,128.5 L505.4,128.5 L505.1,128.6 L504.8,128.6 L504.6,128.7 L504.3,128.7 L504,128.8 L503.7,128.8 L503.4,128.9 L503.1,128.9 L502.8,129 L502.5,129 L502.4,129.1 L502.3,129.1 L502,129.1 L501.7,129.2 L501.4,129.2 L501.1,129.3 L500.8,129.3 L500.5,129.3 L500.2,129.4 L500,129.4 L499.7,129.5 L499.4,129.5 L499.1,129.5 L498.8,129.6 L498.5,129.6 L498.2,129.7 L497.9,129.7 L497.6,129.7 L497.4,129.8 L497.1,129.8 L496.8,129.8 L496.5,129.9 L496.2,129.9 L495.9,129.9 L495.6,130 L495.3,130 L495.2,130 L495.1,130 L494.8,130.1 L494.5,130.1 L494.2,130.1 L493.9,130.2 L493.6,130.2 L493.3,130.2 L493,130.2 L492.8,130.3 L492.5,130.3 L492.2,130.3 L491.9,130.4 L491.6,130.4 L491.3,130.4 L491,130.4 L490.7,130.5 L490.4,130.5 L490.2,130.5 L489.9,130.5 L489.6,130.6 L489.3,130.6 L489,130.6 L488.7,130.6 L488.4,130.6 L488.1,130.7 L488,130.7 L487.9,130.7 L487.6,130.7 L487.3,130.7 L487,130.8 L486.7,130.8 L486.4,130.8 L486.1,130.8 L485.8,130.8 L485.6,130.9 L485.3,130.9 L485,130.9 L484.7,130.9 L484.4,130.9 L484.1,131 L483.8,131 L483.5,131 L483.2,131 L483,131 L482.7,131 L482.4,131.1 L482.1,131.1 L481.8,131.1 L481.5,131.1 L481.2,131.1 L480.9,131.2 L480.8,131.2 L480.7,131.2 L480.4,131.2 L480.1,131.2 L479.8,131.2 L479.5,131.2 L479.2,131.3 L478.9,131.3 L478.6,131.3 L478.4,131.3 L478.1,131.3 L477.8,131.3 L477.5,131.4 L477.2,131.4 L473.6,131.6 L470,131.7 L466.4,131.9 L462.8,132.1 L459.2,132.2 L455.6,132.4 L452,132.5 L448.4,132.7 L444.8,132.8 L441.2,133 L437.6,133.1 L434,133.3 L430.4,133.4 L426.8,133.5 L423.2,133.7 L419.6,133.8 L416,134 L412.4,134.1 L408.8,134.3 L405.2,134.4 L401.6,134.6 L398,134.7 L394.4,134.9 L390.8,135" fill="none" stroke="#2f8a18" stroke-width="1.5" stroke-linejoin="round" stroke-linecap="round"/>
<g fill="#2f8a18"><path d="M678.8,103.8l2,3.6h-4z"/><path d="M671.6,104.1l2,3.6h-4z"/><path d="M664.4,104.4l2,3.6h-4z"/><path d="M657.2,104.7l2,3.6h-4z"/><path d="M650,105l2,3.6h-4z"/><path d="M642.8,105.3l2,3.6h-4z"/><path d="M635.6,105.6l2,3.6h-4z"/><path d="M628.4,105.9l2,3.6h-4z"/><path d="M621.2,106.2l2,3.6h-4z"/><path d="M614,106.5l2,3.6h-4z"/><path d="M606.8,106.8l2,3.6h-4z"/><path d="M599.6,107.1l2,3.6h-4z"/><path d="M592.4,107.4l2,3.6h-4z"/><path d="M589.5,107.5l2,3.6h-4z"/><path d="M586.6,107.6l2,3.6h-4z"/><path d="M585.2,107.7l2,3.6h-4z"/><path d="M583.8,107.8l2,3.6h-4z"/><path d="M580.9,107.9l2,3.6h-4z"/><path d="M578,108.1l2,3.6h-4z"/><path d="M575.1,108.2l2,3.6h-4z"/><path d="M572.2,108.4l2,3.6h-4z"/><path d="M570.8,108.5l2,3.6h-4z"/><path d="M569.4,108.6l2,3.6h-4z"/><path d="M566.5,108.9l2,3.6h-4z"/><path d="M563.6,109.1l2,3.6h-4z"/><path d="M560.7,109.4l2,3.6h-4z"/><path d="M557.8,109.8l2,3.6h-4z"/><path d="M556.4,110l2,3.6h-4z"/><path d="M555,110.2l2,3.6h-4z"/><path d="M552.1,110.7l2,3.6h-4z"/><path d="M549.2,111.3l2,3.6h-4z"/><path d="M546.3,111.9l2,3.6h-4z"/><path d="M543.4,112.7l2,3.6h-4z"/><path d="M542,113.2l2,3.6h-4z"/><path d="M540.6,113.6l2,3.6h-4z"/><path d="M537.7,114.7l2,3.6h-4z"/><path d="M534.8,115.8l2,3.6h-4z"/><path d="M531.9,117l2,3.6h-4z"/><path d="M529,118.3l2,3.6h-4z"/><path d="M527.6,118.9l2,3.6h-4z"/><path d="M526.2,119.6l2,3.6h-4z"/><path d="M523.3,120.8l2,3.6h-4z"/><path d="M520.4,122l2,3.6h-4z"/><path d="M517.5,123.1l2,3.6h-4z"/><path d="M514.6,124l2,3.6h-4z"/><path d="M513.2,124.5l2,3.6h-4z"/><path d="M511.8,124.9l2,3.6h-4z"/><path d="M508.9,125.6l2,3.6h-4z"/><path d="M506,126.2l2,3.6h-4z"/><path d="M503.1,126.8l2,3.6h-4z"/><path d="M500.2,127.2l2,3.6h-4z"/><path d="M498.8,127.4l2,3.6h-4z"/><path d="M497.4,127.6l2,3.6h-4z"/><path d="M494.5,127.9l2,3.6h-4z"/><path d="M491.6,128.2l2,3.6h-4z"/><path d="M488.7,128.5l2,3.6h-4z"/><path d="M485.8,128.7l2,3.6h-4z"/><path d="M484.4,128.8l2,3.6h-4z"/><path d="M483,128.9l2,3.6h-4z"/><path d="M480.1,129l2,3.6h-4z"/><path d="M477.2,129.2l2,3.6h-4z"/><path d="M470,129.6l2,3.6h-4z"/><path d="M462.8,129.9l2,3.6h-4z"/><path d="M455.6,130.2l2,3.6h-4z"/><path d="M448.4,130.5l2,3.6h-4z"/><path d="M441.2,130.8l2,3.6h-4z"/><path d="M434,131.1l2,3.6h-4z"/><path d="M426.8,131.4l2,3.6h-4z"/><path d="M419.6,131.7l2,3.6h-4z"/><path d="M412.4,132l2,3.6h-4z"/><path d="M405.2,132.3l2,3.6h-4z"/><path d="M398,132.5l2,3.6h-4z"/><path d="M390.8,132.8l2,3.6h-4z"/></g>
<path d="M390.8,135 L394.4,134.9 L398,134.7 L401.6,134.6 L405.2,134.4 L408.8,134.3 L412.4,134.1 L416,134 L419.6,133.8 L423.2,133.7 L426.8,133.5 L430.4,133.4 L434,133.3 L437.6,133.1 L441.2,133 L444.8,132.8 L448.4,132.7 L452,132.5 L455.6,132.4 L459.2,132.2 L462.8,132.1 L466.4,131.9 L470,131.8 L473.6,131.6 L477.2,131.5 L477.5,131.5 L477.8,131.4 L478.1,131.4 L478.4,131.4 L478.6,131.4 L478.9,131.4 L479.2,131.4 L479.5,131.4 L479.8,131.4 L480.1,131.3 L480.4,131.3 L480.7,131.3 L480.8,131.3 L480.9,131.3 L481.2,131.3 L481.5,131.3 L481.8,131.3 L482.1,131.3 L482.4,131.2 L482.7,131.2 L483,131.2 L483.2,131.2 L483.5,131.2 L483.8,131.2 L484.1,131.2 L484.4,131.1 L484.7,131.1 L485,131.1 L485.3,131.1 L485.6,131.1 L485.8,131.1 L486.1,131.1 L486.4,131 L486.7,131 L487,131 L487.3,131 L487.6,131 L487.9,131 L488,131 L488.1,131 L488.4,130.9 L488.7,130.9 L489,130.9 L489.3,130.9 L489.6,130.9 L489.9,130.9 L490.2,130.8 L490.4,130.8 L490.7,130.8 L491,130.8 L491.3,130.8 L491.6,130.8 L491.9,130.8 L492.2,130.7 L492.5,130.7 L492.8,130.7 L493,130.7 L493.3,130.7 L493.6,130.7 L493.9,130.6 L494.2,130.6 L494.5,130.6 L494.8,130.6 L495.1,130.6 L495.2,130.6 L495.3,130.5 L495.6,130.5 L495.9,130.5 L496.2,130.5 L496.5,130.5 L496.8,130.5 L497.1,130.4 L497.4,130.4 L497.6,130.4 L497.9,130.4 L498.2,130.4 L498.5,130.3 L498.8,130.3 L499.1,130.3 L499.4,130.3 L499.7,130.3 L500,130.2 L500.2,130.2 L500.5,130.2 L500.8,130.2 L501.1,130.1 L501.4,130.1 L501.7,130.1 L502,130.1 L502.3,130.1 L502.4,130 L502.5,130 L502.8,130 L503.1,130 L503.4,130 L503.7,129.9 L504,129.9 L504.3,129.9 L504.6,129.9 L504.8,129.8 L505.1,129.8 L505.4,129.8 L505.7,129.7 L506,129.7 L506.3,129.7 L506.6,129.7 L506.9,129.6 L507.2,129.6 L507.4,129.6 L507.7,129.5 L508,129.5 L508.3,129.5 L508.6,129.5 L508.9,129.4 L509.2,129.4 L509.5,129.4 L509.6,129.3 L509.7,129.3 L510,129.3 L510.3,129.2 L510.6,129.2 L510.9,129.2 L511.2,129.1 L511.5,129.1 L511.8,129.1 L512,129 L512.3,129 L512.6,128.9 L512.9,128.9 L513.2,128.9 L513.5,128.8 L513.8,128.8 L514.1,128.7 L514.4,128.7 L514.6,128.7 L514.9,128.6 L515.2,128.6 L515.5,128.5 L515.8,128.5 L516.1,128.4 L516.4,128.4 L516.7,128.3 L516.8,128.3 L516.9,128.3 L517.2,128.2 L517.5,128.2 L517.8,128.1 L518.1,128.1 L518.4,128 L518.7,127.9 L519,127.9 L519.2,127.8 L519.5,127.8 L519.8,127.7 L520.1,127.6 L520.4,127.6 L520.7,127.5 L521,127.5 L521.3,127.4 L521.6,127.3 L521.8,127.3 L522.1,127.2 L522.4,127.1 L522.7,127 L523,127 L523.3,126.9 L523.6,126.8 L523.9,126.8 L524,126.7 L524.1,126.7 L524.4,126.6 L524.7,126.5 L525,126.4 L525.3,126.4 L525.6,126.3 L525.9,126.2 L526.2,126.1 L526.4,126 L526.7,125.9 L527,125.8 L527.3,125.8 L527.6,125.7 L527.9,125.6 L528.2,125.5 L528.5,125.4 L528.8,125.3 L529,125.2 L529.3,125.1 L529.6,125 L529.9,124.9 L530.2,124.8 L530.5,124.7 L530.8,124.6 L531.1,124.5 L531.2,124.4 L531.3,124.4 L531.6,124.3 L531.9,124.2 L532.2,124.1 L532.5,123.9 L532.8,123.8 L533.1,123.7 L533.4,123.6 L533.6,123.5 L533.9,123.4 L534.2,123.3 L534.5,123.2 L534.8,123 L535.1,122.9 L535.4,122.8 L535.7,122.7 L536,122.6 L536.2,122.4 L536.5,122.3 L536.8,122.2 L537.1,122.1 L537.4,121.9 L537.7,121.8 L538,121.7 L538.3,121.6 L538.4,121.5 L538.5,121.4 L538.8,121.3 L539.1,121.2 L539.4,121.1 L539.7,120.9 L540,120.8 L540.3,120.7 L540.6,120.6 L540.8,120.4 L541.1,120.3 L541.4,120.2 L541.7,120 L542,119.9 L542.3,119.8 L542.6,119.7 L542.9,119.5 L543.2,119.4 L543.4,119.3 L543.7,119.2 L544,119 L544.3,118.9 L544.6,118.8 L544.9,118.7 L545.2,118.5 L545.5,118.4 L545.6,118.3 L545.7,118.3 L546,118.2 L546.3,118 L546.6,117.9 L546.9,117.8 L547.2,117.7 L547.5,117.6 L547.8,117.4 L548,117.3 L548.3,117.2 L548.6,117.1 L548.9,117 L549.2,116.9 L549.5,116.8 L549.8,116.6 L550.1,116.5 L550.4,116.4 L550.6,116.3 L550.9,116.2 L551.2,116.1 L551.5,116 L551.8,115.9 L552.1,115.8 L552.4,115.7 L552.7,115.6 L552.8,115.5 L552.9,115.5 L553.2,115.4 L553.5,115.3 L553.8,115.2 L554.1,115.1 L554.4,115 L554.7,114.9 L555,114.8 L555.2,114.7 L555.5,114.6 L555.8,114.5 L556.1,114.5 L556.4,114.4 L556.7,114.3 L557,114.2 L557.3,114.1 L557.6,114 L557.8,114 L558.1,113.9 L558.4,113.8 L558.7,113.7 L559,113.7 L559.3,113.6 L559.6,113.5 L559.9,113.4 L560,113.4 L560.1,113.4 L560.4,113.3 L560.7,113.2 L561,113.2 L561.3,113.1 L561.6,113 L561.9,113 L562.2,112.9 L562.4,112.8 L562.7,112.8 L563,112.7 L563.3,112.7 L563.6,112.6 L563.9,112.5 L564.2,112.5 L564.5,112.4 L564.8,112.4 L565,112.3 L565.3,112.3 L565.6,112.2 L565.9,112.2 L566.2,112.1 L566.5,112.1 L566.8,112 L567.1,112 L567.2,111.9 L567.3,111.9 L567.6,111.9 L567.9,111.8 L568.2,111.8 L568.5,111.7 L568.8,111.7 L569.1,111.7 L569.4,111.6 L569.6,111.6 L569.9,111.5 L570.2,111.5 L570.5,111.5 L570.8,111.4 L571.1,111.4 L571.4,111.3 L571.7,111.3 L572,111.3 L572.2,111.2 L572.5,111.2 L572.8,111.2 L573.1,111.1 L573.4,111.1 L573.7,111.1 L574,111 L574.3,111 L574.4,111 L574.5,111 L574.8,110.9 L575.1,110.9 L575.4,110.9 L575.7,110.8 L576,110.8 L576.3,110.8 L576.6,110.8 L576.8,110.7 L577.1,110.7 L577.4,110.7 L577.7,110.6 L578,110.6 L578.3,110.6 L578.6,110.6 L578.9,110.5 L579.2,110.5 L579.4,110.5 L579.7,110.5 L580,110.4 L580.3,110.4 L580.6,110.4 L580.9,110.4 L581.2,110.4 L581.5,110.3 L581.6,110.3 L581.7,110.3 L582,110.3 L582.3,110.3 L582.6,110.2 L582.9,110.2 L583.2,110.2 L583.5,110.2 L583.8,110.2 L584,110.1 L584.3,110.1 L584.6,110.1 L584.9,110.1 L585.2,110.1 L585.5,110 L585.8,110 L586.1,110 L586.4,110 L586.6,110 L586.9,110 L587.2,109.9 L587.5,109.9 L587.8,109.9 L588.1,109.9 L588.4,109.9 L588.7,109.8 L588.8,109.8 L588.9,109.8 L589.2,109.8 L589.5,109.8 L589.8,109.8 L590.1,109.8 L590.4,109.7 L590.7,109.7 L591,109.7 L591.2,109.7 L591.5,109.7 L591.8,109.7 L592.1,109.6 L592.4,109.6 L596,109.4 L599.6,109.3 L603.2,109.1 L606.8,108.9 L610.4,108.8 L614,108.6 L617.6,108.5 L621.2,108.3 L624.8,108.2 L628.4,108 L632,107.9 L635.6,107.7 L639.2,107.6 L642.8,107.5 L646.4,107.3 L650,107.2 L653.6,107 L657.2,106.9 L660.8,106.7 L664.4,106.6 L668,106.4 L671.6,106.3 L675.2,106.1 L678.8,106" fill="none" stroke="#2f8a18" stroke-width="1.5" stroke-linejoin="round" stroke-linecap="round"/>
<g fill="#2f8a18"><path d="M678.8,103.8l2,3.6h-4z"/><path d="M671.6,104.1l2,3.6h-4z"/><path d="M664.4,104.4l2,3.6h-4z"/><path d="M657.2,104.7l2,3.6h-4z"/><path d="M650,105l2,3.6h-4z"/><path d="M642.8,105.3l2,3.6h-4z"/><path d="M635.6,105.6l2,3.6h-4z"/><path d="M628.4,105.9l2,3.6h-4z"/><path d="M621.2,106.2l2,3.6h-4z"/><path d="M614,106.5l2,3.6h-4z"/><path d="M606.8,106.8l2,3.6h-4z"/><path d="M599.6,107.1l2,3.6h-4z"/><path d="M592.4,107.5l2,3.6h-4z"/><path d="M589.5,107.6l2,3.6h-4z"/><path d="M586.6,107.8l2,3.6h-4z"/><path d="M585.2,107.9l2,3.6h-4z"/><path d="M583.8,108l2,3.6h-4z"/><path d="M580.9,108.2l2,3.6h-4z"/><path d="M578,108.5l2,3.6h-4z"/><path d="M575.1,108.7l2,3.6h-4z"/><path d="M572.2,109.1l2,3.6h-4z"/><path d="M570.8,109.3l2,3.6h-4z"/><path d="M569.4,109.5l2,3.6h-4z"/><path d="M566.5,109.9l2,3.6h-4z"/><path d="M563.6,110.4l2,3.6h-4z"/><path d="M560.7,111.1l2,3.6h-4z"/><path d="M557.8,111.8l2,3.6h-4z"/><path d="M556.4,112.2l2,3.6h-4z"/><path d="M555,112.7l2,3.6h-4z"/><path d="M552.1,113.6l2,3.6h-4z"/><path d="M549.2,114.7l2,3.6h-4z"/><path d="M546.3,115.9l2,3.6h-4z"/><path d="M543.4,117.1l2,3.6h-4z"/><path d="M542,117.8l2,3.6h-4z"/><path d="M540.6,118.4l2,3.6h-4z"/><path d="M537.7,119.7l2,3.6h-4z"/><path d="M534.8,120.9l2,3.6h-4z"/><path d="M531.9,122l2,3.6h-4z"/><path d="M529,123l2,3.6h-4z"/><path d="M527.6,123.5l2,3.6h-4z"/><path d="M526.2,123.9l2,3.6h-4z"/><path d="M523.3,124.7l2,3.6h-4z"/><path d="M520.4,125.4l2,3.6h-4z"/><path d="M517.5,126l2,3.6h-4z"/><path d="M514.6,126.5l2,3.6h-4z"/><path d="M513.2,126.7l2,3.6h-4z"/><path d="M511.8,126.9l2,3.6h-4z"/><path d="M508.9,127.3l2,3.6h-4z"/><path d="M506,127.6l2,3.6h-4z"/><path d="M503.1,127.8l2,3.6h-4z"/><path d="M500.2,128.1l2,3.6h-4z"/><path d="M498.8,128.2l2,3.6h-4z"/><path d="M497.4,128.3l2,3.6h-4z"/><path d="M494.5,128.4l2,3.6h-4z"/><path d="M491.6,128.6l2,3.6h-4z"/><path d="M488.7,128.8l2,3.6h-4z"/><path d="M485.8,128.9l2,3.6h-4z"/><path d="M484.4,129l2,3.6h-4z"/><path d="M483,129l2,3.6h-4z"/><path d="M480.1,129.2l2,3.6h-4z"/><path d="M477.2,129.3l2,3.6h-4z"/><path d="M470,129.6l2,3.6h-4z"/><path d="M462.8,129.9l2,3.6h-4z"/><path d="M455.6,130.2l2,3.6h-4z"/><path d="M448.4,130.5l2,3.6h-4z"/><path d="M441.2,130.8l2,3.6h-4z"/><path d="M434,131.1l2,3.6h-4z"/><path d="M426.8,131.4l2,3.6h-4z"/><path d="M419.6,131.7l2,3.6h-4z"/><path d="M412.4,132l2,3.6h-4z"/><path d="M405.2,132.3l2,3.6h-4z"/><path d="M398,132.5l2,3.6h-4z"/><path d="M390.8,132.8l2,3.6h-4z"/></g>
<path d="M678.8,9.7 L675.2,10 L671.6,10.2 L668,10.4 L664.4,10.7 L660.8,11 L657.2,11.2 L653.6,11.5 L650,11.7 L646.4,12 L642.8,12.3 L639.2,12.5 L635.6,12.8 L632,13.1 L628.4,13.4 L624.8,13.7 L621.2,14 L617.6,14.3 L614,14.7 L610.4,15.1 L606.8,15.5 L603.2,15.9 L599.6,16.4 L596,17 L592.4,17.6 L592.1,17.7 L591.8,17.8 L591.5,17.8 L591.2,17.9 L591,17.9 L590.7,18 L590.4,18.1 L590.1,18.1 L589.8,18.2 L589.5,18.2 L589.2,18.3 L588.9,18.4 L588.8,18.4 L588.7,18.4 L588.4,18.5 L588.1,18.6 L587.8,18.6 L587.5,18.7 L587.2,18.8 L586.9,18.8 L586.6,18.9 L586.4,19 L586.1,19.1 L585.8,19.1 L585.5,19.2 L585.2,19.3 L584.9,19.4 L584.6,19.5 L584.3,19.5 L584,19.6 L583.8,19.7 L583.5,19.8 L583.2,19.9 L582.9,20 L582.6,20 L582.3,20.1 L582,20.2 L581.7,20.3 L581.6,20.4 L581.5,20.4 L581.2,20.5 L580.9,20.6 L580.6,20.7 L580.3,20.8 L580,20.9 L579.7,21 L579.4,21.1 L579.2,21.2 L578.9,21.3 L578.6,21.4 L578.3,21.5 L578,21.6 L577.7,21.8 L577.4,21.9 L577.1,22 L576.8,22.1 L576.6,22.2 L576.3,22.3 L576,22.5 L575.7,22.6 L575.4,22.7 L575.1,22.9 L574.8,23 L574.5,23.1 L574.4,23.2 L574.3,23.3 L574,23.4 L573.7,23.5 L573.4,23.7 L573.1,23.8 L572.8,24 L572.5,24.1 L572.2,24.3 L572,24.4 L571.7,24.6 L571.4,24.8 L571.1,24.9 L570.8,25.1 L570.5,25.3 L570.2,25.4 L569.9,25.6 L569.6,25.8 L569.4,26 L569.1,26.1 L568.8,26.3 L568.5,26.5 L568.2,26.7 L567.9,26.9 L567.6,27.1 L567.3,27.3 L567.2,27.4 L567.1,27.5 L566.8,27.7 L566.5,27.9 L566.2,28.1 L565.9,28.4 L565.6,28.6 L565.3,28.8 L565,29 L564.8,29.3 L564.5,29.5 L564.2,29.7 L563.9,30 L563.6,30.2 L563.3,30.5 L563,30.7 L562.7,31 L562.4,31.3 L562.2,31.5 L561.9,31.8 L561.6,32.1 L561.3,32.4 L561,32.6 L560.7,32.9 L560.4,33.2 L560.1,33.5 L560,33.7 L559.9,33.8 L559.6,34.1 L559.3,34.5 L559,34.8 L558.7,35.1 L558.4,35.4 L558.1,35.8 L557.8,36.1 L557.6,36.5 L557.3,36.8 L557,37.2 L556.7,37.5 L556.4,37.9 L556.1,38.3 L555.8,38.6 L555.5,39 L555.2,39.4 L555,39.8 L554.7,40.2 L554.4,40.6 L554.1,41 L553.8,41.5 L553.5,41.9 L553.2,42.3 L552.9,42.8 L552.8,43 L552.7,43.2 L552.4,43.7 L552.1,44.1 L551.8,44.6 L551.5,45.1 L551.2,45.5 L550.9,46 L550.6,46.5 L550.4,47 L550.1,47.5 L549.8,48.1 L549.5,48.6 L549.2,49.1 L548.9,49.7 L548.6,50.2 L548.3,50.8 L548,51.3 L547.8,51.9 L547.5,52.5 L547.2,53.1 L546.9,53.7 L546.6,54.3 L546.3,54.9 L546,55.5 L545.7,56.2 L545.6,56.5 L545.5,56.8 L545.2,57.5 L544.9,58.1 L544.6,58.8 L544.3,59.5 L544,60.2 L543.7,60.9 L543.4,61.6 L543.2,62.4 L542.9,63.1 L542.6,63.9 L542.3,64.7 L542,65.5 L541.7,66.3 L541.4,67.1 L541.1,67.9 L540.8,68.8 L540.6,69.6 L540.3,70.5 L540,71.4 L539.7,72.4 L539.4,73.3 L539.1,74.3 L538.8,75.3 L538.5,76.3 L538.4,76.8 L538.3,77.4 L538,78.4 L537.7,79.6 L537.4,80.7 L537.1,81.9 L536.8,83.1 L536.5,84.4 L536.2,85.7 L536,87 L535.7,88.4 L535.4,89.9 L535.1,91.4 L534.8,93 L534.5,94.6 L534.2,96.3 L533.9,98.1 L533.6,100 L533.4,101.9 L533.1,103.9 L532.8,106 L532.5,108.1 L532.2,110.3 L531.9,112.6 L531.6,114.9 L531.3,117.2 L531.2,118.4 L531.1,119.6 L530.8,122 L530.5,124.3 L530.2,126.7 L529.9,129 L529.6,131.2 L529.3,133.4 L529,135.5 L528.8,137.6 L528.5,139.6 L528.2,141.5 L527.9,143.3 L527.6,145.1 L527.3,146.8 L527,148.4 L526.7,150 L526.4,151.5 L526.2,152.9 L525.9,154.3 L525.6,155.7 L525.3,156.9 L525,158.2 L524.7,159.4 L524.4,160.6 L524.1,161.7 L524,162.3 L523.9,162.8 L523.6,163.9 L523.3,164.9 L523,166 L522.7,166.9 L522.4,167.9 L522.1,168.9 L521.8,169.8 L521.6,170.7 L521.3,171.6 L521,172.4 L520.7,173.3 L520.4,174.1 L520.1,174.9 L519.8,175.7 L519.5,176.5 L519.2,177.3 L519,178.1 L518.7,178.8 L518.4,179.5 L518.1,180.3 L517.8,181 L517.5,181.7 L517.2,182.3 L516.9,183 L516.8,183.4 L516.7,183.7 L516.4,184.3 L516.1,185 L515.8,185.6 L515.5,186.2 L515.2,186.9 L514.9,187.5 L514.6,188.1 L514.4,188.7 L514.1,189.2 L513.8,189.8 L513.5,190.4 L513.2,190.9 L512.9,191.5 L512.6,192 L512.3,192.5 L512,193.1 L511.8,193.6 L511.5,194.1 L511.2,194.6 L510.9,195.1 L510.6,195.6 L510.3,196.1 L510,196.5 L509.7,197 L509.6,197.2 L509.5,197.5 L509.2,197.9 L508.9,198.3 L508.6,198.8 L508.3,199.2 L508,199.6 L507.7,200.1 L507.4,200.5 L507.2,200.9 L506.9,201.3 L506.6,201.7 L506.3,202.1 L506,202.4 L505.7,202.8 L505.4,203.2 L505.1,203.6 L504.8,203.9 L504.6,204.3 L504.3,204.6 L504,205 L503.7,205.3 L503.4,205.6 L503.1,206 L502.8,206.3 L502.5,206.6 L502.4,206.8 L502.3,206.9 L502,207.2 L501.7,207.5 L501.4,207.8 L501.1,208.1 L500.8,208.4 L500.5,208.7 L500.2,209 L500,209.3 L499.7,209.5 L499.4,209.8 L499.1,210.1 L498.8,210.3 L498.5,210.6 L498.2,210.8 L497.9,211.1 L497.6,211.3 L497.4,211.6 L497.1,211.8 L496.8,212 L496.5,212.3 L496.2,212.5 L495.9,212.7 L495.6,212.9 L495.3,213.1 L495.2,213.2 L495.1,213.3 L494.8,213.5 L494.5,213.8 L494.2,214 L493.9,214.1 L493.6,214.3 L493.3,214.5 L493,214.7 L492.8,214.9 L492.5,215.1 L492.2,215.3 L491.9,215.4 L491.6,215.6 L491.3,215.8 L491,216 L490.7,216.1 L490.4,216.3 L490.2,216.4 L489.9,216.6 L489.6,216.8 L489.3,216.9 L489,217.1 L488.7,217.2 L488.4,217.3 L488.1,217.5 L488,217.6 L487.9,217.6 L487.6,217.8 L487.3,217.9 L487,218 L486.7,218.2 L486.4,218.3 L486.1,218.4 L485.8,218.6 L485.6,218.7 L485.3,218.8 L485,218.9 L484.7,219 L484.4,219.2 L484.1,219.3 L483.8,219.4 L483.5,219.5 L483.2,219.6 L483,219.7 L482.7,219.8 L482.4,219.9 L482.1,220 L481.8,220.1 L481.5,220.2 L481.2,220.3 L480.9,220.4 L480.8,220.5 L480.7,220.5 L480.4,220.6 L480.1,220.7 L479.8,220.8 L479.5,220.9 L479.2,221 L478.9,221.1 L478.6,221.2 L478.4,221.2 L478.1,221.3 L477.8,221.4 L477.5,221.5 L477.2,221.6 L473.6,222.5 L470,223.3 L466.4,223.9 L462.8,224.5 L459.2,225 L455.6,225.5 L452,225.9 L448.4,226.3 L444.8,226.6 L441.2,227 L437.6,227.3 L434,227.6 L430.4,227.9 L426.8,228.2 L423.2,228.4 L419.6,228.7 L416,229 L412.4,229.2 L408.8,229.5 L405.2,229.8 L401.6,230 L398,230.3 L394.4,230.5 L390.8,230.8" fill="none" stroke="#ff0000" stroke-width="2.2" stroke-linejoin="round" stroke-linecap="round"/>
<g fill="#ff0000"><circle cx="678.8" cy="9.7" r="1.7"/><circle cx="671.6" cy="10.2" r="1.7"/><circle cx="664.4" cy="10.7" r="1.7"/><circle cx="657.2" cy="11.2" r="1.7"/><circle cx="650" cy="11.7" r="1.7"/><circle cx="642.8" cy="12.3" r="1.7"/><circle cx="635.6" cy="12.8" r="1.7"/><circle cx="628.4" cy="13.4" r="1.7"/><circle cx="621.2" cy="14" r="1.7"/><circle cx="614" cy="14.7" r="1.7"/><circle cx="606.8" cy="15.5" r="1.7"/><circle cx="599.6" cy="16.4" r="1.7"/><circle cx="592.4" cy="17.6" r="1.7"/><circle cx="591" cy="17.9" r="1.7"/><circle cx="589.5" cy="18.2" r="1.7"/><circle cx="588.1" cy="18.6" r="1.7"/><circle cx="586.6" cy="18.9" r="1.7"/><circle cx="585.2" cy="19.3" r="1.7"/><circle cx="583.8" cy="19.7" r="1.7"/><circle cx="582.3" cy="20.1" r="1.7"/><circle cx="580.9" cy="20.6" r="1.7"/><circle cx="579.4" cy="21.1" r="1.7"/><circle cx="578" cy="21.6" r="1.7"/><circle cx="576.6" cy="22.2" r="1.7"/><circle cx="575.1" cy="22.9" r="1.7"/><circle cx="573.7" cy="23.5" r="1.7"/><circle cx="572.2" cy="24.3" r="1.7"/><circle cx="570.8" cy="25.1" r="1.7"/><circle cx="569.4" cy="26" r="1.7"/><circle cx="567.9" cy="26.9" r="1.7"/><circle cx="566.5" cy="27.9" r="1.7"/><circle cx="565" cy="29" r="1.7"/><circle cx="563.6" cy="30.2" r="1.7"/><circle cx="562.2" cy="31.5" r="1.7"/><circle cx="560.7" cy="32.9" r="1.7"/><circle cx="559.3" cy="34.5" r="1.7"/><circle cx="557.8" cy="36.1" r="1.7"/><circle cx="556.4" cy="37.9" r="1.7"/><circle cx="555" cy="39.8" r="1.7"/><circle cx="553.5" cy="41.9" r="1.7"/><circle cx="552.1" cy="44.1" r="1.7"/><circle cx="550.6" cy="46.5" r="1.7"/><circle cx="549.2" cy="49.1" r="1.7"/><circle cx="547.8" cy="51.9" r="1.7"/><circle cx="546.3" cy="54.9" r="1.7"/><circle cx="544.9" cy="58.1" r="1.7"/><circle cx="543.4" cy="61.6" r="1.7"/><circle cx="542" cy="65.5" r="1.7"/><circle cx="540.6" cy="69.6" r="1.7"/><circle cx="539.1" cy="74.3" r="1.7"/><circle cx="537.7" cy="79.6" r="1.7"/><circle cx="536.2" cy="85.7" r="1.7"/><circle cx="534.8" cy="93" r="1.7"/><circle cx="533.4" cy="101.9" r="1.7"/><circle cx="531.9" cy="112.6" r="1.7"/><circle cx="530.5" cy="124.3" r="1.7"/><circle cx="529" cy="135.5" r="1.7"/><circle cx="527.6" cy="145.1" r="1.7"/><circle cx="526.2" cy="152.9" r="1.7"/><circle cx="524.7" cy="159.4" r="1.7"/><circle cx="523.3" cy="164.9" r="1.7"/><circle cx="521.8" cy="169.8" r="1.7"/><circle cx="520.4" cy="174.1" r="1.7"/><circle cx="519" cy="178.1" r="1.7"/><circle cx="517.5" cy="181.7" r="1.7"/><circle cx="516.1" cy="185" r="1.7"/><circle cx="514.6" cy="188.1" r="1.7"/><circle cx="513.2" cy="190.9" r="1.7"/><circle cx="511.8" cy="193.6" r="1.7"/><circle cx="510.3" cy="196.1" r="1.7"/><circle cx="508.9" cy="198.3" r="1.7"/><circle cx="507.4" cy="200.5" r="1.7"/><circle cx="506" cy="202.4" r="1.7"/><circle cx="504.6" cy="204.3" r="1.7"/><circle cx="503.1" cy="206" r="1.7"/><circle cx="501.7" cy="207.5" r="1.7"/><circle cx="500.2" cy="209" r="1.7"/><circle cx="498.8" cy="210.3" r="1.7"/><circle cx="497.4" cy="211.6" r="1.7"/><circle cx="495.9" cy="212.7" r="1.7"/><circle cx="494.5" cy="213.8" r="1.7"/><circle cx="493" cy="214.7" r="1.7"/><circle cx="491.6" cy="215.6" r="1.7"/><circle cx="490.2" cy="216.4" r="1.7"/><circle cx="488.7" cy="217.2" r="1.7"/><circle cx="487.3" cy="217.9" r="1.7"/><circle cx="485.8" cy="218.6" r="1.7"/><circle cx="484.4" cy="219.2" r="1.7"/><circle cx="483" cy="219.7" r="1.7"/><circle cx="481.5" cy="220.2" r="1.7"/><circle cx="480.1" cy="220.7" r="1.7"/><circle cx="478.6" cy="221.2" r="1.7"/><circle cx="477.2" cy="221.6" r="1.7"/><circle cx="470" cy="223.3" r="1.7"/><circle cx="462.8" cy="224.5" r="1.7"/><circle cx="455.6" cy="225.5" r="1.7"/><circle cx="448.4" cy="226.3" r="1.7"/><circle cx="441.2" cy="227" r="1.7"/><circle cx="434" cy="227.6" r="1.7"/><circle cx="426.8" cy="228.2" r="1.7"/><circle cx="419.6" cy="228.7" r="1.7"/><circle cx="412.4" cy="229.2" r="1.7"/><circle cx="405.2" cy="229.8" r="1.7"/><circle cx="398" cy="230.3" r="1.7"/><circle cx="390.8" cy="230.8" r="1.7"/></g>
<path d="M390.8,231.3 L394.4,231 L398,230.8 L401.6,230.6 L405.2,230.3 L408.8,230 L412.4,229.8 L416,229.5 L419.6,229.3 L423.2,229 L426.8,228.7 L430.4,228.5 L434,228.2 L437.6,227.9 L441.2,227.6 L444.8,227.3 L448.4,227 L452,226.7 L455.6,226.3 L459.2,225.9 L462.8,225.5 L466.4,225.1 L470,224.6 L473.6,224 L477.2,223.4 L477.5,223.3 L477.8,223.2 L478.1,223.2 L478.4,223.1 L478.6,223.1 L478.9,223 L479.2,222.9 L479.5,222.9 L479.8,222.8 L480.1,222.8 L480.4,222.7 L480.7,222.6 L480.8,222.6 L480.9,222.6 L481.2,222.5 L481.5,222.4 L481.8,222.4 L482.1,222.3 L482.4,222.2 L482.7,222.2 L483,222.1 L483.2,222 L483.5,221.9 L483.8,221.9 L484.1,221.8 L484.4,221.7 L484.7,221.6 L485,221.5 L485.3,221.5 L485.6,221.4 L485.8,221.3 L486.1,221.2 L486.4,221.1 L486.7,221 L487,221 L487.3,220.9 L487.6,220.8 L487.9,220.7 L488,220.6 L488.1,220.6 L488.4,220.5 L488.7,220.4 L489,220.3 L489.3,220.2 L489.6,220.1 L489.9,220 L490.2,219.9 L490.4,219.8 L490.7,219.7 L491,219.6 L491.3,219.5 L491.6,219.4 L491.9,219.2 L492.2,219.1 L492.5,219 L492.8,218.9 L493,218.8 L493.3,218.7 L493.6,218.5 L493.9,218.4 L494.2,218.3 L494.5,218.1 L494.8,218 L495.1,217.9 L495.2,217.8 L495.3,217.7 L495.6,217.6 L495.9,217.5 L496.2,217.3 L496.5,217.2 L496.8,217 L497.1,216.9 L497.4,216.7 L497.6,216.6 L497.9,216.4 L498.2,216.2 L498.5,216.1 L498.8,215.9 L499.1,215.7 L499.4,215.6 L499.7,215.4 L500,215.2 L500.2,215 L500.5,214.9 L500.8,214.7 L501.1,214.5 L501.4,214.3 L501.7,214.1 L502,213.9 L502.3,213.7 L502.4,213.6 L502.5,213.5 L502.8,213.3 L503.1,213.1 L503.4,212.9 L503.7,212.6 L504,212.4 L504.3,212.2 L504.6,212 L504.8,211.7 L505.1,211.5 L505.4,211.3 L505.7,211 L506,210.8 L506.3,210.5 L506.6,210.3 L506.9,210 L507.2,209.7 L507.4,209.5 L507.7,209.2 L508,208.9 L508.3,208.6 L508.6,208.4 L508.9,208.1 L509.2,207.8 L509.5,207.5 L509.6,207.3 L509.7,207.2 L510,206.9 L510.3,206.5 L510.6,206.2 L510.9,205.9 L511.2,205.6 L511.5,205.2 L511.8,204.9 L512,204.5 L512.3,204.2 L512.6,203.8 L512.9,203.5 L513.2,203.1 L513.5,202.7 L513.8,202.4 L514.1,202 L514.4,201.6 L514.6,201.2 L514.9,200.8 L515.2,200.4 L515.5,200 L515.8,199.5 L516.1,199.1 L516.4,198.7 L516.7,198.2 L516.8,198 L516.9,197.8 L517.2,197.3 L517.5,196.9 L517.8,196.4 L518.1,195.9 L518.4,195.5 L518.7,195 L519,194.5 L519.2,194 L519.5,193.5 L519.8,192.9 L520.1,192.4 L520.4,191.9 L520.7,191.3 L521,190.8 L521.3,190.2 L521.6,189.7 L521.8,189.1 L522.1,188.5 L522.4,187.9 L522.7,187.3 L523,186.7 L523.3,186.1 L523.6,185.5 L523.9,184.8 L524,184.5 L524.1,184.2 L524.4,183.5 L524.7,182.9 L525,182.2 L525.3,181.5 L525.6,180.8 L525.9,180.1 L526.2,179.4 L526.4,178.6 L526.7,177.9 L527,177.1 L527.3,176.3 L527.6,175.5 L527.9,174.7 L528.2,173.9 L528.5,173.1 L528.8,172.2 L529,171.4 L529.3,170.5 L529.6,169.6 L529.9,168.6 L530.2,167.7 L530.5,166.7 L530.8,165.7 L531.1,164.7 L531.2,164.2 L531.3,163.6 L531.6,162.6 L531.9,161.4 L532.2,160.3 L532.5,159.1 L532.8,157.9 L533.1,156.6 L533.4,155.3 L533.6,154 L533.9,152.6 L534.2,151.1 L534.5,149.6 L534.8,148 L535.1,146.4 L535.4,144.7 L535.7,142.9 L536,141 L536.2,139.1 L536.5,137.1 L536.8,135 L537.1,132.9 L537.4,130.7 L537.7,128.4 L538,126.1 L538.3,123.8 L538.4,122.6 L538.5,121.4 L538.8,119 L539.1,116.7 L539.4,114.3 L539.7,112 L540,109.8 L540.3,107.6 L540.6,105.5 L540.8,103.4 L541.1,101.4 L541.4,99.5 L541.7,97.7 L542,95.9 L542.3,94.2 L542.6,92.6 L542.9,91 L543.2,89.5 L543.4,88.1 L543.7,86.7 L544,85.3 L544.3,84.1 L544.6,82.8 L544.9,81.6 L545.2,80.4 L545.5,79.3 L545.6,78.7 L545.7,78.2 L546,77.1 L546.3,76.1 L546.6,75 L546.9,74.1 L547.2,73.1 L547.5,72.1 L547.8,71.2 L548,70.3 L548.3,69.4 L548.6,68.6 L548.9,67.7 L549.2,66.9 L549.5,66.1 L549.8,65.3 L550.1,64.5 L550.4,63.7 L550.6,62.9 L550.9,62.2 L551.2,61.5 L551.5,60.7 L551.8,60 L552.1,59.3 L552.4,58.7 L552.7,58 L552.8,57.6 L552.9,57.3 L553.2,56.7 L553.5,56 L553.8,55.4 L554.1,54.8 L554.4,54.1 L554.7,53.5 L555,52.9 L555.2,52.3 L555.5,51.8 L555.8,51.2 L556.1,50.6 L556.4,50.1 L556.7,49.5 L557,49 L557.3,48.5 L557.6,47.9 L557.8,47.4 L558.1,46.9 L558.4,46.4 L558.7,45.9 L559,45.4 L559.3,44.9 L559.6,44.5 L559.9,44 L560,43.8 L560.1,43.5 L560.4,43.1 L560.7,42.7 L561,42.2 L561.3,41.8 L561.6,41.4 L561.9,40.9 L562.2,40.5 L562.4,40.1 L562.7,39.7 L563,39.3 L563.3,38.9 L563.6,38.6 L563.9,38.2 L564.2,37.8 L564.5,37.4 L564.8,37.1 L565,36.7 L565.3,36.4 L565.6,36 L565.9,35.7 L566.2,35.4 L566.5,35 L566.8,34.7 L567.1,34.4 L567.2,34.2 L567.3,34.1 L567.6,33.8 L567.9,33.5 L568.2,33.2 L568.5,32.9 L568.8,32.6 L569.1,32.3 L569.4,32 L569.6,31.7 L569.9,31.5 L570.2,31.2 L570.5,30.9 L570.8,30.7 L571.1,30.4 L571.4,30.2 L571.7,29.9 L572,29.7 L572.2,29.4 L572.5,29.2 L572.8,29 L573.1,28.7 L573.4,28.5 L573.7,28.3 L574,28.1 L574.3,27.9 L574.4,27.8 L574.5,27.7 L574.8,27.5 L575.1,27.2 L575.4,27 L575.7,26.9 L576,26.7 L576.3,26.5 L576.6,26.3 L576.8,26.1 L577.1,25.9 L577.4,25.7 L577.7,25.6 L578,25.4 L578.3,25.2 L578.6,25 L578.9,24.9 L579.2,24.7 L579.4,24.6 L579.7,24.4 L580,24.2 L580.3,24.1 L580.6,23.9 L580.9,23.8 L581.2,23.7 L581.5,23.5 L581.6,23.4 L581.7,23.4 L582,23.2 L582.3,23.1 L582.6,23 L582.9,22.8 L583.2,22.7 L583.5,22.6 L583.8,22.4 L584,22.3 L584.3,22.2 L584.6,22.1 L584.9,22 L585.2,21.8 L585.5,21.7 L585.8,21.6 L586.1,21.5 L586.4,21.4 L586.6,21.3 L586.9,21.2 L587.2,21.1 L587.5,21 L587.8,20.9 L588.1,20.8 L588.4,20.7 L588.7,20.6 L588.8,20.5 L588.9,20.5 L589.2,20.4 L589.5,20.3 L589.8,20.2 L590.1,20.1 L590.4,20 L590.7,19.9 L591,19.8 L591.2,19.8 L591.5,19.7 L591.8,19.6 L592.1,19.5 L592.4,19.4 L596,18.5 L599.6,17.7 L603.2,17.1 L606.8,16.5 L610.4,16 L614,15.5 L617.6,15.1 L621.2,14.7 L624.8,14.4 L628.4,14 L632,13.7 L635.6,13.4 L639.2,13.1 L642.8,12.8 L646.4,12.6 L650,12.3 L653.6,12 L657.2,11.8 L660.8,11.5 L664.4,11.2 L668,11 L671.6,10.7 L675.2,10.5 L678.8,10.2" fill="none" stroke="#ff0000" stroke-width="2.2" stroke-linejoin="round" stroke-linecap="round"/>
<g fill="#ff0000"><circle cx="678.8" cy="10.2" r="1.7"/><circle cx="671.6" cy="10.7" r="1.7"/><circle cx="664.4" cy="11.2" r="1.7"/><circle cx="657.2" cy="11.8" r="1.7"/><circle cx="650" cy="12.3" r="1.7"/><circle cx="642.8" cy="12.8" r="1.7"/><circle cx="635.6" cy="13.4" r="1.7"/><circle cx="628.4" cy="14" r="1.7"/><circle cx="621.2" cy="14.7" r="1.7"/><circle cx="614" cy="15.5" r="1.7"/><circle cx="606.8" cy="16.5" r="1.7"/><circle cx="599.6" cy="17.7" r="1.7"/><circle cx="592.4" cy="19.4" r="1.7"/><circle cx="591" cy="19.8" r="1.7"/><circle cx="589.5" cy="20.3" r="1.7"/><circle cx="588.1" cy="20.8" r="1.7"/><circle cx="586.6" cy="21.3" r="1.7"/><circle cx="585.2" cy="21.8" r="1.7"/><circle cx="583.8" cy="22.4" r="1.7"/><circle cx="582.3" cy="23.1" r="1.7"/><circle cx="580.9" cy="23.8" r="1.7"/><circle cx="579.4" cy="24.6" r="1.7"/><circle cx="578" cy="25.4" r="1.7"/><circle cx="576.6" cy="26.3" r="1.7"/><circle cx="575.1" cy="27.2" r="1.7"/><circle cx="573.7" cy="28.3" r="1.7"/><circle cx="572.2" cy="29.4" r="1.7"/><circle cx="570.8" cy="30.7" r="1.7"/><circle cx="569.4" cy="32" r="1.7"/><circle cx="567.9" cy="33.5" r="1.7"/><circle cx="566.5" cy="35" r="1.7"/><circle cx="565" cy="36.7" r="1.7"/><circle cx="563.6" cy="38.6" r="1.7"/><circle cx="562.2" cy="40.5" r="1.7"/><circle cx="560.7" cy="42.7" r="1.7"/><circle cx="559.3" cy="44.9" r="1.7"/><circle cx="557.8" cy="47.4" r="1.7"/><circle cx="556.4" cy="50.1" r="1.7"/><circle cx="555" cy="52.9" r="1.7"/><circle cx="553.5" cy="56" r="1.7"/><circle cx="552.1" cy="59.3" r="1.7"/><circle cx="550.6" cy="62.9" r="1.7"/><circle cx="549.2" cy="66.9" r="1.7"/><circle cx="547.8" cy="71.2" r="1.7"/><circle cx="546.3" cy="76.1" r="1.7"/><circle cx="544.9" cy="81.6" r="1.7"/><circle cx="543.4" cy="88.1" r="1.7"/><circle cx="542" cy="95.9" r="1.7"/><circle cx="540.6" cy="105.5" r="1.7"/><circle cx="539.1" cy="116.7" r="1.7"/><circle cx="537.7" cy="128.4" r="1.7"/><circle cx="536.2" cy="139.1" r="1.7"/><circle cx="534.8" cy="148" r="1.7"/><circle cx="533.4" cy="155.3" r="1.7"/><circle cx="531.9" cy="161.4" r="1.7"/><circle cx="530.5" cy="166.7" r="1.7"/><circle cx="529" cy="171.4" r="1.7"/><circle cx="527.6" cy="175.5" r="1.7"/><circle cx="526.2" cy="179.4" r="1.7"/><circle cx="524.7" cy="182.9" r="1.7"/><circle cx="523.3" cy="186.1" r="1.7"/><circle cx="521.8" cy="189.1" r="1.7"/><circle cx="520.4" cy="191.9" r="1.7"/><circle cx="519" cy="194.5" r="1.7"/><circle cx="517.5" cy="196.9" r="1.7"/><circle cx="516.1" cy="199.1" r="1.7"/><circle cx="514.6" cy="201.2" r="1.7"/><circle cx="513.2" cy="203.1" r="1.7"/><circle cx="511.8" cy="204.9" r="1.7"/><circle cx="510.3" cy="206.5" r="1.7"/><circle cx="508.9" cy="208.1" r="1.7"/><circle cx="507.4" cy="209.5" r="1.7"/><circle cx="506" cy="210.8" r="1.7"/><circle cx="504.6" cy="212" r="1.7"/><circle cx="503.1" cy="213.1" r="1.7"/><circle cx="501.7" cy="214.1" r="1.7"/><circle cx="500.2" cy="215" r="1.7"/><circle cx="498.8" cy="215.9" r="1.7"/><circle cx="497.4" cy="216.7" r="1.7"/><circle cx="495.9" cy="217.5" r="1.7"/><circle cx="494.5" cy="218.1" r="1.7"/><circle cx="493" cy="218.8" r="1.7"/><circle cx="491.6" cy="219.4" r="1.7"/><circle cx="490.2" cy="219.9" r="1.7"/><circle cx="488.7" cy="220.4" r="1.7"/><circle cx="487.3" cy="220.9" r="1.7"/><circle cx="485.8" cy="221.3" r="1.7"/><circle cx="484.4" cy="221.7" r="1.7"/><circle cx="483" cy="222.1" r="1.7"/><circle cx="481.5" cy="222.4" r="1.7"/><circle cx="480.1" cy="222.8" r="1.7"/><circle cx="478.6" cy="223.1" r="1.7"/><circle cx="477.2" cy="223.4" r="1.7"/><circle cx="470" cy="224.6" r="1.7"/><circle cx="462.8" cy="225.5" r="1.7"/><circle cx="455.6" cy="226.3" r="1.7"/><circle cx="448.4" cy="227" r="1.7"/><circle cx="441.2" cy="227.6" r="1.7"/><circle cx="434" cy="228.2" r="1.7"/><circle cx="426.8" cy="228.7" r="1.7"/><circle cx="419.6" cy="229.3" r="1.7"/><circle cx="412.4" cy="229.8" r="1.7"/><circle cx="405.2" cy="230.3" r="1.7"/><circle cx="398" cy="230.8" r="1.7"/><circle cx="390.8" cy="231.3" r="1.7"/></g>
<path d="M534.8,120.5 L535.1,119.8 L535.4,119 L535.7,118.3 L536,117.4 L536.2,116.5 L536.5,115.5 L536.8,114.5 L537.1,113.4 L537.4,112.2 L537.7,110.9 L538,109.6 L538.3,108.2 L538.4,107.5 L538.5,106.8 L538.8,105.3 L539.1,103.8 L539.4,102.3 L539.7,100.8 L540,99.3 L540.3,97.7 L540.6,96.3 L540.8,94.8 L541.1,93.4 L541.4,92 L541.7,90.6 L542,89.3 L542.3,88 L542.6,86.8 L542.9,85.5 L543.2,84.4 L543.4,83.2 L543.7,82.1 L544,81 L544.3,80 L544.6,78.9 L544.9,77.9 L545.2,77 L545.5,76 L545.6,75.5 L545.7,75.1 L546,74.2 L546.3,73.3 L546.6,72.4 L546.9,71.5 L547.2,70.7 L547.5,69.9 L547.8,69.1 L548,68.3 L548.3,67.5 L548.6,66.7 L548.9,66 L549.2,65.2 L549.5,64.5 L549.8,63.7 L550.1,63 L550.4,62.3 L550.6,61.6 L550.9,61 L551.2,60.3 L551.5,59.6 L551.8,59 L552.1,58.3 L552.4,57.7 L552.7,57 L552.8,56.7 L552.9,56.4 L553.2,55.8 L553.5,55.2 L553.8,54.6 L554.1,54 L554.4,53.4 L554.7,52.9 L555,52.3 L555.2,51.7 L555.5,51.2 L555.8,50.6 L556.1,50.1 L556.4,49.6 L556.7,49 L557,48.5 L557.3,48 L557.6,47.5 L557.8,47 L558.1,46.5 L558.4,46 L558.7,45.6 L559,45.1 L559.3,44.6 L559.6,44.2 L559.9,43.7 L560,43.5 L560.1,43.3 L560.4,42.8 L560.7,42.4 L561,42 L561.3,41.6 L561.6,41.1 L561.9,40.7 L562.2,40.3 L562.4,39.9 L562.7,39.5 L563,39.2 L563.3,38.8 L563.6,38.4 L563.9,38 L564.2,37.7 L564.5,37.3 L564.8,37 L565,36.6 L565.3,36.3 L565.6,35.9 L565.9,35.6 L566.2,35.3 L566.5,34.9 L566.8,34.6 L567.1,34.3 L567.2,34.1 L567.3,34 L567.6,33.7 L567.9,33.4 L568.2,33.1 L568.5,32.8 L568.8,32.5 L569.1,32.2 L569.4,32 L569.6,31.7 L569.9,31.4 L570.2,31.1 L570.5,30.9 L570.8,30.6 L571.1,30.4 L571.4,30.1 L571.7,29.9 L572,29.6 L572.2,29.4 L572.5,29.2 L572.8,28.9 L573.1,28.7 L573.4,28.5 L573.7,28.3 L574,28.1 L574.3,27.8 L574.4,27.7 L574.5,27.6 L574.8,27.4 L575.1,27.2 L575.4,27 L575.7,26.8 L576,26.6 L576.3,26.4 L576.6,26.3 L576.8,26.1 L577.1,25.9 L577.4,25.7 L577.7,25.5 L578,25.4 L578.3,25.2 L578.6,25 L578.9,24.9 L579.2,24.7 L579.4,24.5 L579.7,24.4 L580,24.2 L580.3,24.1 L580.6,23.9 L580.9,23.8 L581.2,23.6 L581.5,23.5 L581.6,23.4 L581.7,23.4 L582,23.2 L582.3,23.1 L582.6,23 L582.9,22.8 L583.2,22.7 L583.5,22.6 L583.8,22.4 L584,22.3 L584.3,22.2 L584.6,22.1 L584.9,22 L585.2,21.8 L585.5,21.7 L585.8,21.6 L586.1,21.5 L586.4,21.4 L586.6,21.3 L586.9,21.2 L587.2,21.1 L587.5,21 L587.8,20.9 L588.1,20.8 L588.4,20.7 L588.7,20.6 L588.8,20.5 L588.9,20.5 L589.2,20.4 L589.5,20.3 L589.8,20.2 L590.1,20.1 L590.4,20 L590.7,19.9 L591,19.8 L591.2,19.8 L591.5,19.7 L591.8,19.6 L592.1,19.5 L592.4,19.4 L596,18.5 L599.6,17.7 L603.2,17.1 L606.8,16.5 L610.4,16 L614,15.5 L617.6,15.1 L621.2,14.7 L624.8,14.4 L628.4,14 L632,13.7 L635.6,13.4 L639.2,13.1 L642.8,12.8 L646.4,12.6 L650,12.3 L653.6,12 L657.2,11.8 L660.8,11.5 L664.4,11.2 L668,11 L671.6,10.7 L675.2,10.5 L678.8,10.2" fill="none" stroke="#ff0000" stroke-width="2.2" stroke-linejoin="round" stroke-linecap="round"/>
<g fill="#ff0000"><circle cx="678.8" cy="10.2" r="1.7"/><circle cx="671.6" cy="10.7" r="1.7"/><circle cx="664.4" cy="11.2" r="1.7"/><circle cx="657.2" cy="11.8" r="1.7"/><circle cx="650" cy="12.3" r="1.7"/><circle cx="642.8" cy="12.8" r="1.7"/><circle cx="635.6" cy="13.4" r="1.7"/><circle cx="628.4" cy="14" r="1.7"/><circle cx="621.2" cy="14.7" r="1.7"/><circle cx="614" cy="15.5" r="1.7"/><circle cx="606.8" cy="16.5" r="1.7"/><circle cx="599.6" cy="17.7" r="1.7"/><circle cx="592.4" cy="19.4" r="1.7"/><circle cx="591" cy="19.8" r="1.7"/><circle cx="589.5" cy="20.3" r="1.7"/><circle cx="588.1" cy="20.8" r="1.7"/><circle cx="586.6" cy="21.3" r="1.7"/><circle cx="585.2" cy="21.8" r="1.7"/><circle cx="583.8" cy="22.4" r="1.7"/><circle cx="582.3" cy="23.1" r="1.7"/><circle cx="580.9" cy="23.8" r="1.7"/><circle cx="579.4" cy="24.5" r="1.7"/><circle cx="578" cy="25.4" r="1.7"/><circle cx="576.6" cy="26.3" r="1.7"/><circle cx="575.1" cy="27.2" r="1.7"/><circle cx="573.7" cy="28.3" r="1.7"/><circle cx="572.2" cy="29.4" r="1.7"/><circle cx="570.8" cy="30.6" r="1.7"/><circle cx="569.4" cy="32" r="1.7"/><circle cx="567.9" cy="33.4" r="1.7"/><circle cx="566.5" cy="34.9" r="1.7"/><circle cx="565" cy="36.6" r="1.7"/><circle cx="563.6" cy="38.4" r="1.7"/><circle cx="562.2" cy="40.3" r="1.7"/><circle cx="560.7" cy="42.4" r="1.7"/><circle cx="559.3" cy="44.6" r="1.7"/><circle cx="557.8" cy="47" r="1.7"/><circle cx="556.4" cy="49.6" r="1.7"/><circle cx="555" cy="52.3" r="1.7"/><circle cx="553.5" cy="55.2" r="1.7"/><circle cx="552.1" cy="58.3" r="1.7"/><circle cx="550.6" cy="61.6" r="1.7"/><circle cx="549.2" cy="65.2" r="1.7"/><circle cx="547.8" cy="69.1" r="1.7"/><circle cx="546.3" cy="73.3" r="1.7"/><circle cx="544.9" cy="77.9" r="1.7"/><circle cx="543.4" cy="83.2" r="1.7"/><circle cx="542" cy="89.3" r="1.7"/><circle cx="540.6" cy="96.3" r="1.7"/><circle cx="539.1" cy="103.8" r="1.7"/><circle cx="537.7" cy="110.9" r="1.7"/><circle cx="536.2" cy="116.5" r="1.7"/><circle cx="534.8" cy="120.5" r="1.7"/></g>
<rect x="391.3" y="4.7" width="287.7" height="232.1" fill="none" stroke="#000" stroke-width="1.4"/>
<line x1="390.9" y1="236.8" x2="390.9" y2="231.8" stroke="#000" stroke-width="1.2"/>
<line x1="390.9" y1="4.7" x2="390.9" y2="9.7" stroke="#000" stroke-width="1.2"/>
<line x1="419.7" y1="236.8" x2="419.7" y2="231.8" stroke="#000" stroke-width="1.2"/>
<line x1="419.7" y1="4.7" x2="419.7" y2="9.7" stroke="#000" stroke-width="1.2"/>
<line x1="448.5" y1="236.8" x2="448.5" y2="231.8" stroke="#000" stroke-width="1.2"/>
<line x1="448.5" y1="4.7" x2="448.5" y2="9.7" stroke="#000" stroke-width="1.2"/>
<line x1="477.3" y1="236.8" x2="477.3" y2="231.8" stroke="#000" stroke-width="1.2"/>
<line x1="477.3" y1="4.7" x2="477.3" y2="9.7" stroke="#000" stroke-width="1.2"/>
<line x1="506.1" y1="236.8" x2="506.1" y2="231.8" stroke="#000" stroke-width="1.2"/>
<line x1="506.1" y1="4.7" x2="506.1" y2="9.7" stroke="#000" stroke-width="1.2"/>
<line x1="534.9" y1="236.8" x2="534.9" y2="231.8" stroke="#000" stroke-width="1.2"/>
<line x1="534.9" y1="4.7" x2="534.9" y2="9.7" stroke="#000" stroke-width="1.2"/>
<line x1="563.7" y1="236.8" x2="563.7" y2="231.8" stroke="#000" stroke-width="1.2"/>
<line x1="563.7" y1="4.7" x2="563.7" y2="9.7" stroke="#000" stroke-width="1.2"/>
<line x1="592.5" y1="236.8" x2="592.5" y2="231.8" stroke="#000" stroke-width="1.2"/>
<line x1="592.5" y1="4.7" x2="592.5" y2="9.7" stroke="#000" stroke-width="1.2"/>
<line x1="621.3" y1="236.8" x2="621.3" y2="231.8" stroke="#000" stroke-width="1.2"/>
<line x1="621.3" y1="4.7" x2="621.3" y2="9.7" stroke="#000" stroke-width="1.2"/>
<line x1="650.1" y1="236.8" x2="650.1" y2="231.8" stroke="#000" stroke-width="1.2"/>
<line x1="650.1" y1="4.7" x2="650.1" y2="9.7" stroke="#000" stroke-width="1.2"/>
<line x1="678.9" y1="236.8" x2="678.9" y2="231.8" stroke="#000" stroke-width="1.2"/>
<line x1="678.9" y1="4.7" x2="678.9" y2="9.7" stroke="#000" stroke-width="1.2"/>
<line x1="400.5" y1="236.8" x2="400.5" y2="234.5" stroke="#000" stroke-width="1.2"/>
<line x1="400.5" y1="4.7" x2="400.5" y2="7" stroke="#000" stroke-width="1.2"/>
<line x1="410.1" y1="236.8" x2="410.1" y2="234.5" stroke="#000" stroke-width="1.2"/>
<line x1="410.1" y1="4.7" x2="410.1" y2="7" stroke="#000" stroke-width="1.2"/>
<line x1="429.3" y1="236.8" x2="429.3" y2="234.5" stroke="#000" stroke-width="1.2"/>
<line x1="429.3" y1="4.7" x2="429.3" y2="7" stroke="#000" stroke-width="1.2"/>
<line x1="438.9" y1="236.8" x2="438.9" y2="234.5" stroke="#000" stroke-width="1.2"/>
<line x1="438.9" y1="4.7" x2="438.9" y2="7" stroke="#000" stroke-width="1.2"/>
<line x1="458.1" y1="236.8" x2="458.1" y2="234.5" stroke="#000" stroke-width="1.2"/>
<line x1="458.1" y1="4.7" x2="458.1" y2="7" stroke="#000" stroke-width="1.2"/>
<line x1="467.7" y1="236.8" x2="467.7" y2="234.5" stroke="#000" stroke-width="1.2"/>
<line x1="467.7" y1="4.7" x2="467.7" y2="7" stroke="#000" stroke-width="1.2"/>
<line x1="486.9" y1="236.8" x2="486.9" y2="234.5" stroke="#000" stroke-width="1.2"/>
<line x1="486.9" y1="4.7" x2="486.9" y2="7" stroke="#000" stroke-width="1.2"/>
<line x1="496.5" y1="236.8" x2="496.5" y2="234.5" stroke="#000" stroke-width="1.2"/>
<line x1="496.5" y1="4.7" x2="496.5" y2="7" stroke="#000" stroke-width="1.2"/>
<line x1="515.7" y1="236.8" x2="515.7" y2="234.5" stroke="#000" stroke-width="1.2"/>
<line x1="515.7" y1="4.7" x2="515.7" y2="7" stroke="#000" stroke-width="1.2"/>
<line x1="525.3" y1="236.8" x2="525.3" y2="234.5" stroke="#000" stroke-width="1.2"/>
<line x1="525.3" y1="4.7" x2="525.3" y2="7" stroke="#000" stroke-width="1.2"/>
<line x1="544.5" y1="236.8" x2="544.5" y2="234.5" stroke="#000" stroke-width="1.2"/>
<line x1="544.5" y1="4.7" x2="544.5" y2="7" stroke="#000" stroke-width="1.2"/>
<line x1="554.1" y1="236.8" x2="554.1" y2="234.5" stroke="#000" stroke-width="1.2"/>
<line x1="554.1" y1="4.7" x2="554.1" y2="7" stroke="#000" stroke-width="1.2"/>
<line x1="573.3" y1="236.8" x2="573.3" y2="234.5" stroke="#000" stroke-width="1.2"/>
<line x1="573.3" y1="4.7" x2="573.3" y2="7" stroke="#000" stroke-width="1.2"/>
<line x1="582.9" y1="236.8" x2="582.9" y2="234.5" stroke="#000" stroke-width="1.2"/>
<line x1="582.9" y1="4.7" x2="582.9" y2="7" stroke="#000" stroke-width="1.2"/>
<line x1="602.1" y1="236.8" x2="602.1" y2="234.5" stroke="#000" stroke-width="1.2"/>
<line x1="602.1" y1="4.7" x2="602.1" y2="7" stroke="#000" stroke-width="1.2"/>
<line x1="611.7" y1="236.8" x2="611.7" y2="234.5" stroke="#000" stroke-width="1.2"/>
<line x1="611.7" y1="4.7" x2="611.7" y2="7" stroke="#000" stroke-width="1.2"/>
<line x1="630.9" y1="236.8" x2="630.9" y2="234.5" stroke="#000" stroke-width="1.2"/>
<line x1="630.9" y1="4.7" x2="630.9" y2="7" stroke="#000" stroke-width="1.2"/>
<line x1="640.5" y1="236.8" x2="640.5" y2="234.5" stroke="#000" stroke-width="1.2"/>
<line x1="640.5" y1="4.7" x2="640.5" y2="7" stroke="#000" stroke-width="1.2"/>
<line x1="659.7" y1="236.8" x2="659.7" y2="234.5" stroke="#000" stroke-width="1.2"/>
<line x1="659.7" y1="4.7" x2="659.7" y2="7" stroke="#000" stroke-width="1.2"/>
<line x1="669.3" y1="236.8" x2="669.3" y2="234.5" stroke="#000" stroke-width="1.2"/>
<line x1="669.3" y1="4.7" x2="669.3" y2="7" stroke="#000" stroke-width="1.2"/>
<line x1="391.3" y1="236.5" x2="396.3" y2="236.5" stroke="#000" stroke-width="1.2"/>
<line x1="391.3" y1="178.5" x2="396.3" y2="178.5" stroke="#000" stroke-width="1.2"/>
<line x1="391.3" y1="120.5" x2="396.3" y2="120.5" stroke="#000" stroke-width="1.2"/>
<line x1="391.3" y1="62.5" x2="396.3" y2="62.5" stroke="#000" stroke-width="1.2"/>
<line x1="391.3" y1="4.5" x2="396.3" y2="4.5" stroke="#000" stroke-width="1.2"/>
<line x1="391.3" y1="207.5" x2="393.8" y2="207.5" stroke="#000" stroke-width="1.2"/>
<line x1="391.3" y1="149.5" x2="393.8" y2="149.5" stroke="#000" stroke-width="1.2"/>
<line x1="391.3" y1="91.5" x2="393.8" y2="91.5" stroke="#000" stroke-width="1.2"/>
<line x1="391.3" y1="33.5" x2="393.8" y2="33.5" stroke="#000" stroke-width="1.2"/>
<text x="390.9" y="250.2" font-size="12" text-anchor="middle">-10</text>
<text x="419.7" y="250.2" font-size="12" text-anchor="middle">-8</text>
<text x="448.5" y="250.2" font-size="12" text-anchor="middle">-6</text>
<text x="477.3" y="250.2" font-size="12" text-anchor="middle">-4</text>
<text x="506.1" y="250.2" font-size="12" text-anchor="middle">-2</text>
<text x="534.9" y="250.2" font-size="12" text-anchor="middle">0</text>
<text x="563.7" y="250.2" font-size="12" text-anchor="middle">2</text>
<text x="592.5" y="250.2" font-size="12" text-anchor="middle">4</text>
<text x="621.3" y="250.2" font-size="12" text-anchor="middle">6</text>
<text x="650.1" y="250.2" font-size="12" text-anchor="middle">8</text>
<text x="678.9" y="250.2" font-size="12" text-anchor="middle">10</text>
<text x="388.2" y="240.7" font-size="12" text-anchor="end">-4</text>
<text x="388.2" y="182.7" font-size="12" text-anchor="end">-2</text>
<text x="388.2" y="124.7" font-size="12" text-anchor="end">0</text>
<text x="388.2" y="66.7" font-size="12" text-anchor="end">2</text>
<text x="388.2" y="8.7" font-size="12" text-anchor="end">4</text>
<text x="512.6" y="263.6" font-size="12"><tspan font-style="italic">H</tspan> (<tspan font-style="italic">k</tspan>Oe)</text>
<text x="371.7" y="120.3" font-size="12" text-anchor="middle" transform="rotate(-90 371.7 120.3)"><tspan font-style="italic">M</tspan> (<tspan font-style="italic">μ</tspan><tspan font-size="8" dy="2.5" font-style="italic">B</tspan><tspan dy="-2.5">/p.l.)</tspan></text>
<line x1="400" y1="52.2" x2="418.1" y2="52.2" stroke="#ff0000" stroke-width="1.1"/>
<circle cx="409.3" cy="52.2" r="1.5" fill="#ff0000"/>
<text x="421.3" y="56.5" font-size="12" fill="#ff0000"><tspan font-style="italic">n</tspan>=1(S1)</text>
<line x1="400" y1="66.5" x2="418.1" y2="66.5" stroke="#2f8a18" stroke-width="1.3"/>
<g fill="#2f8a18"><path d="M409.3,64.7l1.7,3.1h-3.4z"/></g>
<text x="421.3" y="70.8" font-size="12" fill="#222">LaFe<tspan font-size="7.6" dy="3">0.5</tspan><tspan dy="-3">Ni</tspan><tspan font-size="7.6" dy="3">0.5</tspan><tspan dy="-3">O</tspan><tspan font-size="7.6" dy="3">3</tspan></text>
<text x="502.5" y="21.9" font-size="12" font-weight="bold">LNO<tspan font-size="7" dy="2">n</tspan><tspan dy="-2">/LFO</tspan><tspan font-size="7" dy="2.5">1</tspan></text>
<text x="406.1" y="25.8" font-size="13.5">(b)</text>
<text x="633.7" y="222.6" font-size="11.6"><tspan font-style="italic">T</tspan>=5 K</text>
<rect x="41" y="268.7" width="287.4" height="232.3" fill="none" stroke="#000" stroke-width="1.4"/>
<line x1="40.8" y1="501" x2="40.8" y2="496" stroke="#000" stroke-width="1.2"/>
<line x1="40.8" y1="268.7" x2="40.8" y2="273.7" stroke="#000" stroke-width="1.2"/>
<line x1="81.4" y1="501" x2="81.4" y2="496" stroke="#000" stroke-width="1.2"/>
<line x1="81.4" y1="268.7" x2="81.4" y2="273.7" stroke="#000" stroke-width="1.2"/>
<line x1="122" y1="501" x2="122" y2="496" stroke="#000" stroke-width="1.2"/>
<line x1="122" y1="268.7" x2="122" y2="273.7" stroke="#000" stroke-width="1.2"/>
<line x1="162.5" y1="501" x2="162.5" y2="496" stroke="#000" stroke-width="1.2"/>
<line x1="162.5" y1="268.7" x2="162.5" y2="273.7" stroke="#000" stroke-width="1.2"/>
<line x1="203.1" y1="501" x2="203.1" y2="496" stroke="#000" stroke-width="1.2"/>
<line x1="203.1" y1="268.7" x2="203.1" y2="273.7" stroke="#000" stroke-width="1.2"/>
<line x1="243.7" y1="501" x2="243.7" y2="496" stroke="#000" stroke-width="1.2"/>
<line x1="243.7" y1="268.7" x2="243.7" y2="273.7" stroke="#000" stroke-width="1.2"/>
<line x1="284.2" y1="501" x2="284.2" y2="496" stroke="#000" stroke-width="1.2"/>
<line x1="284.2" y1="268.7" x2="284.2" y2="273.7" stroke="#000" stroke-width="1.2"/>
<line x1="324.8" y1="501" x2="324.8" y2="496" stroke="#000" stroke-width="1.2"/>
<line x1="324.8" y1="268.7" x2="324.8" y2="273.7" stroke="#000" stroke-width="1.2"/>
<line x1="61.1" y1="501" x2="61.1" y2="498.5" stroke="#000" stroke-width="1.2"/>
<line x1="61.1" y1="268.7" x2="61.1" y2="271.2" stroke="#000" stroke-width="1.2"/>
<line x1="101.7" y1="501" x2="101.7" y2="498.5" stroke="#000" stroke-width="1.2"/>
<line x1="101.7" y1="268.7" x2="101.7" y2="271.2" stroke="#000" stroke-width="1.2"/>
<line x1="142.3" y1="501" x2="142.3" y2="498.5" stroke="#000" stroke-width="1.2"/>
<line x1="142.3" y1="268.7" x2="142.3" y2="271.2" stroke="#000" stroke-width="1.2"/>
<line x1="182.8" y1="501" x2="182.8" y2="498.5" stroke="#000" stroke-width="1.2"/>
<line x1="182.8" y1="268.7" x2="182.8" y2="271.2" stroke="#000" stroke-width="1.2"/>
<line x1="223.4" y1="501" x2="223.4" y2="498.5" stroke="#000" stroke-width="1.2"/>
<line x1="223.4" y1="268.7" x2="223.4" y2="271.2" stroke="#000" stroke-width="1.2"/>
<line x1="264" y1="501" x2="264" y2="498.5" stroke="#000" stroke-width="1.2"/>
<line x1="264" y1="268.7" x2="264" y2="271.2" stroke="#000" stroke-width="1.2"/>
<line x1="304.5" y1="501" x2="304.5" y2="498.5" stroke="#000" stroke-width="1.2"/>
<line x1="304.5" y1="268.7" x2="304.5" y2="271.2" stroke="#000" stroke-width="1.2"/>
<line x1="41" y1="500.9" x2="46" y2="500.9" stroke="#000" stroke-width="1.2"/>
<line x1="328.4" y1="500.9" x2="323.4" y2="500.9" stroke="#000" stroke-width="1.2"/>
<line x1="41" y1="467.7" x2="46" y2="467.7" stroke="#000" stroke-width="1.2"/>
<line x1="328.4" y1="467.7" x2="323.4" y2="467.7" stroke="#000" stroke-width="1.2"/>
<line x1="41" y1="434.5" x2="46" y2="434.5" stroke="#000" stroke-width="1.2"/>
<line x1="328.4" y1="434.5" x2="323.4" y2="434.5" stroke="#000" stroke-width="1.2"/>
<line x1="41" y1="401.3" x2="46" y2="401.3" stroke="#000" stroke-width="1.2"/>
<line x1="328.4" y1="401.3" x2="323.4" y2="401.3" stroke="#000" stroke-width="1.2"/>
<line x1="41" y1="368.1" x2="46" y2="368.1" stroke="#000" stroke-width="1.2"/>
<line x1="328.4" y1="368.1" x2="323.4" y2="368.1" stroke="#000" stroke-width="1.2"/>
<line x1="41" y1="334.9" x2="46" y2="334.9" stroke="#000" stroke-width="1.2"/>
<line x1="328.4" y1="334.9" x2="323.4" y2="334.9" stroke="#000" stroke-width="1.2"/>
<line x1="41" y1="301.7" x2="46" y2="301.7" stroke="#000" stroke-width="1.2"/>
<line x1="328.4" y1="301.7" x2="323.4" y2="301.7" stroke="#000" stroke-width="1.2"/>
<line x1="41" y1="268.5" x2="46" y2="268.5" stroke="#000" stroke-width="1.2"/>
<line x1="328.4" y1="268.5" x2="323.4" y2="268.5" stroke="#000" stroke-width="1.2"/>
<line x1="41" y1="484.3" x2="43.5" y2="484.3" stroke="#000" stroke-width="1.2"/>
<line x1="328.4" y1="484.3" x2="325.9" y2="484.3" stroke="#000" stroke-width="1.2"/>
<line x1="41" y1="451.1" x2="43.5" y2="451.1" stroke="#000" stroke-width="1.2"/>
<line x1="328.4" y1="451.1" x2="325.9" y2="451.1" stroke="#000" stroke-width="1.2"/>
<line x1="41" y1="417.9" x2="43.5" y2="417.9" stroke="#000" stroke-width="1.2"/>
<line x1="328.4" y1="417.9" x2="325.9" y2="417.9" stroke="#000" stroke-width="1.2"/>
<line x1="41" y1="384.7" x2="43.5" y2="384.7" stroke="#000" stroke-width="1.2"/>
<line x1="328.4" y1="384.7" x2="325.9" y2="384.7" stroke="#000" stroke-width="1.2"/>
<line x1="41" y1="351.5" x2="43.5" y2="351.5" stroke="#000" stroke-width="1.2"/>
<line x1="328.4" y1="351.5" x2="325.9" y2="351.5" stroke="#000" stroke-width="1.2"/>
<line x1="41" y1="318.3" x2="43.5" y2="318.3" stroke="#000" stroke-width="1.2"/>
<line x1="328.4" y1="318.3" x2="325.9" y2="318.3" stroke="#000" stroke-width="1.2"/>
<line x1="41" y1="285.1" x2="43.5" y2="285.1" stroke="#000" stroke-width="1.2"/>
<line x1="328.4" y1="285.1" x2="325.9" y2="285.1" stroke="#000" stroke-width="1.2"/>
<defs><clipPath id="cc"><rect x="41" y="268.7" width="287.4" height="232.3"/></clipPath></defs><g clip-path="url(#cc)">
<path d="M40.8,441.1 L44.2,441.5 L48.6,442 L53.8,442.5 L59.7,443.1 L65.9,443.8 L72.4,444.5 L78.8,445.2 L85,445.8 L90.7,446.4 L95.8,446.9 L100.4,447.4 L104.7,447.9 L108.9,448.3 L112.9,448.7 L116.8,449.1 L120.5,449.4 L124.1,449.8 L127.5,450.1 L130.9,450.4 L134.1,450.8 L137.2,451.1 L140.1,451.3 L142.8,451.6 L145.4,451.8 L147.9,452 L150.3,452.3 L152.7,452.5 L155.1,452.8 L157.5,453.1 L160,453.4 L162.5,453.8 L165,454.2 L167.5,454.7 L170,455.2 L172.5,455.7 L174.9,456.2 L177.4,456.7 L179.9,457.1 L182.3,457.6 L184.8,458.1 L187.3,458.5 L189.8,458.9 L192.3,459.3 L194.7,459.7 L197.2,460.1 L199.7,460.5 L202.2,460.9 L204.6,461.3 L207.1,461.8 L209.6,462.2 L212.1,462.7 L214.6,463.1 L217,463.6 L219.5,464 L222,464.5 L224.4,465 L226.9,465.5 L229.4,466 L231.9,466.6 L234.3,467.2 L236.9,467.9 L239.5,468.6 L242.2,469.3 L244.9,470.1 L247.6,470.9 L250.2,471.6 L252.7,472.4 L255.1,473.2 L257.3,474 L259.3,474.7 L261.1,475.4 L262.7,476.1 L264.1,476.7 L265.4,477.4 L266.6,478.1 L267.7,478.7 L268.7,479.3 L269.7,479.9 L270.7,480.5 L271.7,481 L272.6,481.5 L273.4,481.9 L274.2,482.3 L274.9,482.6 L275.5,483 L276.2,483.3 L276.8,483.6 L277.5,483.9 L278.3,484.3 L279.1,484.6 L279.9,485 L280.8,485.4 L281.6,485.7 L282.4,486.1 L283.3,486.4 L284.2,486.8 L285.2,487.2 L286.3,487.5 L287.6,487.9 L289,488.3 L290.6,488.7 L292.3,489.1 L294.2,489.5 L296.2,489.9 L298.3,490.3 L300.5,490.7 L302.6,491 L304.8,491.4 L306.9,491.8 L308.9,492.1 L311,492.4 L313.2,492.7 L315.5,493 L317.9,493.3 L320.1,493.6 L322.3,493.8 L324.4,494.1 L326.2,494.3 L327.7,494.4 L328.9,494.6" fill="none" stroke="#80ffff" stroke-width="4.8" stroke-linejoin="round" stroke-linecap="round"/>
<path d="M42,448.4 L42.2,448.5 L42.3,448.6 L42.5,448.7 L42.7,448.9 L42.9,449 L43.2,449.2 L43.5,449.3 L43.8,449.5 L44.2,449.6 L44.7,449.8 L45.2,449.9 L45.7,450.1 L46.3,450.2 L47,450.4 L47.6,450.5 L48.3,450.7 L49.1,450.9 L49.9,451.1 L50.8,451.2 L51.7,451.4 L52.7,451.6 L53.7,451.8 L54.9,452 L56,452.3 L57.3,452.5 L58.5,452.7 L59.7,453 L61,453.2 L62.2,453.5 L63.4,453.8 L64.6,454.1 L65.8,454.4 L67.1,454.8 L68.3,455.1 L69.5,455.5 L70.8,455.9 L71.9,456.2 L73,456.6 L74.1,456.9 L75,457.2 L75.8,457.5 L76.5,457.8 L77.2,458 L77.8,458.2 L78.3,458.4 L78.8,458.6 L79.3,458.8 L79.8,459 L80.4,459.3 L80.9,459.6 L81.5,459.9 L82.1,460.2 L82.6,460.5 L83.2,460.9 L83.8,461.2 L84.4,461.6 L84.9,462 L85.5,462.3 L86.1,462.7 L86.7,463.1 L87.3,463.4 L87.9,463.8 L88.4,464.1 L89,464.5 L89.6,464.9 L90.2,465.2 L90.8,465.6 L91.4,465.9 L92,466.2 L92.6,466.5 L93.2,466.8 L93.7,467.1 L94.2,467.3 L94.6,467.5 L95.1,467.8 L95.7,468 L96.2,468.2 L96.9,468.4 L97.6,468.6 L98.4,468.9 L99.3,469.1 L100.4,469.4 L101.5,469.6 L102.7,469.9 L104,470.1 L105.3,470.4 L106.5,470.7 L107.8,470.9 L109,471.1 L110.1,471.4 L111.1,471.6 L112.1,471.7 L113,471.9 L114,472.1 L114.9,472.2 L115.8,472.4 L116.8,472.5 L117.8,472.7 L118.8,472.8 L120,473 L121.2,473.2 L122.5,473.4 L123.7,473.5 L125.1,473.7 L126.5,473.9 L127.9,474.1 L129.4,474.2 L130.9,474.4 L132.5,474.6 L134.1,474.8 L135.9,475.1 L137.7,475.3 L139.6,475.5 L141.6,475.8 L143.6,476 L145.7,476.3 L147.7,476.5 L149.7,476.8 L151.7,477.1 L153.6,477.3 L155.5,477.6 L157.4,477.9 L159.2,478.3 L161.1,478.6 L162.9,478.9 L164.7,479.2 L166.5,479.6 L168.2,479.8 L169.9,480.1 L171.5,480.3 L172.9,480.5 L174.2,480.6 L175.4,480.7 L176.6,480.8 L177.7,480.9 L178.9,480.9 L180.1,481 L181.5,481.1 L183,481.2 L184.8,481.3 L186.8,481.5 L189,481.6 L191.4,481.8 L193.9,482 L196.5,482.3 L199.1,482.5 L201.8,482.7 L204.5,482.9 L207.1,483.1 L209.6,483.3 L212.1,483.5 L214.6,483.7 L217,483.8 L219.5,484 L222,484.2 L224.4,484.4 L226.9,484.5 L229.4,484.7 L231.9,484.9 L234.3,485.1 L236.8,485.4 L239.3,485.6 L241.8,485.8 L244.3,486.1 L246.8,486.4 L249.3,486.6 L251.8,486.9 L254.3,487.1 L256.8,487.4 L259.3,487.6 L261.8,487.8 L264.3,488.1 L266.7,488.3 L269.2,488.5 L271.7,488.7 L274.1,488.9 L276.6,489.1 L279.1,489.3 L281.5,489.4 L284,489.6 L286.5,489.8 L289.1,489.9 L291.6,490.1 L294.2,490.2 L296.8,490.4 L299.3,490.5 L301.8,490.6 L304.2,490.7 L306.6,490.8 L308.9,490.9 L311.2,491 L313.5,491.1 L315.9,491.2 L318.2,491.3 L320.5,491.4 L322.6,491.4 L324.5,491.5 L326.2,491.5 L327.7,491.6 L328.9,491.6" fill="none" stroke="#2f8a18" stroke-width="5.2" stroke-linejoin="round" stroke-linecap="round"/>
<circle cx="44.2" cy="449.3" r="3.2" fill="#2f8a18"/><circle cx="48.5" cy="451.6" r="2.9" fill="#2f8a18"/>
<path d="M40.8,296.2 L41.4,296.4 L41.9,296.3 L42.6,296.5 L43.2,296.5 L43.9,296.1 L44.7,296.1 L45.4,296.7 L46.3,296.3 L47.1,296.3 L48,296.9 L48.9,296.5 L49.8,296.8 L50.8,296.5 L51.8,296.7 L52.8,296.3 L53.9,296.7 L54.9,296.9 L56,296.6 L57.1,296.8 L58.2,296.8 L59.4,296.3 L60.5,296.9 L61.7,296.8 L62.8,296.6 L64,296.4 L65.2,297.1 L66.3,296.8 L67.5,297 L68.7,297.1 L69.9,297 L71.1,297.2 L72.3,296.8 L73.4,297.1 L74.6,296.9 L75.8,297.3 L76.9,297.3 L78.1,296.7 L79.2,296.7 L80.3,296.8 L81.4,297.4 L82.5,297 L83.6,297.2 L84.7,297 L85.9,297.1 L87,297.1 L88.2,297.1 L89.4,297.3 L90.6,297.3 L91.8,297.6 L93,297.4 L94.2,297.6 L95.4,297.6 L96.6,297.7 L97.9,297.5 L99.1,297.1 L100.3,297.7 L101.6,297.8 L102.8,297.7 L104,297.5 L105.3,297.6 L106.5,297.2 L107.7,297.8 L108.9,297.6 L110.1,297.4 L111.3,297.2 L112.5,297.9 L113.7,298 L114.9,297.3 L116,297.9 L117.2,297.6 L118.3,297.5 L119.4,297.6 L120.5,298 L121.6,298.1 L122.7,297.5 L123.7,298 L124.7,297.6 L125.7,298.1 L126.7,297.9 L127.6,298.4 L128.6,298.5 L129.5,298.1 L130.4,298.6 L131.3,298.1 L132.1,297.9 L133,298.4 L133.8,298 L134.6,298.2 L135.4,298.4 L136.2,298.6 L137,298.3 L137.7,298.2 L138.5,299 L139.2,298.6 L140,299.1 L140.7,299.1 L141.4,298.8 L142.1,298.9 L142.8,299 L143.5,299.2 L144.2,299.2 L144.8,299.2 L145.5,299.3 L146.1,299.6 L146.8,299.4 L147.5,299.3 L148.1,299.6 L148.8,299.3 L149.4,299.4 L150,300 L150.7,299.7 L151.3,299.8 L151.9,299.4 L152.6,299.8 L153.2,300 L153.9,299.6 L154.5,300.1 L155.2,300.2 L155.8,299.8 L156.5,300.3 L157.1,300.2 L157.8,300.5 L158.4,300.2 L159,300.6 L159.7,300.7 L160.3,300.1 L160.9,300.2 L161.5,300.7 L162.2,301 L162.8,300.5 L163.4,300.7 L164,300.9 L164.6,300.7 L165.2,300.8 L165.8,300.8 L166.4,300.9 L167,301.1 L167.6,300.9 L168.1,301 L168.7,301.4 L169.3,300.8 L169.9,301.3 L170.5,301.5 L171,301 L171.6,300.9 L172.2,302.1 L172.7,301 L173.3,301 L173.9,301.5 L174.4,302.1 L175,301 L175.5,301.5 L176.1,301.5 L176.7,302.6 L177.2,301.9 L177.8,302.8 L178.3,301.5 L178.9,301.3 L179.4,303.1 L180,304.4 L180.5,302.2 L181.1,301 L181.6,300.6 L182.2,302.8 L182.7,301.1 L183.2,304.5 L183.8,304.7 L184.3,301.3 L184.8,301.9 L185.4,304.8 L185.9,304 L186.4,305 L186.9,302.6 L187.5,301.5 L188,302.5 L188.5,305.3 L189,302.6 L189.5,303.1 L190,303.5 L190.5,303.7 L191,303.7 L191.6,306.6 L192.1,302.5 L192.6,301.8 L193.1,307 L193.6,306.7 L194.1,307.4 L194.6,304.6 L195.1,307.5 L195.6,307.4 L196.1,303.7 L196.6,306.7 L197.1,307.3 L197.6,306.5 L198.1,305.8 L198.6,304.7 L199.1,305.1 L199.7,304.6 L200.2,303.9 L200.7,306.8 L201.2,305.3 L201.7,308.3 L202.2,304.3 L202.7,309.1 L203.3,308.1 L203.8,309.5 L204.3,309.5 L204.8,309.6 L205.4,308 L205.9,305.1 L206.4,309.2 L207,306.3 L207.5,307.1 L208,309.3 L208.5,308.7 L209.1,308.2 L209.6,311.2 L210.1,309.6 L210.7,308.3 L211.2,308 L211.7,311.5 L212.2,309.6 L212.7,311.4 L213.2,309.2 L213.8,308.6 L214.3,310.5 L214.8,312.2 L215.3,308.9 L215.8,312.5 L216.3,313.3 L216.8,312.9 L217.2,313.1 L217.7,308.9 L218.2,312.4 L218.7,313.9 L219.1,309.7 L219.6,311.1 L220.1,311.2 L220.5,312.8 L221,312.4 L221.4,312.9 L221.8,314.7 L222.3,310.7 L222.7,311.1 L223.1,311.7 L223.6,311.9 L224,311.8 L224.4,316.9 L224.8,316.4 L225.3,312.4 L225.7,314.9 L226.1,314 L226.5,314.2 L226.9,314.6 L227.3,316.4 L227.7,316.3 L228.1,315.3 L228.5,314.5 L228.9,315.5 L229.3,314.6 L229.6,317.1 L230,318.2 L230.4,316.5 L230.7,315.1 L231.1,315.9 L231.5,317.1 L231.8,318.6 L232.2,319.7 L232.5,317.7 L232.9,320.2 L233.2,319.5 L233.5,318.6 L233.8,318.5 L234.2,319.4 L234.5,320.7 L234.8,319.4 L235.1,321.1 L235.4,320 L235.7,319 L236,320.8 L236.3,321.9 L236.5,318.7 L236.8,320.8 L237,321 L237.3,323.7 L237.5,324.2 L237.8,321.4 L238,324.4 L238.2,324 L238.4,321.4 L238.6,322.6 L238.8,321 L239,324.9 L239.2,324.3 L239.4,325.7 L239.6,324.1 L239.8,324.2 L240,324.4 L240.2,324.5 L240.3,324.3 L240.5,324.9 L240.7,324.7 L240.8,325 L241,325.7 L241.2,325.3 L241.3,325.6 L241.5,325.8 L241.7,326.7 L241.8,326.3 L242,326.4 L242.1,327.3 L242.3,326.9 L242.5,327.7 L242.6,327.8 L242.8,328.2 L243,328.5 L243.1,328.4 L243.3,328.8 L243.5,328.5 L243.7,329.3 L243.9,329.3 L244,329.7 L244.2,329.5 L244.4,330.2 L244.6,330.6 L244.7,330.2 L244.9,330.6 L245,331 L245.2,331.5 L245.4,331.2 L245.5,331.4 L245.7,331.7 L245.8,332.2 L246,332.6 L246.2,332.5 L246.3,332.8 L246.5,333 L246.6,333.2 L246.8,333.5 L246.9,333.5 L247.1,334.1 L247.3,334.7 L247.4,334.6 L247.6,335.1 L247.7,334.9 L247.9,335.6 L248.1,335.9 L248.2,336.2 L248.4,336.3 L248.6,336.6 L248.8,337 L248.9,337.6 L249.1,337.3 L249.3,337.6 L249.5,338.4 L249.7,338.9 L249.9,338.9 L250.1,339.2 L250.3,339.8 L250.5,339.8 L250.7,340.3 L250.9,340.6 L251.2,341.3 L251.4,341.5 L251.6,341.9 L251.9,342.7 L252.1,343.4 L252.3,343.3 L252.6,344.1 L252.8,344.3 L253.1,345.2 L253.4,345.4 L253.6,345.7 L253.9,346.1 L254.2,346.5 L254.4,347.3 L254.7,347.8 L255,348.1 L255.2,348.8 L255.5,349.3 L255.8,350.2 L256,350.2 L256.3,351.4 L256.6,351.5 L256.8,352.2 L257.1,352.6 L257.4,353.4 L257.6,354 L257.9,354.3 L258.2,354.7 L258.4,355.5 L258.7,356.1 L258.9,356.3 L259.2,357.1 L259.4,357.8 L259.6,357.9 L259.9,358.2 L260.1,358.7 L260.3,359.6 L260.5,360.1 L260.7,360.8 L260.9,361.2 L261.1,361.3 L261.3,361.7 L261.5,362.3 L261.7,362.7 L261.9,363.6 L262.1,364.3 L262.3,364.8 L262.5,364.8 L262.7,365.8 L262.8,365.8 L263,366.4 L263.2,367.2 L263.4,367.2 L263.6,367.7 L263.7,368.8 L263.9,368.8 L264.1,369.4 L264.2,370.1 L264.4,370.7 L264.6,370.6 L264.7,371.4 L264.9,372 L265,372.5 L265.2,372.8 L265.4,373.6 L265.5,374.4 L265.7,374.4 L265.8,375.1 L266,375.2 L266.2,375.9 L266.3,376.7 L266.5,376.7 L266.6,377.9 L266.8,378.4 L266.9,378.2 L267.1,379.4 L267.3,379.5 L267.4,380.3 L267.6,380.8 L267.7,380.9 L267.9,381.7 L268,382.1 L268.2,382.7 L268.3,382.8 L268.5,383.6 L268.6,384.3 L268.8,384.5 L268.9,384.8 L269.1,385 L269.2,385.7 L269.3,386.1 L269.5,386.8 L269.6,387.2 L269.8,387.6 L269.9,387.7 L270,388.6 L270.2,389 L270.3,389.1 L270.4,390.2 L270.6,390.5 L270.7,390.5 L270.9,391.6 L271,391.5 L271.1,392.1 L271.3,392.9 L271.4,393.3 L271.6,393.8 L271.7,394.4 L271.9,394.8 L272,395.2 L272.2,395.6 L272.3,396.1 L272.5,397.2 L272.6,397.8 L272.8,398.2 L272.9,398.9 L273.1,399.2 L273.3,399.8 L273.4,400.5 L273.6,401.6 L273.8,401.6 L273.9,402.6 L274.1,403.1 L274.3,404.2 L274.5,404.6 L274.6,405.4 L274.8,406.2 L275,407 L275.2,408 L275.4,408.4 L275.6,409.6 L275.8,409.8 L275.9,410.8 L276.1,411.4 L276.3,412.2 L276.5,413.6 L276.7,414.4 L276.9,414.7 L277.1,415.6 L277.3,416.6 L277.5,417.6 L277.7,418.5 L277.9,419.2 L278,419.9 L278.2,420.4 L278.4,421.3 L278.6,422 L278.8,423 L279,423.8 L279.2,424.3 L279.4,425 L279.5,426.2 L279.7,426.3 L279.9,427.6 L280.1,428.4 L280.3,429.1 L280.4,429.3 L280.6,430.1 L280.8,430.7 L280.9,431.4 L281.1,432.2 L281.3,432.6 L281.4,432.9 L281.6,433.9 L281.8,434.2 L281.9,434.8 L282.1,435.5 L282.3,435.4 L282.4,436.6 L282.6,437 L282.7,437.4 L282.9,437.9 L283.1,438.4 L283.2,438.7 L283.4,439.5 L283.5,439.6 L283.7,440.4 L283.8,441 L284,441.3 L284.1,441.9 L284.3,442.7 L284.5,443.1 L284.6,443 L284.8,444 L284.9,444.3 L285.1,444.3 L285.2,445 L285.4,445.3 L285.5,445.6 L285.7,446.5 L285.9,447.2 L286,447.2 L286.2,448 L286.3,448.3 L286.5,448.3 L286.6,449.3 L286.8,449.6 L287,450.3 L287.1,450.5 L287.3,451 L287.5,451.1 L287.6,451.9 L287.8,452.4 L287.9,452.8 L288.1,452.9 L288.3,453.6 L288.4,453.8 L288.6,453.9 L288.7,454.2 L288.9,454.7 L289.1,455.2 L289.2,455.5 L289.4,456.2 L289.5,456.8 L289.7,457 L289.9,457.3 L290,457.9 L290.2,458 L290.4,458.4 L290.5,459.6 L290.7,459 L290.8,458.8 L291,461.1 L291.2,460.9 L291.3,460.4 L291.5,460.8 L291.7,461.5 L291.8,462 L292,461.4 L292.2,461.2 L292.3,462.1 L292.5,463.9 L292.7,462.5 L292.8,463.7 L293,463.3 L293.2,463.7 L293.3,463.9 L293.5,464.8 L293.7,464.5 L293.8,464.4 L294,464.9 L294.2,465.4 L294.3,466.5 L294.5,465.6 L294.7,465.8 L294.9,467.2 L295,467.4 L295.2,468.4 L295.4,467 L295.5,468.1 L295.7,468.4 L295.9,467.6 L296.1,470.3 L296.2,468.6 L296.4,468.5 L296.6,469.8 L296.8,469.2 L296.9,470.6 L297.1,470.1 L297.3,469.8 L297.4,469.8 L297.6,471.8 L297.8,470.8 L298,472.3 L298.2,471.7 L298.3,473.1 L298.5,471.7 L298.7,471.8 L298.9,472 L299,473.6 L299.2,473.3 L299.4,472.8 L299.6,472.3 L299.8,474.1 L299.9,475 L300.1,474.2 L300.3,472.9 L300.5,473.1 L300.7,473.5 L300.8,473.8 L301,473.7 L301.2,473.9 L301.4,475.6 L301.6,476.4 L301.7,474.8 L301.9,477 L302.1,475.8 L302.3,476.8 L302.5,477.3 L302.7,477.5 L302.8,475.3 L303,476.1 L303.2,477.1 L303.4,478.1 L303.6,476 L303.8,476.7 L303.9,478.2 L304.1,476.5 L304.3,477.3 L304.5,477.3 L304.7,478.3 L304.9,479.1 L305.1,477.3 L305.3,478.9 L305.5,479 L305.6,479.4 L305.8,478.8 L306,479.9 L306.2,478.5 L306.4,478.8 L306.6,478.4 L306.8,480 L307,479.3 L307.2,478.9 L307.4,478.8 L307.6,480.3 L307.8,480.1 L308,480.5 L308.2,479.8 L308.4,480.2 L308.6,479.5 L308.8,481 L309,479.3 L309.3,480.6 L309.5,481.5 L309.7,481.4 L309.9,480 L310.1,480.5 L310.3,482.2 L310.5,481.7 L310.7,482.5 L310.9,482.6 L311.1,481.6 L311.3,482.8 L311.5,482.5 L311.8,481.6 L312,481.8 L312.2,481.1 L312.4,482.1 L312.6,483.6 L312.8,481.5 L313.1,482.8 L313.3,481.7 L313.5,481.8 L313.7,483.3 L314,482.4 L314.2,482 L314.4,482.3 L314.7,483.7 L314.9,483.7 L315.2,482.3 L315.4,483 L315.6,485 L315.9,483.1 L316.1,484.1 L316.4,483.9 L316.6,484.9 L316.9,484.6 L317.2,485.2 L317.5,484.6 L317.7,483.8 L318,483.9 L318.3,483.8 L318.7,485.8 L319,484.1 L319.3,484 L319.6,486.6 L320,484.7 L320.3,486.6 L320.6,484.7 L321,485.8 L321.3,485.3 L321.7,487 L322,486.5 L322.4,486.7 L322.8,487.2 L323.1,487.6 L323.4,486.3 L323.8,487.1 L324.1,486.8 L324.5,486.1 L324.8,488.1 L325.1,487.6 L325.5,488.2 L325.8,486.8 L326.1,487.7 L326.4,487.6 L326.7,488.4 L326.9,486.8 L327.2,487.6 L327.5,488.1 L327.7,487.1 L327.9,488.4 L328.2,489 L328.4,488.2 L328.5,488.9 L328.7,488.8 L328.9,487.9" fill="none" stroke="#ff0000" stroke-width="4.3" stroke-linejoin="round" stroke-linecap="round"/>
<rect x="190.5" y="295.8" width="3" height="2.6" fill="#ff0000"/>
<path d="M40.8,498.2 L162.5,497.6 L208,496.8 L210.8,499.2 L224.2,499.2" fill="none" stroke="#a61cf4" stroke-width="4.4" stroke-linejoin="round" stroke-linecap="round"/>
</g>
<text x="40.8" y="513" font-size="12" text-anchor="middle">0</text>
<text x="81.4" y="513" font-size="12" text-anchor="middle">100</text>
<text x="122" y="513" font-size="12" text-anchor="middle">200</text>
<text x="162.5" y="513" font-size="12" text-anchor="middle">300</text>
<text x="203.1" y="513" font-size="12" text-anchor="middle">400</text>
<text x="243.7" y="513" font-size="12" text-anchor="middle">500</text>
<text x="284.2" y="513" font-size="12" text-anchor="middle">600</text>
<text x="324.8" y="513" font-size="12" text-anchor="middle">700</text>
<text x="34.8" y="505.1" font-size="12" text-anchor="end">0</text>
<text x="34.8" y="471.9" font-size="12" text-anchor="end">20</text>
<text x="34.8" y="438.7" font-size="12" text-anchor="end">40</text>
<text x="34.8" y="405.5" font-size="12" text-anchor="end">60</text>
<text x="34.8" y="372.3" font-size="12" text-anchor="end">80</text>
<text x="34.8" y="339.1" font-size="12" text-anchor="end">100</text>
<text x="34.8" y="305.9" font-size="12" text-anchor="end">120</text>
<text x="34.8" y="272.7" font-size="12" text-anchor="end">140</text>
<text x="173.9" y="525.7" font-size="12"><tspan font-style="italic">T</tspan> (K)</text>
<text x="13.2" y="376.5" font-size="12" text-anchor="middle" transform="rotate(-90 13.2 376.5)"><tspan font-style="italic">M</tspan> (emu/cm<tspan font-size="8" dy="-5">3</tspan><tspan dy="5">)</tspan></text>
<text x="62.2" y="287.2" font-size="12"><tspan font-style="italic">H</tspan>=1500 Oe</text>
<text x="157.9" y="285.1" font-size="12.8" font-weight="bold">LNO<tspan font-size="11.5" dy="2.8">n</tspan><tspan dy="-2.8">/LFO</tspan><tspan font-size="11.5" dy="2.8">1</tspan></text>
<text x="294.5" y="290.5" font-size="13.5">(c)</text>
<line x1="57.2" y1="321.2" x2="82.9" y2="321.2" stroke="#ff8a8a" stroke-width="0.8"/>
<line x1="57.2" y1="335.7" x2="82.9" y2="335.7" stroke="#b8ffff" stroke-width="0.8"/>
<line x1="57.2" y1="350.1" x2="82.9" y2="350.1" stroke="#c89cff" stroke-width="0.8"/>
<line x1="57.2" y1="364.6" x2="82.9" y2="364.6" stroke="#a8d2a0" stroke-width="0.8"/>
<rect x="68.4" y="319.5" width="3.4" height="3.4" fill="#ff0000"/>
<rect x="67.6" y="333.2" width="5" height="5" fill="#80ffff"/>
<path d="M70.1,346.9 l3.2,3.2 l-3.2,3.2 l-3.2,-3.2z" fill="#a61cf4"/>
<circle cx="70.1" cy="364.6" r="3.1" fill="#2f8a18"/>
<text x="86.9" y="325.4" font-size="12" fill="#ff0000"><tspan font-style="italic">n</tspan>=1 (S1)</text>
<text x="86.9" y="339.9" font-size="12" fill="#80ffff"><tspan font-style="italic">n</tspan>=3</text>
<text x="86.9" y="354.3" font-size="12" fill="#a61cf4"><tspan font-style="italic">n</tspan>=5</text>
<text x="87.3" y="368.8" font-size="12" fill="#222">LaNi<tspan font-size="7.6" dy="3">0.5</tspan><tspan dy="-3">Fe</tspan><tspan font-size="7.6" dy="3">0.5</tspan><tspan dy="-3">O</tspan><tspan font-size="7.6" dy="3">3</tspan></text>
<text x="72.7" y="435.3" font-size="11.5" fill="#2f8a18"><tspan font-style="italic">T</tspan><tspan font-size="7.8" dy="2.5">C</tspan><tspan dy="-2.5">=109 K</tspan></text>
<line x1="85.4" y1="443" x2="85.4" y2="457.6" stroke="#2f8a18" stroke-width="1.1"/>
<path d="M83.1,453.1 L85.4,461.6 L87.7,453.1 Z" fill="#2f8a18"/>
<text x="171.2" y="475" font-size="11.5" fill="#a61cf4"><tspan font-style="italic">T</tspan><tspan font-size="7.8" dy="2.5">C</tspan><tspan dy="-2.5">=419 K</tspan></text>
<line x1="209.3" y1="477.5" x2="209.3" y2="494.3" stroke="#a61cf4" stroke-width="1.1"/>
<path d="M207,489.8 L209.3,498.3 L211.6,489.8 Z" fill="#a61cf4"/>
<text x="241.9" y="456.2" font-size="11.5" fill="#80ffff"><tspan font-style="italic">T</tspan><tspan font-size="7.8" dy="2.5">C</tspan><tspan dy="-2.5">=589 K</tspan></text>
<line x1="279.2" y1="461" x2="279.2" y2="479" stroke="#80ffff" stroke-width="1.1"/>
<path d="M276.9,474.5 L279.2,483 L281.5,474.5 Z" fill="#80ffff"/>
<text x="279.6" y="414.6" font-size="11.5" fill="#ff0000"><tspan font-style="italic">T</tspan><tspan font-size="7.8" dy="2.5">C</tspan><tspan dy="-2.5">=608 K</tspan></text>
<line x1="287.7" y1="420.4" x2="287.7" y2="437.8" stroke="#ff0000" stroke-width="1.1"/>
<path d="M285.4,433.3 L287.7,441.8 L290,433.3 Z" fill="#ff0000"/>
<path d="M544.8,279.8 L546.9,281.8 L549,283.9 L551.1,286 L553.3,288.1 L555.4,290.2 L557.5,292.3 L559.6,294.5 L561.7,296.6 L563.9,298.7 L566,300.8 L568.1,302.9 L570.2,305 L572.3,307.1 L574.5,309.2 L576.6,311.2 L578.7,313.3 L580.8,315.4 L582.9,317.4 L585.1,319.5 L587.2,321.5 L589.3,323.5 L591.4,325.5 L593.5,327.5 L595.7,329.5 L597.8,331.4 L599.9,333.4 L602,335.3 L604.2,337.2 L606.3,339.1 L608.4,341 L610.5,342.8 L612.6,344.6 L614.8,346.4 L616.9,348.2 L619,349.9 L621.1,351.6 L623.2,353.3 L625.4,355 L627.5,356.6 L629.6,358.2 L631.7,359.8 L633.8,361.3 L636,362.8 L638.1,364.3 L640.2,365.7 L642.3,367.1 L644.4,368.5 L646.6,369.8 L648.7,371 L650.8,372.3 L652.9,373.5 L655,374.6 L657.2,375.7 L659.3,376.8 L661.4,377.8 L663.5,378.8 L665.6,379.7 L667.8,380.6 L669.9,381.4" fill="none" stroke="#80ffff" stroke-width="5.6" stroke-linejoin="round" stroke-linecap="round" stroke-linecap="square"/>
<path d="M625.9,363 L626.5,363.5 L627.4,364.2 L628.4,364.9 L629.5,365.8 L630.8,366.7 L632,367.7 L633.3,368.7 L634.5,369.7 L635.7,370.7 L636.8,371.6 L637.9,372.5 L638.9,373.5 L639.9,374.6 L640.9,375.6 L641.8,376.7 L642.8,377.7 L643.8,378.7 L644.7,379.7 L645.7,380.6 L646.7,381.4 L647.6,382.2 L648.6,382.9 L649.5,383.6 L650.5,384.2 L651.4,384.8 L652.3,385.4 L653.3,385.9 L654.3,386.5 L655.3,387 L656.4,387.5 L657.6,388 L658.9,388.5 L660.3,389 L661.7,389.5 L663.2,390 L664.5,390.4 L665.8,390.8 L667,391.2 L667.9,391.5 L668.7,391.7" fill="none" stroke="#ff0000" stroke-width="3.8" stroke-linejoin="round" stroke-linecap="round"/>
<path d="M395.7,451.3 L399.1,453.2 L402.6,455 L406,456.7 L409.5,458.4 L413,460 L416.4,461.5 L419.9,463 L423.4,464.4 L426.8,465.7 L430.3,467 L433.7,468.3 L437.2,469.5 L440.7,470.6 L444.1,471.7 L447.6,472.8 L451.1,473.8 L454.5,474.7 L458,475.7 L461.5,476.5 L464.9,477.4 L468.4,478.2 L471.8,478.9 L475.3,479.7 L478.8,480.4 L482.2,481 L485.7,481.7 L489.2,482.3 L492.6,482.9 L496.1,483.4 L499.5,484 L503,484.5 L506.5,485 L509.9,485.4 L513.4,485.9 L516.9,486.3 L520.3,486.7 L523.8,487.1 L527.2,487.5 L530.7,487.8 L534.2,488.2 L537.6,488.5 L541.1,488.8 L544.6,489.1 L548,489.4 L551.5,489.7 L555,490 L558.4,490.3 L561.9,490.5 L565.3,490.8 L568.8,491 L572.3,491.3 L575.7,491.5 L579.2,491.7 L582.7,492 L586.1,492.2 L589.6,492.4 L593,492.6 L596.5,492.8 L600,493 L603.4,493.2 L606.9,493.5 L610.4,493.7 L613.8,493.9 L617.3,494 L620.7,494.2 L624.2,494.4 L627.7,494.6 L631.1,494.8 L634.6,495 L638.1,495.2 L641.5,495.4 L645,495.6 L648.5,495.8 L651.9,496 L655.4,496.1 L658.8,496.3 L662.3,496.5 L665.8,496.7 L669.2,496.8" fill="none" stroke="#a61cf4" stroke-width="4.8" stroke-linejoin="round" stroke-linecap="round" stroke-linecap="butt"/>
<rect x="391.6" y="268.7" width="287.5" height="232.3" fill="none" stroke="#000" stroke-width="1.4"/>
<line x1="391.2" y1="501" x2="391.2" y2="496" stroke="#000" stroke-width="1.2"/>
<line x1="391.2" y1="268.7" x2="391.2" y2="273.7" stroke="#000" stroke-width="1.2"/>
<line x1="437.6" y1="501" x2="437.6" y2="496" stroke="#000" stroke-width="1.2"/>
<line x1="437.6" y1="268.7" x2="437.6" y2="273.7" stroke="#000" stroke-width="1.2"/>
<line x1="484" y1="501" x2="484" y2="496" stroke="#000" stroke-width="1.2"/>
<line x1="484" y1="268.7" x2="484" y2="273.7" stroke="#000" stroke-width="1.2"/>
<line x1="530.4" y1="501" x2="530.4" y2="496" stroke="#000" stroke-width="1.2"/>
<line x1="530.4" y1="268.7" x2="530.4" y2="273.7" stroke="#000" stroke-width="1.2"/>
<line x1="576.8" y1="501" x2="576.8" y2="496" stroke="#000" stroke-width="1.2"/>
<line x1="576.8" y1="268.7" x2="576.8" y2="273.7" stroke="#000" stroke-width="1.2"/>
<line x1="623.2" y1="501" x2="623.2" y2="496" stroke="#000" stroke-width="1.2"/>
<line x1="623.2" y1="268.7" x2="623.2" y2="273.7" stroke="#000" stroke-width="1.2"/>
<line x1="669.6" y1="501" x2="669.6" y2="496" stroke="#000" stroke-width="1.2"/>
<line x1="669.6" y1="268.7" x2="669.6" y2="273.7" stroke="#000" stroke-width="1.2"/>
<line x1="414.4" y1="501" x2="414.4" y2="498.5" stroke="#000" stroke-width="1.2"/>
<line x1="414.4" y1="268.7" x2="414.4" y2="271.2" stroke="#000" stroke-width="1.2"/>
<line x1="460.8" y1="501" x2="460.8" y2="498.5" stroke="#000" stroke-width="1.2"/>
<line x1="460.8" y1="268.7" x2="460.8" y2="271.2" stroke="#000" stroke-width="1.2"/>
<line x1="507.2" y1="501" x2="507.2" y2="498.5" stroke="#000" stroke-width="1.2"/>
<line x1="507.2" y1="268.7" x2="507.2" y2="271.2" stroke="#000" stroke-width="1.2"/>
<line x1="553.6" y1="501" x2="553.6" y2="498.5" stroke="#000" stroke-width="1.2"/>
<line x1="553.6" y1="268.7" x2="553.6" y2="271.2" stroke="#000" stroke-width="1.2"/>
<line x1="600" y1="501" x2="600" y2="498.5" stroke="#000" stroke-width="1.2"/>
<line x1="600" y1="268.7" x2="600" y2="271.2" stroke="#000" stroke-width="1.2"/>
<line x1="646.4" y1="501" x2="646.4" y2="498.5" stroke="#000" stroke-width="1.2"/>
<line x1="646.4" y1="268.7" x2="646.4" y2="271.2" stroke="#000" stroke-width="1.2"/>
<line x1="391.6" y1="463.7" x2="396.6" y2="463.7" stroke="#000" stroke-width="1.2"/>
<line x1="679.1" y1="463.7" x2="674.1" y2="463.7" stroke="#000" stroke-width="1.2"/>
<line x1="391.6" y1="409.3" x2="396.6" y2="409.3" stroke="#000" stroke-width="1.2"/>
<line x1="679.1" y1="409.3" x2="674.1" y2="409.3" stroke="#000" stroke-width="1.2"/>
<line x1="391.6" y1="355" x2="396.6" y2="355" stroke="#000" stroke-width="1.2"/>
<line x1="679.1" y1="355" x2="674.1" y2="355" stroke="#000" stroke-width="1.2"/>
<line x1="391.6" y1="300.7" x2="396.6" y2="300.7" stroke="#000" stroke-width="1.2"/>
<line x1="679.1" y1="300.7" x2="674.1" y2="300.7" stroke="#000" stroke-width="1.2"/>
<line x1="391.6" y1="492.1" x2="394.1" y2="492.1" stroke="#000" stroke-width="1.2"/>
<line x1="679.1" y1="492.1" x2="676.6" y2="492.1" stroke="#000" stroke-width="1.2"/>
<line x1="391.6" y1="485.3" x2="394.1" y2="485.3" stroke="#000" stroke-width="1.2"/>
<line x1="679.1" y1="485.3" x2="676.6" y2="485.3" stroke="#000" stroke-width="1.2"/>
<line x1="391.6" y1="480" x2="394.1" y2="480" stroke="#000" stroke-width="1.2"/>
<line x1="679.1" y1="480" x2="676.6" y2="480" stroke="#000" stroke-width="1.2"/>
<line x1="391.6" y1="475.7" x2="394.1" y2="475.7" stroke="#000" stroke-width="1.2"/>
<line x1="679.1" y1="475.7" x2="676.6" y2="475.7" stroke="#000" stroke-width="1.2"/>
<line x1="391.6" y1="472.1" x2="394.1" y2="472.1" stroke="#000" stroke-width="1.2"/>
<line x1="679.1" y1="472.1" x2="676.6" y2="472.1" stroke="#000" stroke-width="1.2"/>
<line x1="391.6" y1="468.9" x2="394.1" y2="468.9" stroke="#000" stroke-width="1.2"/>
<line x1="679.1" y1="468.9" x2="676.6" y2="468.9" stroke="#000" stroke-width="1.2"/>
<line x1="391.6" y1="466.1" x2="394.1" y2="466.1" stroke="#000" stroke-width="1.2"/>
<line x1="679.1" y1="466.1" x2="676.6" y2="466.1" stroke="#000" stroke-width="1.2"/>
<line x1="391.6" y1="447.3" x2="394.1" y2="447.3" stroke="#000" stroke-width="1.2"/>
<line x1="679.1" y1="447.3" x2="676.6" y2="447.3" stroke="#000" stroke-width="1.2"/>
<line x1="391.6" y1="437.7" x2="394.1" y2="437.7" stroke="#000" stroke-width="1.2"/>
<line x1="679.1" y1="437.7" x2="676.6" y2="437.7" stroke="#000" stroke-width="1.2"/>
<line x1="391.6" y1="431" x2="394.1" y2="431" stroke="#000" stroke-width="1.2"/>
<line x1="679.1" y1="431" x2="676.6" y2="431" stroke="#000" stroke-width="1.2"/>
<line x1="391.6" y1="425.7" x2="394.1" y2="425.7" stroke="#000" stroke-width="1.2"/>
<line x1="679.1" y1="425.7" x2="676.6" y2="425.7" stroke="#000" stroke-width="1.2"/>
<line x1="391.6" y1="421.4" x2="394.1" y2="421.4" stroke="#000" stroke-width="1.2"/>
<line x1="679.1" y1="421.4" x2="676.6" y2="421.4" stroke="#000" stroke-width="1.2"/>
<line x1="391.6" y1="417.7" x2="394.1" y2="417.7" stroke="#000" stroke-width="1.2"/>
<line x1="679.1" y1="417.7" x2="676.6" y2="417.7" stroke="#000" stroke-width="1.2"/>
<line x1="391.6" y1="414.6" x2="394.1" y2="414.6" stroke="#000" stroke-width="1.2"/>
<line x1="679.1" y1="414.6" x2="676.6" y2="414.6" stroke="#000" stroke-width="1.2"/>
<line x1="391.6" y1="411.8" x2="394.1" y2="411.8" stroke="#000" stroke-width="1.2"/>
<line x1="679.1" y1="411.8" x2="676.6" y2="411.8" stroke="#000" stroke-width="1.2"/>
<line x1="391.6" y1="393" x2="394.1" y2="393" stroke="#000" stroke-width="1.2"/>
<line x1="679.1" y1="393" x2="676.6" y2="393" stroke="#000" stroke-width="1.2"/>
<line x1="391.6" y1="383.4" x2="394.1" y2="383.4" stroke="#000" stroke-width="1.2"/>
<line x1="679.1" y1="383.4" x2="676.6" y2="383.4" stroke="#000" stroke-width="1.2"/>
<line x1="391.6" y1="376.6" x2="394.1" y2="376.6" stroke="#000" stroke-width="1.2"/>
<line x1="679.1" y1="376.6" x2="676.6" y2="376.6" stroke="#000" stroke-width="1.2"/>
<line x1="391.6" y1="371.4" x2="394.1" y2="371.4" stroke="#000" stroke-width="1.2"/>
<line x1="679.1" y1="371.4" x2="676.6" y2="371.4" stroke="#000" stroke-width="1.2"/>
<line x1="391.6" y1="367.1" x2="394.1" y2="367.1" stroke="#000" stroke-width="1.2"/>
<line x1="679.1" y1="367.1" x2="676.6" y2="367.1" stroke="#000" stroke-width="1.2"/>
<line x1="391.6" y1="363.4" x2="394.1" y2="363.4" stroke="#000" stroke-width="1.2"/>
<line x1="679.1" y1="363.4" x2="676.6" y2="363.4" stroke="#000" stroke-width="1.2"/>
<line x1="391.6" y1="360.3" x2="394.1" y2="360.3" stroke="#000" stroke-width="1.2"/>
<line x1="679.1" y1="360.3" x2="676.6" y2="360.3" stroke="#000" stroke-width="1.2"/>
<line x1="391.6" y1="357.5" x2="394.1" y2="357.5" stroke="#000" stroke-width="1.2"/>
<line x1="679.1" y1="357.5" x2="676.6" y2="357.5" stroke="#000" stroke-width="1.2"/>
<line x1="391.6" y1="338.6" x2="394.1" y2="338.6" stroke="#000" stroke-width="1.2"/>
<line x1="679.1" y1="338.6" x2="676.6" y2="338.6" stroke="#000" stroke-width="1.2"/>
<line x1="391.6" y1="329.1" x2="394.1" y2="329.1" stroke="#000" stroke-width="1.2"/>
<line x1="679.1" y1="329.1" x2="676.6" y2="329.1" stroke="#000" stroke-width="1.2"/>
<line x1="391.6" y1="322.3" x2="394.1" y2="322.3" stroke="#000" stroke-width="1.2"/>
<line x1="679.1" y1="322.3" x2="676.6" y2="322.3" stroke="#000" stroke-width="1.2"/>
<line x1="391.6" y1="317" x2="394.1" y2="317" stroke="#000" stroke-width="1.2"/>
<line x1="679.1" y1="317" x2="676.6" y2="317" stroke="#000" stroke-width="1.2"/>
<line x1="391.6" y1="312.7" x2="394.1" y2="312.7" stroke="#000" stroke-width="1.2"/>
<line x1="679.1" y1="312.7" x2="676.6" y2="312.7" stroke="#000" stroke-width="1.2"/>
<line x1="391.6" y1="309.1" x2="394.1" y2="309.1" stroke="#000" stroke-width="1.2"/>
<line x1="679.1" y1="309.1" x2="676.6" y2="309.1" stroke="#000" stroke-width="1.2"/>
<line x1="391.6" y1="305.9" x2="394.1" y2="305.9" stroke="#000" stroke-width="1.2"/>
<line x1="679.1" y1="305.9" x2="676.6" y2="305.9" stroke="#000" stroke-width="1.2"/>
<line x1="391.6" y1="303.2" x2="394.1" y2="303.2" stroke="#000" stroke-width="1.2"/>
<line x1="679.1" y1="303.2" x2="676.6" y2="303.2" stroke="#000" stroke-width="1.2"/>
<line x1="391.6" y1="284.3" x2="394.1" y2="284.3" stroke="#000" stroke-width="1.2"/>
<line x1="679.1" y1="284.3" x2="676.6" y2="284.3" stroke="#000" stroke-width="1.2"/>
<line x1="391.6" y1="274.7" x2="394.1" y2="274.7" stroke="#000" stroke-width="1.2"/>
<line x1="679.1" y1="274.7" x2="676.6" y2="274.7" stroke="#000" stroke-width="1.2"/>
<text x="391.2" y="515.8" font-size="12" text-anchor="middle">0</text>
<text x="437.6" y="515.8" font-size="12" text-anchor="middle">50</text>
<text x="484" y="515.8" font-size="12" text-anchor="middle">100</text>
<text x="530.4" y="515.8" font-size="12" text-anchor="middle">150</text>
<text x="576.8" y="515.8" font-size="12" text-anchor="middle">200</text>
<text x="623.2" y="515.8" font-size="12" text-anchor="middle">250</text>
<text x="669.6" y="515.8" font-size="12" text-anchor="middle">300</text>
<text x="385.3" y="468.1" font-size="12" text-anchor="end">10<tspan font-size="7.2" dy="-4.8">-2</tspan></text>
<text x="385.3" y="413.7" font-size="12" text-anchor="end">10<tspan font-size="7.2" dy="-4.8">-1</tspan></text>
<text x="385.3" y="359.4" font-size="12" text-anchor="end">10<tspan font-size="7.2" dy="-4.8">0</tspan></text>
<text x="385.3" y="305.1" font-size="12" text-anchor="end">10<tspan font-size="7.2" dy="-4.8">1</tspan></text>
<text x="522.2" y="528.6" font-size="12"><tspan font-style="italic">T</tspan> (K)</text>
<text x="360.3" y="380.3" font-size="12" text-anchor="middle" transform="rotate(-90 360.3 380.3)"><tspan font-style="italic">ρ</tspan> (Ω cm)</text>
<text x="406" y="289" font-size="13.5">(d)</text>
<text x="416.2" y="312.6" font-size="12.8" font-weight="bold">LNO<tspan font-size="11.5" dy="2.8">n</tspan><tspan dy="-2.8">/LFO</tspan><tspan font-size="11.5" dy="2.8">1</tspan></text>
<line x1="418.7" y1="328" x2="442.9" y2="328" stroke="#ff0000" stroke-width="1.1"/>
<circle cx="432.2" cy="328" r="2.6" fill="#ff0000"/>
<line x1="418.7" y1="342.5" x2="442.9" y2="342.5" stroke="#80ffff" stroke-width="1.1"/>
<rect x="429.7" y="340" width="5" height="5" fill="#80ffff"/>
<line x1="418.7" y1="357" x2="442.9" y2="357" stroke="#a61cf4" stroke-width="1.1"/>
<path d="M432.2,353.6 l3,5.2 h-6z" fill="#a61cf4"/>
<text x="448" y="332.2" font-size="12" fill="#ff0000"><tspan font-style="italic">n</tspan>=1</text>
<text x="448" y="346.7" font-size="12" fill="#80ffff"><tspan font-style="italic">n</tspan>=3</text>
<text x="448" y="361.2" font-size="12" fill="#a61cf4"><tspan font-style="italic">n</tspan>=5</text>
<text x="417" y="384.5" font-size="11.7" fill="#222">LaFe<tspan font-size="7.6" dy="3">0.5</tspan><tspan dy="-3">Ni</tspan><tspan font-size="7.6" dy="3">0.5</tspan><tspan dy="-3">O</tspan><tspan font-size="7.6" dy="3">3</tspan><tspan dy="-3"> highly insulating</tspan></text>
</svg>
</body></html>
